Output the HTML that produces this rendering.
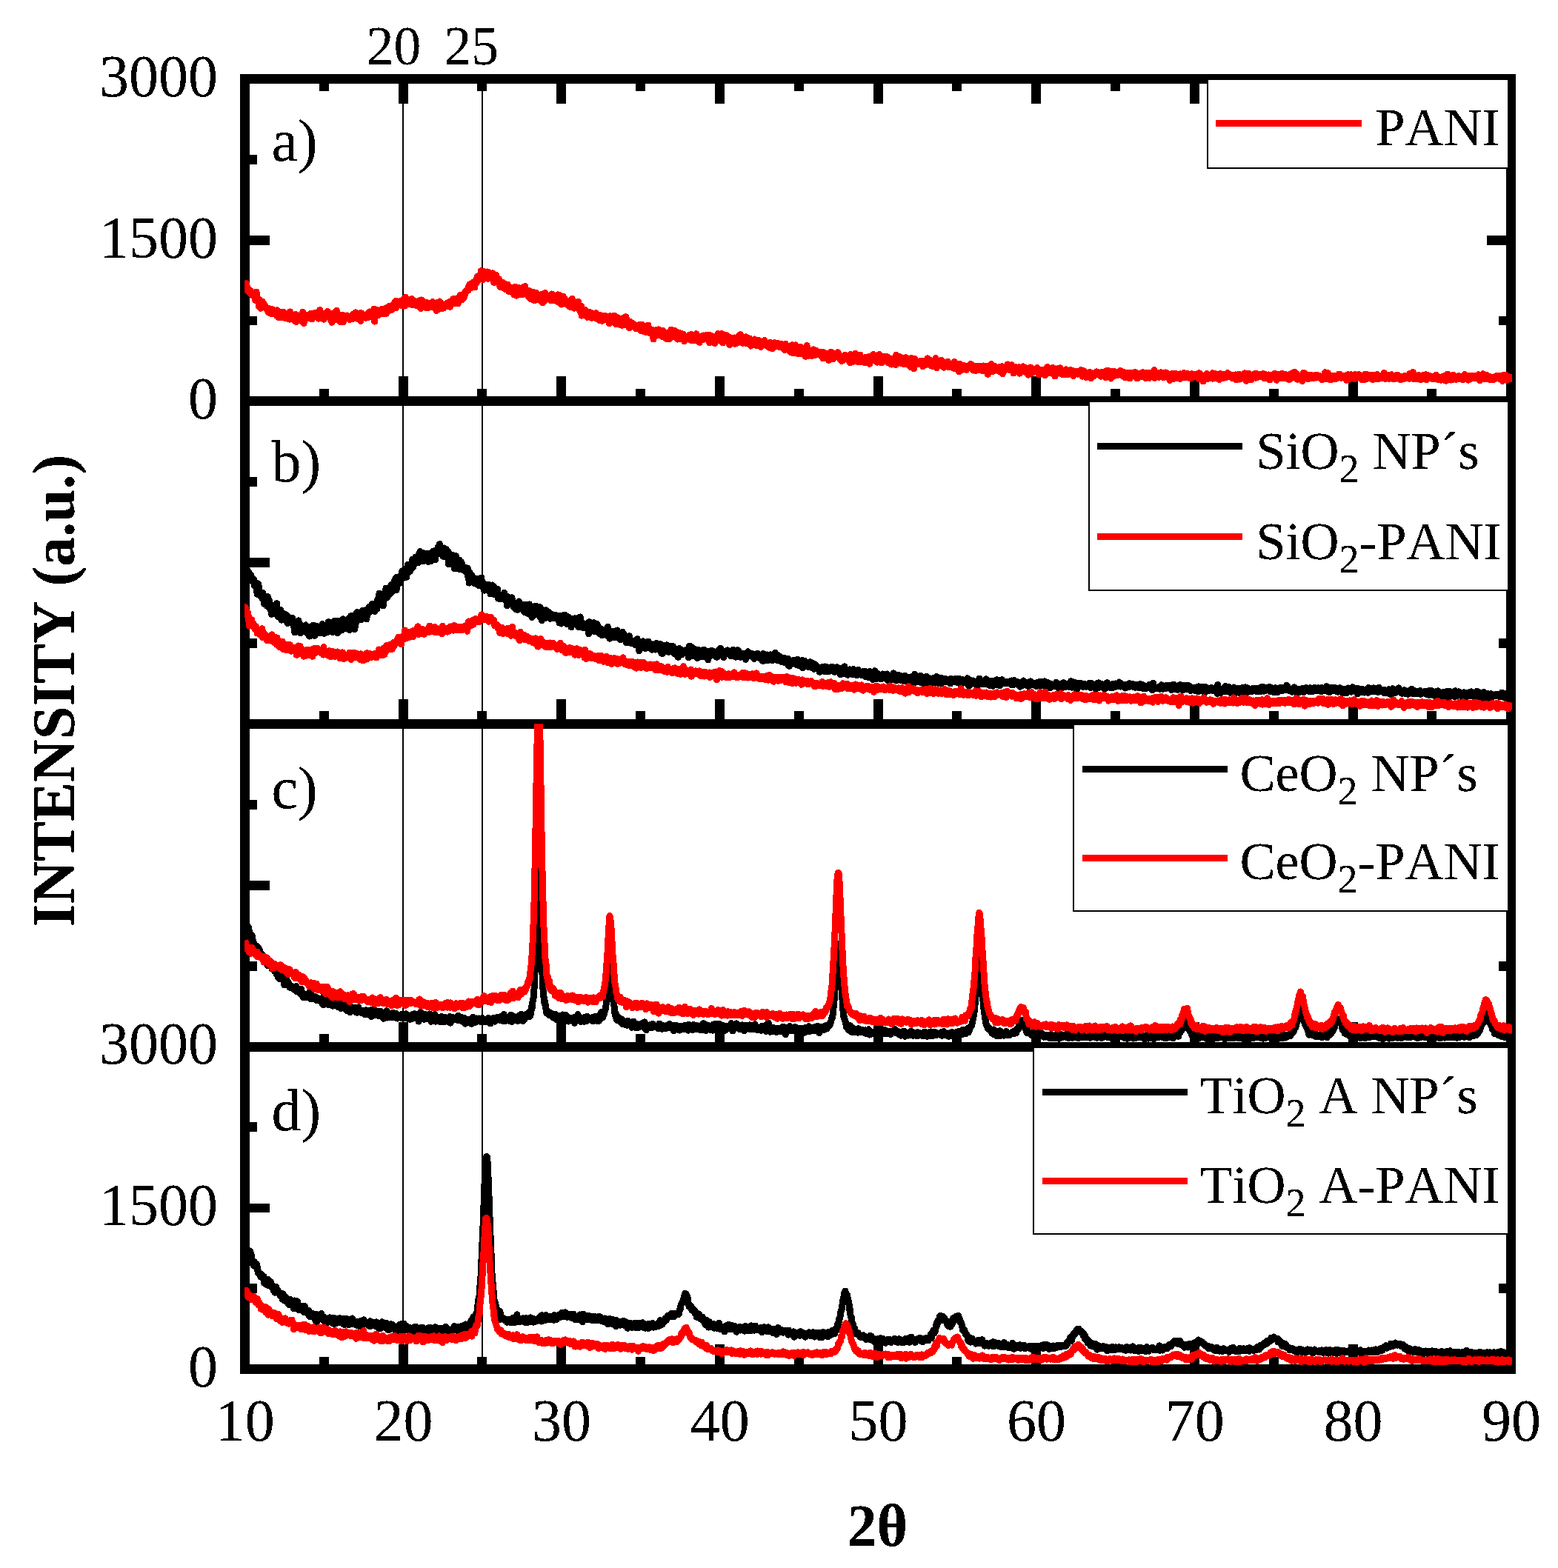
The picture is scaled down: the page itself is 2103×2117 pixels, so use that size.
<!DOCTYPE html>
<html lang="en"><head><meta charset="utf-8"><title>XRD patterns</title>
<style>
html,body{margin:0;padding:0;background:#fff}
body{width:2103px;height:2117px;overflow:hidden}
svg{display:block}
text{filter:url(#bi);font-kerning:none;font-family:"Liberation Serif","DejaVu Serif",serif;fill:#000}
.tk{font-size:80px}
.lg{font-size:72px}
.tp{font-size:73.5px}
.sb{font-size:54px}
.ti{font-size:80px;font-weight:bold}
</style></head><body>
<svg width="2103" height="2117" viewBox="0 0 2103 2117" shape-rendering="crispEdges">
<rect width="2103" height="2117" fill="#fff"/>
<defs><filter id="bi" x="-5%" y="-5%" width="110%" height="110%" color-interpolation-filters="sRGB"><feComponentTransfer><feFuncA type="discrete" tableValues="0 0 1 1 1"/></feComponentTransfer></filter></defs>
<g id="axes" fill="#000">
<rect x="324" y="508" width="13" height="34"/>
<rect x="324" y="107" width="13" height="33"/>
<rect x="431" y="525" width="13" height="17"/>
<rect x="431" y="107" width="13" height="16"/>
<rect x="538" y="508" width="13" height="34"/>
<rect x="538" y="107" width="13" height="33"/>
<rect x="644" y="525" width="13" height="17"/>
<rect x="644" y="107" width="13" height="16"/>
<rect x="751" y="508" width="13" height="34"/>
<rect x="751" y="107" width="13" height="33"/>
<rect x="858" y="525" width="13" height="17"/>
<rect x="858" y="107" width="13" height="16"/>
<rect x="965" y="508" width="13" height="34"/>
<rect x="965" y="107" width="13" height="33"/>
<rect x="1072" y="525" width="13" height="17"/>
<rect x="1072" y="107" width="13" height="16"/>
<rect x="1179" y="508" width="13" height="34"/>
<rect x="1179" y="107" width="13" height="33"/>
<rect x="1285" y="525" width="13" height="17"/>
<rect x="1285" y="107" width="13" height="16"/>
<rect x="1392" y="508" width="13" height="34"/>
<rect x="1392" y="107" width="13" height="33"/>
<rect x="1499" y="525" width="13" height="17"/>
<rect x="1499" y="107" width="13" height="16"/>
<rect x="1606" y="508" width="13" height="34"/>
<rect x="1606" y="107" width="13" height="33"/>
<rect x="1713" y="525" width="13" height="17"/>
<rect x="1713" y="107" width="13" height="16"/>
<rect x="1820" y="508" width="13" height="34"/>
<rect x="1820" y="107" width="13" height="33"/>
<rect x="1926" y="525" width="13" height="17"/>
<rect x="1926" y="107" width="13" height="16"/>
<rect x="2033" y="508" width="13" height="34"/>
<rect x="2033" y="107" width="13" height="33"/>
<rect x="331" y="100" width="33" height="13"/>
<rect x="2007" y="100" width="33" height="13"/>
<rect x="331" y="209" width="16" height="13"/>
<rect x="2023" y="209" width="17" height="13"/>
<rect x="331" y="318" width="33" height="13"/>
<rect x="2007" y="318" width="33" height="13"/>
<rect x="331" y="427" width="16" height="12"/>
<rect x="2023" y="427" width="17" height="12"/>
<rect x="331" y="535" width="33" height="13"/>
<rect x="2007" y="535" width="33" height="13"/>
<rect x="324" y="944" width="13" height="34"/>
<rect x="431" y="960" width="13" height="18"/>
<rect x="538" y="944" width="13" height="34"/>
<rect x="644" y="960" width="13" height="18"/>
<rect x="751" y="944" width="13" height="34"/>
<rect x="858" y="960" width="13" height="18"/>
<rect x="965" y="944" width="13" height="34"/>
<rect x="1072" y="960" width="13" height="18"/>
<rect x="1179" y="944" width="13" height="34"/>
<rect x="1285" y="960" width="13" height="18"/>
<rect x="1392" y="944" width="13" height="34"/>
<rect x="1499" y="960" width="13" height="18"/>
<rect x="1606" y="944" width="13" height="34"/>
<rect x="1713" y="960" width="13" height="18"/>
<rect x="1820" y="944" width="13" height="34"/>
<rect x="1926" y="960" width="13" height="18"/>
<rect x="2033" y="944" width="13" height="34"/>
<rect x="331" y="535" width="33" height="13"/>
<rect x="2007" y="535" width="33" height="13"/>
<rect x="331" y="644" width="16" height="13"/>
<rect x="2023" y="644" width="17" height="13"/>
<rect x="331" y="753" width="33" height="13"/>
<rect x="2007" y="753" width="33" height="13"/>
<rect x="331" y="862" width="16" height="13"/>
<rect x="2023" y="862" width="17" height="13"/>
<rect x="331" y="971" width="33" height="13"/>
<rect x="2007" y="971" width="33" height="13"/>
<rect x="324" y="1380" width="13" height="34"/>
<rect x="431" y="1396" width="13" height="18"/>
<rect x="538" y="1380" width="13" height="34"/>
<rect x="644" y="1396" width="13" height="18"/>
<rect x="751" y="1380" width="13" height="34"/>
<rect x="858" y="1396" width="13" height="18"/>
<rect x="965" y="1380" width="13" height="34"/>
<rect x="1072" y="1396" width="13" height="18"/>
<rect x="1179" y="1380" width="13" height="34"/>
<rect x="1285" y="1396" width="13" height="18"/>
<rect x="1392" y="1380" width="13" height="34"/>
<rect x="1499" y="1396" width="13" height="18"/>
<rect x="1606" y="1380" width="13" height="34"/>
<rect x="1713" y="1396" width="13" height="18"/>
<rect x="1820" y="1380" width="13" height="34"/>
<rect x="1926" y="1396" width="13" height="18"/>
<rect x="2033" y="1380" width="13" height="34"/>
<rect x="331" y="971" width="33" height="13"/>
<rect x="2007" y="971" width="33" height="13"/>
<rect x="331" y="1080" width="16" height="13"/>
<rect x="2023" y="1080" width="17" height="13"/>
<rect x="331" y="1189" width="33" height="13"/>
<rect x="2007" y="1189" width="33" height="13"/>
<rect x="331" y="1298" width="16" height="13"/>
<rect x="2023" y="1298" width="17" height="13"/>
<rect x="331" y="1407" width="33" height="13"/>
<rect x="2007" y="1407" width="33" height="13"/>
<rect x="324" y="1815" width="13" height="34"/>
<rect x="431" y="1832" width="13" height="17"/>
<rect x="538" y="1815" width="13" height="34"/>
<rect x="644" y="1832" width="13" height="17"/>
<rect x="751" y="1815" width="13" height="34"/>
<rect x="858" y="1832" width="13" height="17"/>
<rect x="965" y="1815" width="13" height="34"/>
<rect x="1072" y="1832" width="13" height="17"/>
<rect x="1179" y="1815" width="13" height="34"/>
<rect x="1285" y="1832" width="13" height="17"/>
<rect x="1392" y="1815" width="13" height="34"/>
<rect x="1499" y="1832" width="13" height="17"/>
<rect x="1606" y="1815" width="13" height="34"/>
<rect x="1713" y="1832" width="13" height="17"/>
<rect x="1820" y="1815" width="13" height="34"/>
<rect x="1926" y="1832" width="13" height="17"/>
<rect x="2033" y="1815" width="13" height="34"/>
<rect x="331" y="1407" width="33" height="13"/>
<rect x="2007" y="1407" width="33" height="13"/>
<rect x="331" y="1515" width="16" height="13"/>
<rect x="2023" y="1515" width="17" height="13"/>
<rect x="331" y="1625" width="33" height="12"/>
<rect x="2007" y="1625" width="33" height="12"/>
<rect x="331" y="1733" width="16" height="13"/>
<rect x="2023" y="1733" width="17" height="13"/>
<rect x="331" y="1842" width="33" height="13"/>
<rect x="2007" y="1842" width="33" height="13"/>
<rect x="324" y="100" width="13" height="1755"/>
<rect x="2033" y="100" width="13" height="1755"/>
<rect x="324" y="100" width="1722" height="13"/>
<rect x="324" y="535" width="1722" height="13"/>
<rect x="324" y="971" width="1722" height="13"/>
<rect x="324" y="1407" width="1722" height="13"/>
<rect x="324" y="1842" width="1722" height="13"/>
</g>
<g id="vlines" fill="#000"><rect x="543" y="107" width="2" height="1742"/><rect x="650" y="107" width="2" height="1742"/></g>
<defs>
<clipPath id="cp0"><rect x="330" y="106.20" width="1711" height="435.60"/></clipPath>
<clipPath id="cp1"><rect x="330" y="541.20" width="1711" height="436.60"/></clipPath>
<clipPath id="cp2"><rect x="330" y="977.20" width="1711" height="436.60"/></clipPath>
<clipPath id="cp3"><rect x="330" y="1413.20" width="1711" height="435.60"/></clipPath>
</defs>
<path clip-path="url(#cp0)" d="M330.5 381.9l.6 3.7l.7 .4l.6 -3.4l.7 8.5l.6 -.3l.6 -2.2l.7 4.5l.6 .1l.7 .5l.6 -.1l.7 2.3l.6 -3.5l.6 2.5l.7 -.5l.6 4l.7 -1.1l.6 -.5l.6 -.9l.7 2.3l.6 1.6l.7 -.1l.6 5.7l.6 -.1l.7 -11.1l.6 3.4l.7 6.3l.6 0l.7 2.8l.6 .8l.6 6.8l.7 -9.5l.6 3.1l.7 8.4l.6 -3.7l.6 .7l.7 -3.1l.6 -3l.7 6.3l.6 .4l.6 -3.7l.7 2.2l.6 2.5l.7 -2.2l.6 3.1l.7 1.1l.6 .3l.6 -1.2l.7 3.9l.6 1.4l.7 -1.4l.6 -3.2l.6 5.3l.7 -3.6l.6 4.7l.7 -5.8l.6 6.6l.7 -2.7l.6 -3.5l.6 3.2l.7 1.4l.6 1l.7 -3.7l.6 -.2l.6 4.4l.7 -1.9l.6 2.5l.7 1.8l.6 -7.3l.6 6.2l.7 3.2l.6 -4.6l.7 -1.4l.6 5.1l.7 -1.4l.6 2.2l.6 -3.8l.7 -3.4l.6 4.5l.7 -.9l.6 3.9l.6 -1.7l.7 -5.5l.6 1.5l.7 6.6l.6 -.5l.6 -4l.7 2.1l.6 1.5l.7 .2l.6 1.4l.7 -1.8l.6 -1l.6 -.4l.7 4.2l.6 -10.2l.7 6.8l.6 .6l.6 -4.4l.7 5.6l.6 -2.9l.7 4.8l.6 -3l.6 2.6l.7 1.8l.6 -2.5l.7 -3.9l.6 -1.9l.7 10.2l.6 -5.8l.6 -1.8l.7 2.6l.6 -1.1l.7 3.2l.6 -2.5l.6 -.1l.7 -2.3l.6 3.7l.7 -4.7l.6 5.2l.6 2.6l.7 -9.5l.6 -2.9l.7 9.5l.6 5.9l.7 -11l.6 -.9l.6 5.7l.7 -4.5l.6 .9l.7 .4l.6 2.6l.6 -3.1l.7 2l.6 -1.6l.7 -2.3l.6 1.5l.7 -2.2l.6 2.8l.6 -3.7l.7 0l.6 7.7l.7 -4.8l.6 -.2l.6 1.7l.7 -3l.6 .5l.7 1.9l.6 -.5l.6 -4.5l.7 6l.6 -4.4l.7 -1.6l.6 .4l.7 1.5l.6 6.2l.6 -8.7l.7 4.1l.6 -7.2l.7 6.6l.6 2.7l.6 -3.5l.7 -1.2l.6 2.7l.7 1.4l.6 -.1l.6 4.1l.7 -5.4l.6 -2.4l.7 1.5l.6 .2l.7 .6l.6 -.3l.6 .7l.7 -5.6l.6 7.8l.7 -4.2l.6 -1.8l.6 5.7l.7 2.2l.6 -2.5l.7 -.9l.6 -3.3l.6 11.9l.7 -6.1l.6 -6.1l.7 1.3l.6 2.8l.7 -4.9l.6 5.5l.6 -1.8l.7 5.3l.6 -.6l.7 -11.2l.6 8.6l.6 -5l.7 8.5l.6 -2.8l.7 1.3l.6 -4.9l.6 9l.7 .7l.6 -9.4l.7 4.5l.6 -3.1l.7 2.1l.6 -3.8l.6 9.8l.7 -8.7l.6 2.1l.7 2.6l.6 -3.5l.6 1.3l.7 -1l.6 1.4l.7 -3.2l.6 2.3l.7 .7l.6 -.4l.6 1.1l.7 -1.1l.6 3.1l.7 -3.4l.6 .5l.6 -1.8l.7 .3l.6 -2.4l.7 5.4l.6 -5.2l.6 1.1l.7 3.3l.6 0l.7 -2.5l.6 -5.1l.7 7.4l.6 -.5l.6 -5.2l.7 6.7l.6 -4.6l.7 -1.3l.6 3.7l.6 -.9l.7 1.2l.6 -5.6l.7 10.5l.6 -7.5l.6 -2.9l.7 6.6l.6 -3l.7 2l.6 -2.1l.7 .9l.6 .8l.6 -3.1l.7 4.3l.6 -3.6l.7 -1.3l.6 2.8l.6 1l.7 -2.2l.6 -2.1l.7 4.4l.6 -7.4l.6 2.1l.7 3.1l.6 -4.4l.7 4.1l.6 -.4l.7 2.8l.6 -5.8l.6 .8l.7 2.8l.6 -8.8l.7 16.9l.6 -11.8l.6 -.2l.7 4.7l.6 -3l.7 -5.5l.6 7.2l.6 .5l.7 -4.2l.6 .3l.7 2.2l.6 -4.5l.7 3.9l.6 -1l.6 -2.9l.7 -2.4l.6 3.2l.7 -2.3l.6 5.4l.6 -3l.7 1.6l.6 -2.4l.7 0l.6 -3.7l.7 4.1l.6 2.9l.6 -6.8l.7 -1.3l.6 .9l.7 -1.4l.6 -1l.6 2.2l.7 -1.7l.6 5l.7 -4.7l.6 .7l.6 1.6l.7 -4.1l.6 5l.7 -6.6l.6 -.8l.7 1.1l.6 .5l.6 -4.2l.7 3.9l.6 -5.2l.7 9.1l.6 -4.7l.6 -1.9l.7 -1l.6 1.4l.7 .3l.6 -2.6l.6 .2l.7 2l.6 -1.2l.7 4.3l.6 .5l.7 -3.6l.6 1.2l.6 -5.7l.7 5.9l.6 -2.1l.7 1.4l.6 3.3l.6 -11.9l.7 7.7l.6 -4.2l.7 5.2l.6 -5.8l.6 2.5l.7 2.2l.6 1.3l.7 -1.6l.6 -2.6l.7 .8l.6 4.4l.6 -2.6l.7 -5l.6 7.8l.7 -1.3l.6 1.5l.6 -3.6l.7 3.7l.6 -5.7l.7 5l.6 -3.1l.6 3.6l.7 1.1l.6 -5.3l.7 2.2l.6 .3l.7 3.6l.6 -1.5l.6 -5.8l.7 5.2l.6 .9l.7 4.3l.6 -11.5l.6 3.5l.7 5.8l.6 -8.1l.7 .5l.6 5.3l.7 1.6l.6 -5l.6 3.8l.7 -1.2l.6 4.4l.7 -4.5l.6 3.2l.6 -5.6l.7 2.3l.6 .4l.7 3.9l.6 -1.5l.6 -3.9l.7 4.5l.6 .4l.7 -2.6l.6 -.3l.7 .3l.6 -4.5l.6 5.8l.7 .3l.6 -3.3l.7 5l.6 -6.3l.6 2.5l.7 .4l.6 7.5l.7 -10.8l.6 6.7l.6 1.2l.7 -1.7l.6 2.5l.7 -6.6l.6 -3.8l.7 9.3l.6 -6l.6 2.7l.7 -2.7l.6 6.7l.7 -.7l.6 -5l.6 4.8l.7 -2.7l.6 -1l.7 .3l.6 -1.1l.6 2.2l.7 -1.3l.6 -2.3l.7 3.7l.6 -5.2l.7 2.4l.6 .1l.6 2.9l.7 -6.4l.6 6.6l.7 -5.1l.6 -1.4l.6 -1.8l.7 3.5l.6 -1.9l.7 -3.8l.6 -.4l.6 1.4l.7 -.7l.6 5l.7 .5l.6 -1.9l.7 -2l.6 -2.7l.6 1l.7 2.1l.6 3.4l.7 -4.2l.6 -4l.6 .4l.7 -2l.6 -1.5l.7 1.3l.6 .6l.7 4.4l.6 -5.9l.6 3.3l.7 .7l.6 -5.7l.7 4l.6 -3.3l.6 -4.1l.7 1.5l.6 -1.4l.7 -1.4l.6 -.6l.6 .3l.7 .2l.6 -4.8l.7 1.9l.6 -5.3l.7 4.6l.6 .3l.6 -2.2l.7 -.5l.6 .2l.7 -4.6l.6 .6l.6 1.5l.7 .8l.6 -2.5l.7 5.9l.6 -8.6l.6 2.7l.7 .1l.6 -4.8l.7 -2.8l.6 -1.7l.7 3.4l.6 2.2l.6 -3.2l.7 -.9l.6 -2.2l.7 2.3l.6 -8.7l.6 6.7l.7 -1l.6 -4.6l.7 10.5l.6 -11l.6 .8l.7 -.4l.6 7l.7 -6l.6 4.8l.7 -.2l.6 -.8l.6 -4.6l.7 2.3l.6 7l.7 -8.7l.6 1.6l.6 2.2l.7 3.2l.6 -1.5l.7 1.8l.6 -5.2l.6 6.3l.7 -.9l.6 -6.2l.7 9.9l.6 2.7l.7 -8.8l.6 3l.6 4.6l.7 -8.1l.6 -.9l.7 2.6l.6 2.8l.6 .6l.7 4.2l.6 -.5l.7 -4l.6 6l.7 4.4l.6 -1.5l.6 -.2l.7 -2.5l.6 3.4l.7 -5.4l.6 5.6l.6 -2.1l.7 4.1l.6 -1.6l.7 -4.3l.6 4.1l.6 3.7l.7 -6.7l.6 2.1l.7 -.2l.6 -1.9l.7 7.8l.6 1.4l.6 -1.3l.7 -1.3l.6 -.6l.7 1.2l.6 -2.7l.6 5.2l.7 .7l.6 0l.7 -4.1l.6 2l.6 -.4l.7 6.1l.6 -4.6l.7 -6l.6 7.1l.7 4.6l.6 -3.4l.6 .8l.7 -2.4l.6 -5.8l.7 .6l.6 1.8l.6 3.5l.7 1.4l.6 1.3l.7 -3l.6 4l.6 -3.7l.7 -1.1l.6 4.7l.7 -5.2l.6 -5.3l.7 5.1l.6 3.6l.6 -9.4l.7 8.3l.6 .2l.7 -3.1l.6 0l.6 3.2l.7 0l.6 5.6l.7 -2.5l.6 -5.6l.6 2.4l.7 4.8l.6 3.8l.7 -4.3l.6 0l.7 4.8l.6 -5.5l.6 -.7l.7 -3.2l.6 2.9l.7 8.1l.6 -10.6l.6 4.3l.7 -4.1l.6 4.7l.7 2.3l.6 -3.3l.7 3l.6 0l.6 -.7l.7 3.8l.6 -2.7l.7 -3.2l.6 -1l.6 -.5l.7 4.1l.6 -2.3l.7 9.2l.6 -2.6l.6 -6.1l.7 -.2l.6 6.1l.7 -10.6l.6 4.3l.7 4.3l.6 -5.5l.6 1.4l.7 .5l.6 3.1l.7 -1.5l.6 .9l.6 .7l.7 -1.6l.6 3.3l.7 -5.4l.6 -2l.6 -.9l.7 .6l.6 3.3l.7 4.9l.6 -2.4l.7 -2.2l.6 -1.2l.6 1.8l.7 .5l.6 -.3l.7 -2.4l.6 3l.6 4.6l.7 -9.3l.6 5.9l.7 -5.4l.6 7.1l.6 -2.6l.7 -3.8l.6 6.7l.7 5.3l.6 -4.8l.7 3.3l.6 -3.5l.6 -6l.7 8.1l.6 -2.5l.7 -2.9l.6 7l.6 -1.3l.7 -2.2l.6 4.4l.7 -4.9l.6 4.7l.6 -4.4l.7 4.6l.6 -4.6l.7 8l.6 -3.4l.7 3.8l.6 -6.4l.6 1.3l.7 4.3l.6 -10.3l.7 5.4l.6 6.6l.6 -1.2l.7 2l.6 -3.3l.7 3.1l.6 -3.4l.7 -1.4l.6 -.4l.6 3.9l.7 .5l.6 .2l.7 -8.2l.6 5l.6 4.8l.7 2.8l.6 -2.3l.7 -.5l.6 -4l.6 13.2l.7 -9.1l.6 8.6l.7 -.1l.6 -3.6l.7 -2.3l.6 2.4l.6 -3.6l.7 4.4l.6 -.5l.7 1.8l.6 1.5l.6 2.5l.7 -6l.6 4.5l.7 -5.2l.6 -.1l.6 1.1l.7 -.8l.6 6.1l.7 .2l.6 1.3l.7 -3.6l.6 1.2l.6 -2.3l.7 -1.4l.6 5l.7 -.3l.6 -3.8l.6 5.3l.7 -6.7l.6 4.8l.7 -1.1l.6 .4l.6 -1.5l.7 6.2l.6 -1l.7 2l.6 -3l.7 -4.1l.6 2.8l.6 -2.2l.7 4.9l.6 2.4l.7 -2.5l.6 -2.7l.6 .8l.7 1.8l.6 -4.7l.7 4.8l.6 .3l.6 -2.1l.7 .5l.6 1.9l.7 -2.8l.6 .1l.7 4.9l.6 -1.5l.6 4.5l.7 -7.8l.6 -2.2l.7 8.2l.6 .2l.6 -4.9l.7 -2.1l.6 4.3l.7 -4.9l.6 4.3l.7 -5.4l.6 5.8l.6 -5.5l.7 5.7l.6 5.2l.7 -5.2l.6 3.1l.6 -4.1l.7 -.7l.6 -1.7l.7 7.5l.6 -3.2l.6 5l.7 -8.2l.6 2.9l.7 1l.6 4l.7 1.3l.6 -7.2l.6 -1.3l.7 -1.7l.6 9.3l.7 -4l.6 -1.4l.6 2l.7 -7.1l.6 2.7l.7 8.2l.6 -1.3l.6 -.4l.7 -3.1l.6 5l.7 3.8l.6 -8.6l.7 3.9l.6 -1l.6 2.5l.7 -.8l.6 -.2l.7 -2l.6 2.8l.6 -1.6l.7 1.6l.6 .4l.7 2.3l.6 -3.5l.6 1l.7 4.3l.6 -3.6l.7 0l.6 3.5l.7 -1.5l.6 -.4l.6 .6l.7 -4.1l.6 5.2l.7 2.7l.6 -2l.6 -6l.7 5.6l.6 -3.3l.7 2.2l.6 1.3l.6 -3.7l.7 7.6l.6 -3.9l.7 2.7l.6 -.3l.7 2.3l.6 -.3l.6 -7.6l.7 4.6l.6 -6.3l.7 5.2l.6 3.5l.6 .7l.7 1.3l.6 -4.8l.7 2.2l.6 -.6l.7 3.6l.6 1l.6 -5.6l.7 12.3l.6 -11l.7 -.9l.6 2.9l.6 .6l.7 -.4l.6 -3.4l.7 6.4l.6 -4l.6 4.6l.7 -.2l.6 -7.6l.7 1.1l.6 .1l.7 4l.6 -.4l.6 .9l.7 -2.9l.6 3.8l.7 3.1l.6 -7.9l.6 3.5l.7 1.5l.6 -1l.7 -.1l.6 5.8l.6 -1.4l.7 -1.3l.6 -4.6l.7 8.8l.6 -5.5l.7 -2.7l.6 .7l.6 -.4l.7 7.6l.6 -5.6l.7 -.4l.6 -6.5l.6 8.5l.7 -5.2l.6 -.2l.7 5.2l.6 -4.3l.6 5l.7 .9l.6 -8.4l.7 5l.6 -4.1l.7 4.6l.6 3l.6 -6.4l.7 9.4l.6 -5.9l.7 -2.4l.6 3.3l.6 2.9l.7 -6.2l.6 4.3l.7 -3.9l.6 7.8l.6 -3l.7 -1.5l.6 4.4l.7 -6.6l.6 2.8l.7 6.7l.6 -5.6l.6 4.5l.7 -3.2l.6 -2.5l.7 1.5l.6 1.1l.6 -1.3l.7 -1.1l.6 .2l.7 -2l.6 4.7l.7 .9l.6 1.1l.6 -7.5l.7 7.6l.6 -2.4l.7 -4.1l.6 4.5l.6 2.1l.7 -.9l.6 .6l.7 .6l.6 -.1l.6 -2.7l.7 -6l.6 3.9l.7 3.2l.6 -2.4l.7 3.4l.6 .3l.6 -2.2l.7 5.3l.6 -8.3l.7 5.5l.6 -4.2l.6 -.9l.7 3.9l.6 -3.6l.7 4.2l.6 -6l.6 3.4l.7 -2.7l.6 1.7l.7 -.5l.6 -2.2l.7 5.1l.6 -5.6l.6 .8l.7 5.4l.6 .3l.7 -.9l.6 -.9l.6 5.8l.7 -10.1l.6 1.5l.7 -.7l.6 5.7l.6 -1.7l.7 2.5l.6 -.3l.7 -3.3l.6 -1.6l.7 -.4l.6 9.4l.6 -3.5l.7 -1.1l.6 -2.6l.7 .4l.6 -.3l.6 .1l.7 -6l.6 6.9l.7 -.9l.6 2l.6 -.2l.7 1.9l.6 -2.5l.7 2.4l.6 -9.7l.7 4.3l.6 8.2l.6 -8.5l.7 2.7l.6 2.9l.7 -4.6l.6 4.6l.6 -6.2l.7 -1.4l.6 1.7l.7 -1l.6 4.8l.7 -.9l.6 1.9l.6 -4l.7 10.4l.6 -7.6l.7 .1l.6 1.5l.6 -2.1l.7 -1.1l.6 2.1l.7 2.4l.6 -.7l.6 .8l.7 -4.3l.6 -.5l.7 8.2l.6 -6.4l.7 2.2l.6 .9l.6 2.2l.7 -7.9l.6 2.7l.7 .3l.6 .6l.6 -6l.7 6.9l.6 -8l.7 9.4l.6 .8l.6 .2l.7 -5.1l.6 6.3l.7 -5.2l.6 -.9l.7 .7l.6 .5l.6 3l.7 1.9l.6 -8.4l.7 4.6l.6 4.2l.6 -1.9l.7 .9l.6 -5.7l.7 7.1l.6 -7.2l.6 5.2l.7 3.4l.6 1.6l.7 -3.9l.6 1.1l.7 -4.2l.6 .4l.6 4.8l.7 -3.3l.6 -.3l.7 -3.7l.6 4.6l.6 1.5l.7 -4.1l.6 .9l.7 6.1l.6 -4l.6 -1.2l.7 -2.4l.6 1.6l.7 1.2l.6 4.8l.7 -5.6l.6 7.1l.6 -7.7l.7 1.8l.6 3.7l.7 -3l.6 -1.5l.6 2.2l.7 1.8l.6 -6.1l.7 4.3l.6 .5l.7 -.8l.6 3.4l.6 -3.8l.7 .6l.6 1.2l.7 2l.6 -2.8l.6 5l.7 -6.9l.6 6.2l.7 -6.1l.6 2l.6 1.5l.7 4.8l.6 -3.3l.7 -3.7l.6 4.9l.7 -4.4l.6 -1.6l.6 3.5l.7 -1l.6 2.5l.7 -4.2l.6 2.8l.6 .8l.7 -.8l.6 -.7l.7 -1.7l.6 4.8l.6 -1.9l.7 1.3l.6 -2.2l.7 1.3l.6 -2.7l.7 3.4l.6 2.2l.6 -1.7l.7 2.3l.6 -1.3l.7 3.1l.6 -4.3l.6 -4l.7 6.1l.6 -1.6l.7 -2.2l.6 4.8l.6 -1l.7 .6l.6 -2.1l.7 1.7l.6 .2l.7 4.5l.6 -6.9l.6 2.1l.7 1.1l.6 -5.8l.7 .5l.6 10.8l.6 -11l.7 6.8l.6 -3.9l.7 .3l.6 -3.3l.6 3.2l.7 4.9l.6 -6l.7 5.7l.6 -.6l.7 4.9l.6 -6.9l.6 5l.7 -.9l.6 -3.2l.7 -3.8l.6 9.1l.6 -8l.7 2.7l.6 3.9l.7 .8l.6 -5.4l.7 2.4l.6 -.5l.6 4.2l.7 3.9l.6 -12.1l.7 7.9l.6 -10.6l.6 8.3l.7 -3.1l.6 8.9l.7 -5l.6 -2.4l.6 .8l.7 -.1l.6 2.3l.7 -.9l.6 2.4l.7 2.7l.6 -2.3l.6 -5.2l.7 -1l.6 2.5l.7 5.3l.6 -3.8l.6 -.8l.7 2.4l.6 -4.3l.7 .9l.6 4.8l.6 -2.2l.7 -.3l.6 2.3l.7 -2.4l.6 -.2l.7 .7l.6 3.1l.6 -1.4l.7 -3.4l.6 2.6l.7 2.8l.6 3.5l.6 -8.3l.7 4.2l.6 -1.5l.7 3.1l.6 -1l.6 3l.7 -2.6l.6 -3l.7 .1l.6 2.7l.7 0l.6 5.7l.6 -2l.7 -7.9l.6 4.3l.7 -4.6l.6 -.9l.6 6.7l.7 -.5l.6 -4.4l.7 7.6l.6 -7.3l.6 -.5l.7 5.2l.6 -1.2l.7 -.9l.6 .3l.7 .9l.6 -.9l.6 0l.7 -4.7l.6 1.7l.7 5.5l.6 -3.5l.6 3.6l.7 2l.6 -4.3l.7 1.9l.6 5.1l.7 -3.8l.6 3.3l.6 -.7l.7 -2.1l.6 -2.4l.7 -1.9l.6 -.7l.6 4.5l.7 0l.6 -1.7l.7 2.9l.6 -4l.6 4.9l.7 -2.9l.6 -.2l.7 .2l.6 -.3l.7 7.3l.6 -11.3l.6 5l.7 3l.6 -1.4l.7 -2.7l.6 5.7l.6 -7.7l.7 -.6l.6 5.2l.7 -5.5l.6 -2.5l.6 9.1l.7 -.3l.6 0l.7 -3.3l.6 1.9l.7 -3.1l.6 7.5l.6 -2.5l.7 -.1l.6 -7.4l.7 7.7l.6 2l.6 -.7l.7 -1.1l.6 -2.1l.7 -.9l.6 2.7l.6 -.5l.7 -.3l.6 -1.4l.7 5.5l.6 -7.8l.7 3.3l.6 -1.5l.6 4.5l.7 1.1l.6 -.5l.7 -1.3l.6 -6l.6 9.6l.7 -4.3l.6 -1.7l.7 .3l.6 -1l.6 2l.7 -.3l.6 -1.9l.7 -6.1l.6 6.9l.7 1.4l.6 .1l.6 -1.9l.7 1.6l.6 1.6l.7 -4.1l.6 5.3l.6 -9.4l.7 1.9l.6 1l.7 -4.2l.6 3.9l.7 6.2l.6 0l.6 -3.1l.7 4.4l.6 -4l.7 -2l.6 2l.6 -1l.7 2.4l.6 -6.1l.7 6.9l.6 -4l.6 3.6l.7 -6.5l.6 3.1l.7 1.4l.6 2.3l.7 -5.8l.6 7.9l.6 -3.2l.7 -2.7l.6 4.8l.7 -3l.6 2.9l.6 3.2l.7 -4.2l.6 -3.4l.7 .3l.6 2.8l.6 -.8l.7 -2.9l.6 .5l.7 3.7l.6 4.6l.7 -13.5l.6 9.2l.6 -2.5l.7 2.8l.6 .3l.7 -2.1l.6 -2.8l.6 -1l.7 -1.2l.6 8.5l.7 -3.8l.6 -.9l.6 .8l.7 -2.8l.6 4.5l.7 2.9l.6 -.5l.7 -7.2l.6 8l.6 -5.7l.7 -3l.6 1.9l.7 .8l.6 2.6l.6 -2.7l.7 -1.2l.6 3.4l.7 6l.6 -7l.6 3.2l.7 -1l.6 7.1l.7 -12.3l.6 8.2l.7 -6.3l.6 1.9l.6 1.4l.7 8.9l.6 -10.6l.7 -2.9l.6 8.6l.6 -5.7l.7 1.7l.6 .7l.7 .4l.6 -.7l.7 1.2l.6 .4l.6 1.3l.7 -3.3l.6 -.8l.7 -.8l.6 4.5l.6 -1.7l.7 1.7l.6 0l.7 3.1l.6 -3.9l.6 1.5l.7 -5.2l.6 .3l.7 2.1l.6 -2.4l.7 5.2l.6 -5.4l.6 3.8l.7 -6.8l.6 3.7l.7 2.1l.6 .2l.6 -4.1l.7 5.1l.6 2.4l.7 -.9l.6 -3.4l.6 .2l.7 -1.6l.6 4.9l.7 2.2l.6 -5.2l.7 -3.1l.6 5.1l.6 1.3l.7 -9.1l.6 7.7l.7 5.4l.6 -3.5l.6 -.7l.7 -.4l.6 1.8l.7 -5.3l.6 .3l.6 3.4l.7 -2.9l.6 2.6l.7 -5.7l.6 7.1l.7 .3l.6 -2l.6 .4l.7 3.9l.6 -7.1l.7 .5l.6 -.4l.6 1.9l.7 -1.5l.6 2.9l.7 -1.8l.6 -2l.6 -.2l.7 7.4l.6 -3.3l.7 -.3l.6 .8l.7 -.2l.6 2.3l.6 -.5l.7 -2.9l.6 -.6l.7 -.6l.6 -.3l.6 7.1l.7 -6.1l.6 -2.8l.7 3.2l.6 .2l.7 3l.6 -3.1l.6 3.8l.7 -.3l.6 2.3l.7 2.5l.6 1.8l.6 -3.9l.7 -6.5l.6 2l.7 1.8l.6 4.8l.6 -3.6l.7 1.5l.6 -3.6l.7 2l.6 .4l.7 -3l.6 3.3l.6 .8l.7 -3.2l.6 3.1l.7 1.8l.6 -4.2l.6 -.1l.7 -.8l.6 -.7l.7 2.1l.6 -1.5l.6 .3l.7 -1.1l.6 -2l.7 1.6l.6 3.4l.7 -3.9l.6 1.5l.6 6l.7 -1.3l.6 -4.7l.7 3.5l.6 -3.2l.6 6l.7 -5.7l.6 1.8l.7 3.5l.6 -5.7l.6 5.6l.7 -5.5l.6 2.9l.7 -1.3l.6 .6l.7 .7l.6 -.5l.6 -2.4l.7 5l.6 -.3l.7 1.6l.6 .3l.6 -7l.7 6.9l.6 .1l.7 -4.7l.6 4.2l.6 1.2l.7 -5.2l.6 -2.1l.7 2.7l.6 8.2l.7 -6.6l.6 -3.7l.6 2.5l.7 -1.9l.6 1.6l.7 1.3l.6 -7l.6 7.6l.7 2.8l.6 -4.2l.7 -.5l.6 3.8l.7 -6.1l.6 .1l.6 -.4l.7 3.2l.6 1.4l.7 -1.2l.6 1.6l.6 .8l.7 -.9l.6 -3.4l.7 1.4l.6 3.9l.6 -5.9l.7 2.1l.6 -.5l.7 .6l.6 -2.3l.7 -.7l.6 10.1l.6 -4.1l.7 -4.3l.6 1.7l.7 1.9l.6 -2.7l.6 2.5l.7 -3.2l.6 .7l.7 .7l.6 -1l.6 -5.1l.7 6.4l.6 .6l.7 .5l.6 -3.7l.7 3.4l.6 -.3l.6 -5.1l.7 -1.1l.6 6.9l.7 -3.6l.6 5l.6 3l.7 -7l.6 -.2l.7 1.7l.6 1.8l.6 -4.6l.7 6.2l.6 -.6l.7 -.8l.6 -3.1l.7 3.8l.6 -.1l.6 -5.3l.7 8.5l.6 -6.1l.7 1.8l.6 -2.2l.6 2.3l.7 2.1l.6 -5l.7 -2.2l.6 3.2l.6 -2.2l.7 1.5l.6 1.6l.7 .2l.6 3.6l.7 -5.9l.6 3.6l.6 -2.2l.7 4.9l.6 3l.7 -5.6l.6 3.6l.6 -5.5l.7 -2.7l.6 .9l.7 -.7l.6 1.7l.7 1.9l.6 3.7l.6 -1.1l.7 -.5l.6 -2.2l.7 -.7l.6 2l.6 .4l.7 .4l.6 .3l.7 -1.2l.6 -4.5l.6 2.1l.7 .8l.6 6.5l.7 -5.4l.6 2.9l.7 2l.6 -2.8l.6 -1.9l.7 .3l.6 -1.8l.7 3.3l.6 2.1l.6 -1.4l.7 .5l.6 -.1l.7 3.2l.6 -6.7l.6 2l.7 1.4l.6 1.4l.7 -9.3l.6 4.8l.7 .8l.6 -2.1l.6 4.8l.7 -1.6l.6 -1.6l.7 -3.1l.6 .8l.6 .9l.7 3.6l.6 -4.2l.7 -2.2l.6 1.6l.6 2.2l.7 5.7l.6 2.1l.7 -7.6l.6 3.6l.7 1.2l.6 -.3l.6 -3.5l.7 -3l.6 2l.7 -3.4l.6 5.2l.6 1.4l.7 -6.7l.6 4.6l.7 .9l.6 2.5l.6 .3l.7 -1.4l.6 -3.7l.7 .8l.6 4l.7 -4.5l.6 1.5l.6 4l.7 -3.5l.6 -3.7l.7 2.7l.6 2.4l.6 -2l.7 3.5l.6 .3l.7 -4.8l.6 .5l.7 1l.6 -2.7l.6 4.1l.7 -1.4l.6 2.5l.7 -3.4l.6 -.7l.6 6.9l.7 -6.7l.6 .7l.7 -.3l.6 1.1l.6 -1.4l.7 2.2l.6 -1.6l.7 .7l.6 2l.7 .9l.6 -.5l.6 -3l.7 2.9l.6 -1.2l.7 .1l.6 -4l.6 6l.7 -2l.6 4.7l.7 -2.6l.6 -4.4l.6 -.5l.7 6.3l.6 -5l.7 3.9l.6 -2.4l.7 6l.6 -5l.6 3.6l.7 -.4l.6 -4.4l.7 .4l.6 4.5l.6 -3.6l.7 -2.2l.6 5.2l.7 3.4l.6 -6.4l.6 3.5l.7 -3.8l.6 3.7l.7 -3.9l.6 3.9l.7 -1.9l.6 -1.8l.6 1l.7 -1.9l.6 -1.5l.7 .2l.6 2.5l.6 -2.5l.7 3.7l.6 .3l.7 -.2l.6 -2.4l.6 1.4l.7 -.2l.6 3.4l.7 -5.3l.6 1l.7 .4l.6 .2l.6 -1.5l.7 .3l.6 4.1l.7 -4.1l.6 3.9l.6 2.7l.7 -1.9l.6 -7.5l.7 6.3l.6 -.7l.7 .1l.6 -5.3l.6 5.9l.7 -4.6l.6 5.9l.7 -.6l.6 3.7l.6 -7.2l.7 -2.8l.6 6.3l.7 -.4l.6 -3.1l.6 4.3l.7 -1.6l.6 -4.8l.7 2.3l.6 -.2l.7 .8l.6 .8l.6 -2.1l.7 1.2l.6 2l.7 -1.6l.6 -.5l.6 0l.7 .5l.6 -4.4l.7 5.1l.6 -2.9l.6 2.8l.7 -3.8l.6 5.9l.7 -1.6l.6 -3.9l.7 3.9l.6 -2.4l.6 6.3l.7 -3.2l.6 -3.1l.7 2.5l.6 -.6l.6 3l.7 -2l.6 .4l.7 -3.9l.6 4.7l.6 3.2l.7 -3.6l.6 -1.6l.7 .5l.6 -2.7l.7 2.8l.6 -3.1l.6 2.9l.7 -1.1l.6 -1l.7 3.4l.6 -5l.6 3.6l.7 -3.1l.6 7.7l.7 .3l.6 -2.7l.6 2.6l.7 -3.2l.6 -.1l.7 -2.3l.6 -1.1l.7 2.5l.6 -1.6l.6 .2l.7 2.8l.6 -2l.7 -3.5l.6 3.3l.6 -1.4l.7 1.2l.6 -2l.7 5.6l.6 1.7l.7 -7.3l.6 4.3l.6 -.2l.7 -4l.6 2.8l.7 3.2l.6 -1.4l.6 1.9l.7 -6.7l.6 1l.7 2.5l.6 .1l.6 -.8l.7 -1l.6 0l.7 -.5l.6 2.5l.7 -7.7l.6 10.5l.6 -5.1l.7 -2.2l.6 4.8l.7 -4.7l.6 4.3l.6 -1.9l.7 2.4l.6 .4l.7 1.2l.6 -4.2l.6 .4l.7 .7l.6 -3.4l.7 4.9l.6 -1.2l.7 -3.5l.6 6.1l.6 .4l.7 -6.4l.6 4.5l.7 1.6l.6 -.9l.6 -4.4l.7 -1l.6 3.1l.7 -.9l.6 1.2l.6 -.2l.7 1.5l.6 -2.6l.7 1l.6 7.5l.7 -7.4l.6 2.1l.6 -1.1l.7 -.1l.6 -2.7l.7 3.4l.6 -1.3l.6 2.1l.7 2.9l.6 -4.4l.7 1.4l.6 -4.3l.6 2.8l.7 3.4l.6 -3.8l.7 -1.4l.6 2l.7 -.9l.6 -.1l.6 -.3l.7 5.6l.6 -6.7l.7 1.1l.6 -.4l.6 4.3l.7 -3.6l.6 3.8l.7 -2.7l.6 -.4l.7 -3.4l.6 6.4l.6 -1.6l.7 -.3l.6 -1.2l.7 -.7l.6 -2l.6 5.3l.7 -1.6l.6 -1.5l.7 -.6l.6 1.8l.6 -.5l.7 4.1l.6 -2l.7 -3.2l.6 -1.2l.7 2.1l.6 -1.6l.6 2.3l.7 .8l.6 .6l.7 -.5l.6 -1.4l.6 1.9l.7 -3.5l.6 1.9l.7 2.1l.6 -1.2l.6 -3.6l.7 .3l.6 -1.1l.7 8.1l.6 -7.9l.7 3.3l.6 4.7l.6 -1.8l.7 .6l.6 -4.2l.7 2.9l.6 5.4l.6 -7.2l.7 1.1l.6 -1.7l.7 .7l.6 1l.6 2.4l.7 -5.4l.6 -1.2l.7 3.4l.6 .5l.7 2.8l.6 -1.6l.6 -3.1l.7 2.8l.6 1.3l.7 -2l.6 -1.4l.6 2.4l.7 -2.4l.6 -3.5l.7 7.4l.6 -6.1l.6 2.3l.7 0l.6 0l.7 .1l.6 -2.7l.7 4.6l.6 -1.2l.6 .1l.7 2.4l.6 0l.7 .6l.6 1.2l.6 -3.3l.7 -4.6l.6 4.1l.7 -.5l.6 .2l.7 -1.6l.6 -.6l.6 3.9l.7 .4l.6 -4.9l.7 3.9l.6 -1.6l.6 -.6l.7 2.5l.6 -1.7l.7 -1.1l.6 1.4l.6 -4.8l.7 3.3l.6 .4l.7 -2.3l.6 3.7l.7 .2l.6 -2l.6 1l.7 1.9l.6 .9l.7 -4.2l.6 2.6l.6 1.6l.7 -2.5l.6 -1.7l.7 0l.6 1l.6 -1.6l.7 7l.6 -5.9l.7 2.2l.6 -.5l.7 1.1l.6 -2.4l.6 -2.1l.7 6.8l.6 -4l.7 .5l.6 .2l.6 2.4l.7 -1.1l.6 .9l.7 -.8l.6 -1.5l.6 .2l.7 -2.3l.6 -2.7l.7 3.9l.6 -1.9l.7 8.4l.6 -2.4l.6 -.9l.7 -3.9l.6 6l.7 -8.7l.6 1.2l.6 1l.7 -.4l.6 2.5l.7 .1l.6 3.9l.6 -2.1l.7 .6l.6 -1.9l.7 -1.3l.6 -1.2l.7 -1.9l.6 1.5l.6 1.1l.7 2.6l.6 -5.6l.7 .8l.6 3.6l.6 -2.9l.7 3.2l.6 -1.7l.7 -.8l.6 -1.3l.7 2.8l.6 -1.5l.6 .3l.7 0l.6 1.8l.7 0l.6 -4.3l.6 3.6l.7 1.2l.6 1.5l.7 -.6l.6 -1.3l.6 -3.1l.7 .9l.6 3.8l.7 -3.7l.6 4l.7 .5l.6 -5.3l.6 3.4l.7 -1.2l.6 4.8l.7 -2.6l.6 -3.1l.6 2.1l.7 -3l.6 1.7l.7 .8l.6 -.1l.6 .4l.7 -2.8l.6 -2.1l.7 3.4l.6 -1.2l.7 .4l.6 6.4l.6 -2.2l.7 -3l.6 -2.8l.7 .3l.6 3.7l.6 1.6l.7 -3l.6 .9l.7 .3l.6 1.8l.6 -6.6l.7 4.6l.6 .5l.7 1.3l.6 -1.3l.7 -3.3l.6 1.1l.6 -2.1l.7 3.9l.6 0l.7 .7l.6 -3.3l.6 -.4l.7 6l.6 -3l.7 3.5l.6 -2.9l.6 -4.3l.7 5.1l.6 .9l.7 -3.7l.6 -3.3l.7 5.8l.6 -1.8l.6 .9l.7 -6.6l.6 7l.7 -7.1l.6 4.2l.6 3.9l.7 -6.1l.6 0l.7 3.1l.6 4.7l.7 -.1l.6 -4.9l.6 3.6l.7 -1l.6 -.7l.7 .2l.6 -2.4l.6 3.4l.7 .6l.6 3.7l.7 -4l.6 -7.5l.6 2.8l.7 3.4l.6 -.6l.7 -4.3l.6 3.9l.7 -.5l.6 .7l.6 -.2l.7 2.3l.6 1.2l.7 -1.7l.6 -4l.6 .6l.7 .4l.6 1.4l.7 -.8l.6 .1l.6 -1.2l.7 4.1l.6 -.2l.7 .3l.6 -2.3l.7 1.2l.6 -3.1l.6 -.2l.7 1.1l.6 2.5l.7 -1.7l.6 -2.2l.6 2.8l.7 .7l.6 -.6l.7 -1.8l.6 1.6l.6 -1l.7 .2l.6 .5l.7 1.9l.6 2.3l.7 -.6l.6 -2l.6 -2.3l.7 .2l.6 .1l.7 3.2l.6 -8.6l.6 6.6l.7 -4.9l.6 4.3l.7 3l.6 -5l.6 -3l.7 7.9l.6 .5l.7 -2.2l.6 1.6l.7 -4.5l.6 4.3l.6 1.2l.7 -2.3l.6 -.8l.7 2.2l.6 -.3l.6 -4.1l.7 4.6l.6 -1.4l.7 -1.3l.6 2.6l.7 -.9l.6 -.4l.6 -2.7l.7 2.9l.6 -4.2l.7 2.1l.6 -3.4l.6 0l.7 4.7l.6 -1.1l.7 .3l.6 1.1l.6 -.5l.7 -2.7l.6 2.1l.7 -.3l.6 -1l.7 .9l.6 -.5l.6 -.7l.7 .7l.6 1.3l.7 3.9l.6 -6.2l.6 2.9l.7 -4.3l.6 6.6l.7 -4.1l.6 1l.6 2.5l.7 -.7l.6 -5.4l.7 4.5l.6 -1.7l.7 1.8l.6 -1l.6 1.3l.7 -1l.6 -.9l.7 2.8l.6 -5.8l.6 2.4l.7 -1.2l.6 1.8l.7 -.6l.6 .6l.6 -.7l.7 0l.6 -2.5l.7 3.4l.6 .8l.7 -2l.6 -.1l.6 0l.7 5l.6 -3.2l.7 .5l.6 -1.5l.6 -.4l.7 -.9l.6 5.3l.7 -7l.6 4.3l.6 -.7l.7 -.5l.6 -2.8l.7 .7l.6 4.8l.7 -3.6l.6 3.3l.6 -.4l.7 -.2l.6 .4l.7 -4.2l.6 1.5l.6 2.5l.7 -4.1l.6 6.2l.7 -4.7l.6 1l.7 -2l.6 3l.6 -2.4l.7 1.1l.6 -2l.7 5l.6 -6l.6 4.4l.7 -.4l.6 .4l.7 -3.1l.6 4.4l.6 -.2l.7 -1.7l.6 .4l.7 -1l.6 1.7l.7 -3.2l.6 3l.6 -.3l.7 -3.9l.6 -2.6l.7 5.3l.6 0l.6 2.9l.7 -2.5l.6 -1.2l.7 -1.8l.6 2.7l.6 -1l.7 -1.1l.6 2.1l.7 2.5l.6 -2.1l.7 -2.4l.6 2.9l.6 -3l.7 -1l.6 4.4l.7 -2.2l.6 3.5l.6 -1.7l.7 -2.4l.6 2.2l.7 2.3l.6 -3.2l.6 -1.8l.7 .8l.6 -.3l.7 -.8l.6 -.2l.7 3.6l.6 1.5l.6 -3.1l.7 2.4l.6 .3l.7 1.6l.6 -3.9l.6 -.4l.7 1.6l.6 -.6l.7 .4l.6 2.1l.6 -3.6l.7 1.3l.6 -2.5l.7 1.7l.6 -1.1l.7 -.1l.6 1.1l.6 -.5l.7 1.7l.6 1l.7 -4.9l.6 5.3l.6 -6.8l.7 5.2l.6 1l.7 -2.9l.6 .9l.7 -1.2l.6 3.6l.6 -8.6l.7 4.7l.6 -2.1l.7 4.5l.6 2.3l.6 -.2l.7 -1.1l.6 -.9l.7 -2.1l.6 4.2l.6 -1.3l.7 -3.1l.6 -.9l.7 1.4l.6 3.6l.7 .3l.6 .8l.6 -5l.7 .9l.6 3.6l.7 -2.4l.6 1.1l.6 -4.3l.7 2l.6 .7l.7 -.7l.6 -.1l.6 -2.6l.7 6.8l.6 -3l.7 -3.4l.6 5.3l.7 -2.1l.6 1.4l.6 -1.9l.7 -1.2l.6 0l.7 2.3l.6 .9l.6 -.6l.7 .3l.6 1.2l.7 -1.9l.6 1.5l.6 .2l.7 -1.7l.6 -.7l.7 -.8l.6 -1.5l.7 -.8l.6 6l.6 -2.8l.7 -1.1l.6 4.5l.7 -1.3l.6 -1.9l.6 2l.7 -2.5l.6 1.2l.7 3l.6 -1.6l.6 -2.7l.7 2l.6 1l.7 -2.7l.6 -.6l.7 4.7l.6 -4.4l.6 -2.1l.7 3l.6 4.4l.7 -3.4l.6 .7l.6 -6.4l.7 3.3l.6 3.7l.7 -3.3l.6 3.5l.7 -1.7l.6 -.2l.6 2.7l.7 -4.5l.6 .1l.7 1.2l.6 .2l.6 -3.9l.7 6l.6 -2.1l.7 -.8l.6 1.7l.6 -2.1l.7 3.3l.6 -2.4l.7 1.4l.6 -3.3l.7 1.2l.6 1.4l.6 -2.7l.7 .6l.6 1.2l.7 2.4l.6 -.7l.6 .3l.7 -1.3l.6 1.3l.7 1.3l.6 -2.8l.6 .5l.7 .3l.6 -5.3l.7 3.9l.6 1.1l.7 .7l.6 -2.2l.6 2.6l.7 -3.3l.6 1l.7 3.8l.6 -6.2l.6 2.6l.7 -.2l.6 .2l.7 -.9l.6 2.4l.6 -3.5l.7 -.5l.6 3.6l.7 -3.4l.6 3.2l.7 -.7l.6 -1.5l.6 .7l.7 .5l.6 1.2l.7 -2.2l.6 .8l.6 -2.5l.7 2.4l.6 -3.4l.7 3.8l.6 -.8l.6 5.2l.7 -1.7l.6 -2.9l.7 2.3l.6 -1.4l.7 -2.9l.6 -2.6l.6 7.2l.7 -1.5l.6 -4.7l.7 5.2l.6 .6l.6 -3.2l.7 2.9l.6 -5l.7 3l.6 .5l.7 1.5l.6 -.7l.6 -.4l.7 .7l.6 -2.4l.7 4.3l.6 -3.7l.6 2.3l.7 -1.6l.6 -.5l.7 1.7l.6 -.3l.6 1.8l.7 -.5l.6 -3.3l.7 2.1l.6 -.7l.7 -1.9l.6 -.6l.6 2.8l.7 -1.6l.6 -1.7l.7 2.6l.6 .6l.6 -.2l.7 -2.6l.6 1.3l.7 3.9l.6 -4.3l.6 .9l.7 5.3l.6 -3.9l.7 -1.7l.6 -2.9l.7 4.5l.6 -3.4l.6 2.7l.7 -1.6l.6 -1.6l.7 6.6l.6 -3.5l.6 2.1l.7 -.4l.6 -2.9l.7 1.6l.6 -.9l.6 2.7l.7 -1.1l.6 -1.5l.7 4" fill="none" stroke="#f00" stroke-width="9" stroke-linejoin="round" stroke-linecap="butt"/>
<path clip-path="url(#cp1)" d="M330.5 764.8l.6 -1.6l.7 1.8l.6 -7.2l.7 19.2l.6 -1.5l.6 -4.9l.7 5.9l.6 -.9l.7 -2.3l.6 7.6l.7 -4.3l.6 1.1l.6 -.9l.7 6.2l.6 -1.3l.7 3.7l.6 -3.9l.6 4.1l.7 -3.3l.6 8.4l.7 -1.7l.6 1.6l.6 1.4l.7 -4.9l.6 8.6l.7 6.5l.6 -14.5l.7 .6l.6 2.1l.6 10.9l.7 -2l.6 5.1l.7 -.5l.6 -1.2l.6 1.3l.7 -1l.6 5.3l.7 -7.6l.6 3.9l.6 3.6l.7 7.5l.6 -10l.7 -.5l.6 3l.7 7.3l.6 -4.3l.6 7.3l.7 -12.8l.6 13.5l.7 .3l.6 -9.7l.6 7.4l.7 5.2l.6 -4.1l.7 4.5l.6 6.4l.7 -8.3l.6 -1.8l.6 -1.5l.7 6.5l.6 -3l.7 .6l.6 .8l.6 3.7l.7 -6.8l.6 -1.5l.7 -3.3l.6 15.9l.6 -4.3l.7 6.6l.6 -6l.7 -2.7l.6 5.7l.7 -1.9l.6 -4.5l.6 2l.7 11.7l.6 -5.5l.7 .7l.6 -2.6l.6 -1.3l.7 7.2l.6 -3.8l.7 -2.4l.6 3.1l.6 -2.8l.7 5.1l.6 4.5l.7 -8l.6 10.2l.7 -8.5l.6 4l.6 -3.7l.7 3.1l.6 1.7l.7 -1.5l.6 -.5l.6 .6l.7 0l.6 -2.6l.7 6.1l.6 3.4l.6 2.7l.7 -.6l.6 8.2l.7 -8.7l.6 -2.9l.7 10.4l.6 -12.2l.6 9l.7 -7.9l.6 6l.7 -9.7l.6 12.7l.6 -4.3l.7 -3.2l.6 11.7l.7 -3.6l.6 -2.9l.6 -3.1l.7 3.2l.6 -.3l.7 4l.6 .5l.7 -6.1l.6 .6l.6 .2l.7 -3.4l.6 3.3l.7 2.2l.6 3.5l.6 2.8l.7 -9.1l.6 5.9l.7 -4.2l.6 10.8l.7 -9l.6 2.4l.6 -6.1l.7 .6l.6 4.4l.7 -2.5l.6 3.2l.6 -8.1l.7 9.6l.6 -6.7l.7 11.4l.6 -8.6l.6 6l.7 -10.6l.6 7.9l.7 -5.5l.6 1.8l.7 2.3l.6 -1.4l.6 2.5l.7 2.2l.6 -.4l.7 -3.1l.6 -5.4l.6 2.4l.7 2.6l.6 -8.3l.7 12.3l.6 -4.4l.6 -.3l.7 4.9l.6 -1.4l.7 -2.3l.6 -5.5l.7 5.2l.6 -.2l.6 -5.6l.7 7.9l.6 -2.6l.7 -11l.6 8.7l.6 -6.2l.7 10.1l.6 -1.6l.7 -8.2l.6 .8l.6 4.2l.7 -1.6l.6 7.5l.7 -3.4l.6 -4.4l.7 3.6l.6 -11.2l.6 10l.7 2.3l.6 -4.5l.7 -2.3l.6 5.4l.6 5.8l.7 -7.5l.6 -5.8l.7 10.9l.6 -14.3l.6 10l.7 -4.8l.6 6.3l.7 -7.9l.6 9.1l.7 -4.7l.6 -8.9l.6 -1.3l.7 6.7l.6 6.6l.7 -5.3l.6 -.5l.6 -1.6l.7 3.8l.6 -1.8l.7 -.7l.6 -5.7l.7 9l.6 .5l.6 -11.6l.7 15.2l.6 -7l.7 -5.4l.6 -6.3l.6 10.7l.7 -.7l.6 -5.1l.7 -5.4l.6 12.2l.6 -7.6l.7 .3l.6 13.8l.7 -3.3l.6 -5.3l.7 -6.3l.6 4.4l.6 -12.9l.7 9.9l.6 -4l.7 -2.6l.6 -1.7l.6 8.6l.7 -2.2l.6 -.1l.7 2.5l.6 -7.6l.6 -2l.7 -2.7l.6 5.7l.7 4.2l.6 -4.3l.7 2.9l.6 -8.2l.6 2.6l.7 -1.7l.6 -2.5l.7 12.7l.6 -4.7l.6 -7.4l.7 -.5l.6 2.5l.7 -6.4l.6 7.5l.6 -7.9l.7 3.4l.6 -3.4l.7 1.8l.6 -4.2l.7 -1.6l.6 2.1l.6 .6l.7 1.1l.6 .9l.7 5.6l.6 -3.6l.6 -5.2l.7 3.6l.6 -6.7l.7 8.5l.6 -4.5l.6 -8.7l.7 8.3l.6 -.4l.7 -15.6l.6 7.6l.7 .5l.6 -6.9l.6 3l.7 -.2l.6 5.4l.7 -1.6l.6 9.1l.6 -13.6l.7 5.8l.6 -5.3l.7 0l.6 -6.9l.7 -4l.6 4.1l.6 5.7l.7 2.7l.6 -5l.7 -1.2l.6 -6.4l.6 9.3l.7 -1.5l.6 -8.7l.7 1.4l.6 -4.7l.6 9.8l.7 -5.1l.6 -2.8l.7 1.5l.6 -.5l.7 -4.2l.6 -4.1l.6 -.8l.7 -2.5l.6 8.6l.7 6.9l.6 -17.3l.6 7.2l.7 .4l.6 -6.6l.7 4.4l.6 -6.2l.6 8.9l.7 -8.3l.6 2.2l.7 1.7l.6 -5.5l.7 -6.5l.6 4.5l.6 4.7l.7 -4.4l.6 .6l.7 -6.4l.6 4.4l.6 1.7l.7 -3.7l.6 7.1l.7 -9.7l.6 -4.3l.6 -3.3l.7 10.9l.6 -6l.7 3.6l.6 -3.2l.7 4l.6 -2.4l.6 -7.8l.7 1.9l.6 2.6l.7 -10.6l.6 10.6l.6 -1.7l.7 -1.6l.6 -5.6l.7 1.6l.6 -6.4l.6 4.6l.7 -3.1l.6 2.5l.7 -2.8l.6 3l.7 3.5l.6 -10.8l.6 9.2l.7 -12.6l.6 -.9l.7 8.3l.6 .4l.6 1.6l.7 -9l.6 6.5l.7 .6l.6 4.6l.7 -5.9l.6 2.5l.6 -6.5l.7 3.1l.6 -1.2l.7 4.7l.6 -7.2l.6 .5l.7 5.9l.6 5l.7 -6.1l.6 -.4l.6 -2.8l.7 5.9l.6 -2.5l.7 4.9l.6 -6l.7 -5.5l.6 1.4l.6 -2l.7 -1.3l.6 10.3l.7 -2.3l.6 -8.9l.6 12.4l.7 -6.8l.6 -5.4l.7 5.3l.6 -2.3l.6 -3.2l.7 -5.3l.6 8.1l.7 .9l.6 -12.3l.7 13l.6 .2l.6 -4.6l.7 2.5l.6 -1.5l.7 -2.3l.6 2.2l.6 7.4l.7 -11.6l.6 7.3l.7 .1l.6 -3.5l.6 1.5l.7 -3.7l.6 2.6l.7 4l.6 1.7l.7 -4.8l.6 16.9l.6 -14.8l.7 3.3l.6 -1.1l.7 -.2l.6 7.6l.6 -6.8l.7 8.2l.6 -.1l.7 -8.4l.6 9.3l.6 -6.3l.7 14.8l.6 -12.2l.7 -1.6l.6 -3.2l.7 3.2l.6 3.6l.6 -1l.7 -.4l.6 2.8l.7 2.6l.6 7.3l.6 -12.5l.7 5.3l.6 -1.2l.7 -1.8l.6 1.5l.7 2l.6 7.1l.6 -3.3l.7 -.9l.6 5.2l.7 -.8l.6 -1.6l.6 3.1l.7 -4.4l.6 6.5l.7 0l.6 -2.9l.6 -2.6l.7 12l.6 -5l.7 12.8l.6 -14.2l.7 7l.6 -4.3l.6 3.6l.7 3.2l.6 -5.8l.7 3.7l.6 1.8l.6 .6l.7 2.6l.6 2.4l.7 -.2l.6 -1.8l.6 -2l.7 -2.7l.6 2l.7 1.3l.6 5.3l.7 -3.8l.6 -3.1l.6 7.9l.7 -5.4l.6 .5l.7 2.5l.6 3.1l.6 -11.2l.7 5.5l.6 5.5l.7 -1.8l.6 -1.7l.6 1.6l.7 8l.6 -7.1l.7 4.9l.6 .5l.7 -4.7l.6 3.8l.6 -3.3l.7 -.4l.6 -1.9l.7 8.2l.6 -4.8l.6 -.4l.7 -2l.6 11.9l.7 -3.9l.6 -3.2l.6 -1.9l.7 -2.9l.6 7.6l.7 .4l.6 -6.2l.7 10.6l.6 -.9l.6 -6.3l.7 2.1l.6 1.1l.7 2.9l.6 -.6l.6 -5.3l.7 12.7l.6 -3.9l.7 4.2l.6 .5l.7 -5.3l.6 2.6l.6 2l.7 .6l.6 -3.3l.7 -1.3l.6 2.9l.6 -2.8l.7 1.3l.6 -5.3l.7 8.6l.6 -3.9l.6 2.2l.7 2.3l.6 1.7l.7 6.5l.6 -6.2l.7 -5.8l.6 6.3l.6 -2.5l.7 4.2l.6 -3.8l.7 .2l.6 1.1l.6 -.1l.7 -4.2l.6 4.7l.7 2.9l.6 4.9l.6 -5.4l.7 0l.6 4l.7 .1l.6 4.4l.7 -3.6l.6 -2l.6 5.5l.7 1l.6 -7.4l.7 2.7l.6 -6.7l.6 5.3l.7 -1.6l.6 2.8l.7 -.8l.6 1.5l.6 .5l.7 2.5l.6 -.7l.7 -2.7l.6 -2.5l.7 9.7l.6 .9l.6 -6.8l.7 4l.6 -7.7l.7 0l.6 5l.6 6.7l.7 -9.3l.6 .9l.7 9.3l.6 -13l.6 9.6l.7 -.5l.6 -2.5l.7 1.6l.6 9.2l.7 -13.9l.6 3.2l.6 .4l.7 -1.5l.6 -2.3l.7 11l.6 -4.9l.6 -7.2l.7 4.1l.6 4.3l.7 .2l.6 -6.6l.7 5.2l.6 1.5l.6 .7l.7 .2l.6 -8l.7 13.7l.6 -5.8l.6 6.1l.7 4l.6 -10.9l.7 -3.7l.6 7.9l.6 -3.7l.7 -.8l.6 -1.9l.7 10.1l.6 -7.5l.7 -3.4l.6 3.7l.6 -2.4l.7 5l.6 -1.9l.7 -2.1l.6 6.2l.6 -4.3l.7 5.1l.6 2.2l.7 -5.7l.6 -.9l.6 3.3l.7 2.7l.6 -3l.7 .7l.6 -.4l.7 1.4l.6 1.4l.6 -4.6l.7 1l.6 2.1l.7 -2.3l.6 3.1l.6 1.7l.7 -1.8l.6 -1.9l.7 -.4l.6 9.2l.6 -2.9l.7 -6.9l.6 1.1l.7 9.9l.6 -1.1l.7 -4.8l.6 3.9l.6 -9.3l.7 5.5l.6 2.7l.7 -9.1l.6 4l.6 5.7l.7 1.3l.6 -6l.7 3.3l.6 4.7l.6 -6.9l.7 -3.2l.6 4.6l.7 -1.1l.6 6.1l.7 -3.9l.6 -3.2l.6 11.4l.7 -10l.6 3.5l.7 .9l.6 .6l.6 -2l.7 1.6l.6 -2.1l.7 -4.5l.6 4.4l.7 .2l.6 .3l.6 1.3l.7 -2.5l.6 7l.7 1.1l.6 -12.9l.6 7.9l.7 -2.3l.6 -6.3l.7 10.7l.6 -3.4l.6 1.1l.7 -.7l.6 6.3l.7 .8l.6 -3.1l.7 1.8l.6 -2.5l.6 1.1l.7 -2.8l.6 3l.7 -2.3l.6 4l.6 1.8l.7 -1.6l.6 3.3l.7 5.3l.6 -16.2l.6 7.5l.7 -1.8l.6 .6l.7 -2.9l.6 5l.7 -.9l.6 -1l.6 1.4l.7 -.9l.6 -5.8l.7 11.8l.6 -4.5l.6 -2l.7 4.4l.6 -3.1l.7 -4.9l.6 10.6l.6 -8.5l.7 5.1l.6 1.3l.7 4.4l.6 -.4l.7 -3.2l.6 -3l.6 1.4l.7 5.3l.6 2.5l.7 -4l.6 -3.8l.6 5.8l.7 -4.5l.6 .1l.7 .6l.6 3.1l.6 -.9l.7 2.6l.6 1.2l.7 -2.4l.6 -9.3l.7 2.3l.6 6.4l.6 -.5l.7 7.5l.6 -7l.7 -.3l.6 3.9l.6 .6l.7 -4.1l.6 2.5l.7 -5.1l.6 .8l.7 7.4l.6 -8.5l.6 7.8l.7 -.6l.6 .5l.7 .6l.6 -1l.6 -8.7l.7 3.9l.6 1.6l.7 5.1l.6 -6.5l.6 1.6l.7 1.3l.6 5.7l.7 -8.8l.6 .5l.7 6.7l.6 -8.8l.6 8.3l.7 -2.3l.6 -3.3l.7 4.1l.6 -1.6l.6 4.1l.7 1l.6 4l.7 -4.5l.6 .7l.6 -1.8l.7 2.2l.6 3.8l.7 -9.3l.6 8.6l.7 -3.5l.6 2.2l.6 1.1l.7 1.9l.6 -1.7l.7 -1.8l.6 2.4l.6 -.7l.7 -.5l.6 1.5l.7 2.3l.6 -2.1l.6 .2l.7 -4.4l.6 3.9l.7 -5.4l.6 8.4l.7 -5.1l.6 7.3l.6 5.5l.7 -10.6l.6 5.6l.7 -2.8l.6 -2.9l.6 -.7l.7 4.5l.6 2.8l.7 -3.2l.6 -5.7l.6 1.6l.7 2.7l.6 5.1l.7 -3.3l.6 .3l.7 2.9l.6 -4.3l.6 .4l.7 -.1l.6 -4.9l.7 7.2l.6 -.1l.6 1.9l.7 -6.6l.6 1.3l.7 5.6l.6 -1.7l.7 3.4l.6 -6.9l.6 3.5l.7 -2.6l.6 3.2l.7 -2.4l.6 3.3l.6 1.8l.7 -1.1l.6 -7.6l.7 8.6l.6 -1.5l.6 -4.5l.7 .5l.6 2.9l.7 1.8l.6 -3.2l.7 -3.5l.6 5.9l.6 -.3l.7 7l.6 -11.4l.7 11.8l.6 -2.3l.6 -4.4l.7 4.2l.6 -4.7l.7 2.8l.6 -5.1l.6 2.6l.7 -3.2l.6 -1.5l.7 4.2l.6 -1l.7 4l.6 2.3l.6 -4.1l.7 .9l.6 .7l.7 -5.5l.6 6.2l.6 -.6l.7 0l.6 -3l.7 -2.5l.6 5.3l.6 1.8l.7 3.2l.6 -.6l.7 1.1l.6 -3.2l.7 2.4l.6 -4l.6 2.6l.7 .9l.6 5.3l.7 -7.2l.6 -4.5l.6 8l.7 -6.5l.6 2.3l.7 -.7l.6 -1.7l.6 6.7l.7 -2.1l.6 -3.6l.7 2.1l.6 -1.4l.7 3.2l.6 -2.9l.6 -1.1l.7 .4l.6 .7l.7 2.2l.6 -3.5l.6 2.5l.7 1.7l.6 5.6l.7 -4.3l.6 -11.2l.7 7.3l.6 .4l.6 2.2l.7 3.7l.6 -2.3l.7 -8.9l.6 7.8l.6 -.5l.7 1l.6 2.8l.7 -7.1l.6 6.5l.6 -8l.7 5.1l.6 1l.7 5.6l.6 -8.7l.7 -2.8l.6 6.9l.6 -3.9l.7 6.5l.6 -6.6l.7 -.5l.6 6.1l.6 -3.3l.7 2.6l.6 -7l.7 8.9l.6 -6.5l.6 4.1l.7 -5.3l.6 -1.5l.7 3.7l.6 1.2l.7 4l.6 -3.5l.6 1.1l.7 -.2l.6 7l.7 -11.2l.6 5.9l.6 -4l.7 1.2l.6 -2.3l.7 4.8l.6 -6.8l.6 -.2l.7 3.1l.6 -2.6l.7 5.2l.6 .6l.7 -4.7l.6 4.3l.6 -4l.7 1.7l.6 .2l.7 5.2l.6 -5.3l.6 -2.5l.7 0l.6 5.9l.7 -8l.6 3.3l.6 .3l.7 -5.8l.6 5.5l.7 4.1l.6 -2.1l.7 -3.2l.6 4.5l.6 -.5l.7 4.2l.6 -7.7l.7 1l.6 1.2l.6 -.5l.7 .7l.6 -.5l.7 -1.5l.6 -2.5l.7 3l.6 -2.2l.6 1.1l.7 1.4l.6 3l.7 1.1l.6 -5.2l.6 3.8l.7 1.4l.6 -2.3l.7 -4.4l.6 -1.4l.6 8.1l.7 .3l.6 -1.7l.7 -3.7l.6 6.9l.7 -.7l.6 -3.4l.6 -.5l.7 -4.7l.6 7.4l.7 -6.5l.6 6.3l.6 .1l.7 -1.7l.6 4l.7 -5.2l.6 2.5l.6 .6l.7 -1.5l.6 -1.7l.7 4.5l.6 -2l.7 -1.6l.6 .3l.6 .9l.7 6l.6 -5.7l.7 -.8l.6 -2l.6 -.2l.7 -1.7l.6 5.9l.7 -.4l.6 -2.8l.6 -1.1l.7 3.2l.6 -.5l.7 -2.1l.6 4.5l.7 -.4l.6 -.4l.6 2.3l.7 -3.8l.6 5.4l.7 -6.2l.6 4.1l.6 .4l.7 -2.4l.6 1.7l.7 -4.3l.6 -.5l.6 3.5l.7 -1.3l.6 3.6l.7 -1.5l.6 1.7l.7 -.8l.6 -.2l.6 -.2l.7 -1.2l.6 -.2l.7 6.7l.6 -10l.6 4.2l.7 3.3l.6 -1.5l.7 2.7l.6 -2.3l.7 -4.7l.6 2.5l.6 -2.7l.7 6.4l.6 1.2l.7 -4.9l.6 2.6l.6 -2.4l.7 -2.7l.6 2.7l.7 -3l.6 2.8l.6 2.1l.7 1.4l.6 1.6l.7 -4.3l.6 1.6l.7 .6l.6 .4l.6 -8.9l.7 5.6l.6 4.2l.7 -4.9l.6 3.8l.6 1.7l.7 -7l.6 4.7l.7 1.3l.6 -.4l.6 -3.8l.7 5.2l.6 -2.2l.7 3.9l.6 -.8l.7 -2.4l.6 2.1l.6 -2.1l.7 .2l.6 -2.2l.7 3.7l.6 2.8l.6 -1.6l.7 -.3l.6 -1.4l.7 .4l.6 3.4l.6 -5.7l.7 9.4l.6 -5.5l.7 6l.6 -2.5l.7 -4l.6 3.1l.6 -1.2l.7 .7l.6 1l.7 -3.4l.6 0l.6 .6l.7 -2.3l.6 3l.7 1.4l.6 .1l.6 0l.7 -1.4l.6 3.2l.7 -7.2l.6 4.4l.7 .3l.6 3.3l.6 -.5l.7 .5l.6 -1.9l.7 2.5l.6 -4.9l.6 2.9l.7 -5.5l.6 9.9l.7 -.1l.6 -5.6l.7 -.5l.6 -3.1l.6 1.6l.7 4.4l.6 -.6l.7 -3.2l.6 2.6l.6 -.3l.7 3l.6 .8l.7 -2.3l.6 1l.6 -.2l.7 -5.2l.6 6l.7 -.5l.6 2.2l.7 -6.5l.6 6.8l.6 -3.5l.7 2.5l.6 2.5l.7 -6.7l.6 .5l.6 6l.7 -5.3l.6 .6l.7 4.1l.6 -1.9l.6 2.7l.7 -1.1l.6 -.7l.7 2.7l.6 3.2l.7 -5.7l.6 4.2l.6 -.7l.7 -2.5l.6 1l.7 -3.4l.6 1l.6 2.4l.7 -.7l.6 3.6l.7 -6.5l.6 2.7l.6 -.8l.7 1.3l.6 3.4l.7 -5.9l.6 5.3l.7 -3.6l.6 .8l.6 3.4l.7 -3.2l.6 2.5l.7 -1.3l.6 -.7l.6 -.4l.7 -3.4l.6 2.6l.7 2.3l.6 .2l.6 -4.2l.7 6.3l.6 -1l.7 -4.6l.6 .7l.7 4l.6 -5.7l.6 2.7l.7 1.8l.6 -.1l.7 .2l.6 1.2l.6 -2.9l.7 .8l.6 6.5l.7 -8.6l.6 2.4l.7 1.5l.6 -1.8l.6 4.7l.7 -2.8l.6 1.8l.7 -8.3l.6 9.5l.6 0l.7 -4.7l.6 5.2l.7 -2.5l.6 1.7l.6 2.3l.7 -4.2l.6 -2.7l.7 2.6l.6 -3.1l.7 1.3l.6 .1l.6 .2l.7 4.8l.6 -.8l.7 -4.2l.6 5.1l.6 -6.9l.7 2.6l.6 1.3l.7 3.4l.6 -1.1l.6 -.6l.7 2.2l.6 -1.4l.7 1.7l.6 -5.3l.7 -2.1l.6 3.2l.6 3.1l.7 -1.3l.6 1.7l.7 -.4l.6 -.4l.6 .9l.7 -3.6l.6 4.5l.7 -5l.6 2.4l.6 -3.1l.7 4.9l.6 -4.9l.7 7.4l.6 -6.6l.7 4.1l.6 -.8l.6 -1.7l.7 5.3l.6 -4l.7 4.8l.6 -6l.6 .6l.7 -2.8l.6 6.3l.7 .9l.6 -1.6l.6 -.8l.7 -1.8l.6 8l.7 -3.8l.6 -6.3l.7 3.8l.6 -5.5l.6 10.2l.7 1.1l.6 -1.2l.7 -3.6l.6 -1.3l.6 -1.9l.7 4.8l.6 -3.1l.7 1l.6 -.6l.7 .8l.6 3l.6 2l.7 -3.7l.6 -.3l.7 -2.7l.6 -.2l.6 .5l.7 4.7l.6 -1.5l.7 1.8l.6 -1.2l.6 -2l.7 -2l.6 2.2l.7 -2.5l.6 8.3l.7 -4.1l.6 -1.5l.6 5.8l.7 -5.7l.6 2.3l.7 -1.6l.6 1.3l.6 -1.7l.7 2.1l.6 2.4l.7 -6.4l.6 -2.3l.6 8.7l.7 -2.8l.6 1.8l.7 -2.8l.6 4.5l.7 .8l.6 -7.1l.6 4.5l.7 -3.1l.6 -2.3l.7 3.2l.6 2.2l.6 -4.6l.7 .3l.6 6.1l.7 -2.8l.6 .9l.6 -3.6l.7 1.2l.6 1.9l.7 .3l.6 -.1l.7 3.5l.6 -3.3l.6 -4l.7 1.6l.6 2l.7 3.3l.6 -4.7l.6 .8l.7 .9l.6 -1.5l.7 -.3l.6 1.5l.6 3l.7 -1.2l.6 -1.8l.7 1.7l.6 -3.9l.7 5.5l.6 -.6l.6 -1l.7 -4.5l.6 8.8l.7 -11.7l.6 4.6l.6 .2l.7 3.9l.6 -5.1l.7 4.1l.6 -.8l.7 -.3l.6 2.8l.6 1.4l.7 -2.4l.6 -1.6l.7 -4.6l.6 8.9l.6 -4.2l.7 -3.6l.6 4.8l.7 3.1l.6 -3.7l.6 -2.4l.7 8.1l.6 -3.8l.7 -.6l.6 1.6l.7 -7.4l.6 4.9l.6 -.2l.7 5.8l.6 -6.6l.7 0l.6 -1.9l.6 1.3l.7 1.5l.6 1.1l.7 -1l.6 5.2l.6 -3.5l.7 .3l.6 1.8l.7 -1.7l.6 -2.7l.7 -2.4l.6 4.5l.6 -2.8l.7 5.1l.6 -4.9l.7 -3.4l.6 5.4l.6 2.4l.7 -3l.6 1l.7 -.1l.6 3.7l.6 -3.3l.7 -.8l.6 -1.3l.7 -2.4l.6 7.2l.7 -.6l.6 -4.9l.6 3.7l.7 -.7l.6 -1.6l.7 .2l.6 2.5l.6 -4.6l.7 1.6l.6 1.1l.7 .2l.6 -.5l.6 1l.7 .8l.6 -3.3l.7 2.3l.6 -1.4l.7 4.7l.6 -6.7l.6 2.7l.7 2.2l.6 -2.3l.7 -.1l.6 -.4l.6 2l.7 -3.4l.6 2.5l.7 0l.6 -3.1l.7 4l.6 -1.7l.6 1.8l.7 1.3l.6 -1.1l.7 -3.5l.6 3.5l.6 -4.4l.7 2l.6 5.6l.7 -3.8l.6 3.6l.6 -4l.7 .5l.6 -2.5l.7 4.7l.6 -2.5l.7 1.9l.6 -.4l.6 .3l.7 -.5l.6 -.8l.7 .2l.6 -1.6l.6 -3.2l.7 6l.6 3.7l.7 -2.3l.6 2.9l.6 -4.1l.7 -3.3l.6 0l.7 4l.6 -.9l.7 -1.1l.6 2l.6 -3.6l.7 3.2l.6 -1.8l.7 1l.6 2.4l.6 -3l.7 3.4l.6 -.1l.7 -4.6l.6 6.9l.6 -8l.7 2.6l.6 1.9l.7 -6.8l.6 7.5l.7 .2l.6 -2.8l.6 .9l.7 -.1l.6 -.9l.7 2.8l.6 -3.2l.6 .8l.7 .9l.6 1.1l.7 .6l.6 -5.8l.6 -1.2l.7 4.2l.6 .2l.7 -2.3l.6 3.1l.7 .8l.6 -.6l.6 2.9l.7 -6l.6 2.4l.7 4.2l.6 -2.7l.6 -4l.7 2.9l.6 2.2l.7 2l.6 -3.1l.7 1.1l.6 -5l.6 1.9l.7 3.2l.6 -4.7l.7 2l.6 -4l.6 7.4l.7 -3.5l.6 1.5l.7 -4.5l.6 .4l.6 6.9l.7 -4.7l.6 -.4l.7 2.3l.6 .1l.7 -5.5l.6 2.2l.6 2.3l.7 -.1l.6 .8l.7 -1.7l.6 .4l.6 1.1l.7 -2l.6 -.3l.7 .7l.6 1.2l.6 -.3l.7 -.7l.6 .5l.7 .5l.6 .8l.7 .1l.6 -3.6l.6 5l.7 -5.6l.6 4.7l.7 -2.7l.6 2.9l.6 1l.7 -6.3l.6 5.4l.7 -.7l.6 -1.6l.6 1.9l.7 -1.9l.6 1.4l.7 -2.5l.6 4l.7 -.4l.6 .4l.6 -3l.7 5.4l.6 .3l.7 -4.4l.6 -.6l.6 0l.7 2.4l.6 .8l.7 -3.8l.6 -2.7l.6 5.3l.7 -1l.6 .5l.7 .8l.6 -3.5l.7 2.6l.6 -.8l.6 1.5l.7 1.8l.6 -2.6l.7 -1.8l.6 4.6l.6 -1.1l.7 -2l.6 -3.3l.7 2l.6 2.2l.7 .9l.6 -2.3l.6 2.1l.7 -2.3l.6 .5l.7 2.1l.6 -1.7l.6 .9l.7 1.6l.6 .6l.7 -3.6l.6 .7l.6 -2.2l.7 0l.6 3.5l.7 -1.8l.6 -2.7l.7 5l.6 -2.8l.6 1.1l.7 1.6l.6 -.1l.7 -.9l.6 -4.1l.6 5.5l.7 -2.5l.6 -1.7l.7 -1.6l.6 7.5l.6 -2.5l.7 0l.6 1l.7 -1.4l.6 -2.9l.7 4.6l.6 .7l.6 -1l.7 2.1l.6 .8l.7 -5.6l.6 .7l.6 2.9l.7 -1.5l.6 .1l.7 1.5l.6 -.4l.6 -2.4l.7 1.2l.6 -1.8l.7 1.1l.6 -1.9l.7 -1.7l.6 3l.6 -.2l.7 3.2l.6 1.4l.7 -3.2l.6 .9l.6 -2.3l.7 -.6l.6 1.3l.7 0l.6 1.2l.6 -.3l.7 3.2l.6 -3.9l.7 -3l.6 3.7l.7 -1.7l.6 1.9l.6 1.9l.7 -3.7l.6 1.2l.7 1.2l.6 -3l.6 2.4l.7 .7l.6 .5l.7 .6l.6 -1.1l.7 -.3l.6 -3.8l.6 -2.6l.7 3.5l.6 5l.7 -2.7l.6 -4.9l.6 3.8l.7 1.6l.6 -4.6l.7 5l.6 -3.5l.6 4.5l.7 -2.1l.6 6.4l.7 -9.2l.6 3.4l.7 -3.7l.6 5.5l.6 -2.1l.7 1.6l.6 -1.6l.7 -2.7l.6 1.1l.6 -1.2l.7 .4l.6 2.5l.7 2l.6 -.5l.6 -.6l.7 -2.3l.6 2.3l.7 -2.8l.6 2.2l.7 1.3l.6 -2.1l.6 -.6l.7 .1l.6 2.2l.7 -1.9l.6 -2.3l.6 2.1l.7 -1.3l.6 5.3l.7 -3.1l.6 -3l.6 3.6l.7 .9l.6 -.7l.7 -1.5l.6 1l.7 .3l.6 1.5l.6 -1.3l.7 3.9l.6 -5.1l.7 3.6l.6 -3.1l.6 -3.6l.7 1.1l.6 -1.3l.7 .2l.6 6l.6 -3.8l.7 2.6l.6 -3.1l.7 1.8l.6 -2.1l.7 3.9l.6 -2.3l.6 -.4l.7 .6l.6 4.8l.7 -3.5l.6 .8l.6 -4.3l.7 1.2l.6 1.9l.7 -4.4l.6 6.6l.7 -2.2l.6 -.6l.6 -.4l.7 0l.6 -.6l.7 3.9l.6 -1.4l.6 1.1l.7 -3.2l.6 -1.2l.7 4.6l.6 -5.3l.6 1.3l.7 2.7l.6 .8l.7 -5l.6 2.2l.7 .6l.6 -.3l.6 -1.5l.7 3.1l.6 -2.4l.7 .5l.6 -4.1l.6 4.4l.7 -3.7l.6 5.4l.7 -.5l.6 -2l.6 1.4l.7 -.1l.6 -.6l.7 1.1l.6 -1l.7 -.7l.6 -.7l.6 5.1l.7 -3.1l.6 -.4l.7 1.5l.6 -2.3l.6 .1l.7 2.1l.6 .8l.7 -.8l.6 -4.3l.6 3.1l.7 -.1l.6 1l.7 -2.7l.6 -.3l.7 1.9l.6 -1.6l.6 -.3l.7 2.1l.6 2l.7 -1.5l.6 2l.6 -4.3l.7 3.5l.6 -1.4l.7 -1.7l.6 1l.6 -.9l.7 1.4l.6 -1.1l.7 4.1l.6 -3.2l.7 -2.1l.6 2.5l.6 1.2l.7 -1.3l.6 2.4l.7 -3.6l.6 .2l.6 5l.7 -3.2l.6 1.1l.7 0l.6 .2l.7 -1l.6 -.5l.6 2.6l.7 -3.1l.6 1.3l.7 1.2l.6 -2.1l.6 -2.3l.7 4.1l.6 1.3l.7 -1.6l.6 -3.8l.6 4.7l.7 2.7l.6 -7l.7 -2.3l.6 5l.7 .7l.6 1.4l.6 .2l.7 -1.4l.6 .9l.7 -.4l.6 -.3l.6 -.4l.7 -.1l.6 1.7l.7 -.5l.6 -1.6l.6 3l.7 -3.6l.6 1l.7 .8l.6 -4l.7 3l.6 2.5l.6 0l.7 -4l.6 .7l.7 -.4l.6 1.7l.6 .3l.7 -3l.6 3.9l.7 -.5l.6 -.3l.6 -1.1l.7 1l.6 -3.2l.7 4l.6 0l.7 -.6l.6 -2.1l.6 4.9l.7 -.3l.6 -5.9l.7 4.5l.6 -.5l.6 -5.3l.7 6.1l.6 .2l.7 .2l.6 -1.1l.6 -1.6l.7 .3l.6 2l.7 1.3l.6 -3.3l.7 .4l.6 2l.6 -5.6l.7 5.1l.6 -1.4l.7 -3.8l.6 5.8l.6 -3.3l.7 3.4l.6 1.1l.7 -5.2l.6 .1l.7 2.4l.6 -3.4l.6 4.8l.7 -1l.6 1.5l.7 -5.5l.6 4l.6 .5l.7 -4.5l.6 5.3l.7 -4.5l.6 3.1l.6 -2.9l.7 4.1l.6 1.8l.7 -3.3l.6 0l.7 2.5l.6 -3.5l.6 1l.7 1.5l.6 -.8l.7 2.3l.6 -.7l.6 1.4l.7 -3.8l.6 2.3l.7 -3.8l.6 3.4l.6 1.7l.7 1.2l.6 -7l.7 2.1l.6 1.8l.7 -3.1l.6 2.9l.6 0l.7 -1.9l.6 -.1l.7 -.7l.6 2.5l.6 2l.7 -1.9l.6 5l.7 -8.3l.6 1.8l.6 2.5l.7 -3.5l.6 3l.7 1l.6 -1.2l.7 -.7l.6 2.4l.6 -1l.7 .7l.6 -.3l.7 -2.4l.6 -.8l.6 1.5l.7 1.1l.6 -.6l.7 2.2l.6 -1.3l.6 1.4l.7 -1.6l.6 -1.6l.7 3.1l.6 -.7l.7 -2.6l.6 .8l.6 6.3l.7 -12.1l.6 8.9l.7 -2.1l.6 -.2l.6 -.5l.7 -.4l.6 5.7l.7 -5.5l.6 .3l.7 2.2l.6 -.9l.6 -1l.7 -.2l.6 -2.1l.7 4.8l.6 -4.2l.6 -2.7l.7 6.8l.6 -.5l.7 -.8l.6 -1.7l.6 3.4l.7 -4.5l.6 -2.2l.7 4.7l.6 1.2l.7 -.3l.6 2.9l.6 -2.5l.7 -2.1l.6 .1l.7 2.2l.6 -1.9l.6 -.2l.7 -3.2l.6 2.9l.7 -1.9l.6 3l.6 -.2l.7 1.2l.6 2.1l.7 -3.9l.6 3.2l.7 -5.1l.6 2.6l.6 1.6l.7 2l.6 -6.1l.7 1.7l.6 .8l.6 -.5l.7 -1.7l.6 -1.3l.7 .8l.6 2.2l.6 -2.5l.7 6.2l.6 -1.1l.7 -6.2l.6 2.8l.7 3.6l.6 .2l.6 -.6l.7 -5.1l.6 2.1l.7 3.3l.6 -2.4l.6 -1.1l.7 1.9l.6 1l.7 -1.7l.6 .2l.6 1.6l.7 -3.3l.6 -.7l.7 3.4l.6 -3.9l.7 3.3l.6 -2.4l.6 3l.7 -4l.6 4.6l.7 -1.7l.6 -1.2l.6 -1.1l.7 1.4l.6 -1.6l.7 -.5l.6 4.5l.7 -1l.6 1.3l.6 -5.2l.7 -1.1l.6 .7l.7 4.4l.6 .3l.6 -5.3l.7 5.7l.6 -2.9l.7 -1.5l.6 2.2l.6 1.2l.7 -1.5l.6 0l.7 -1.3l.6 -1.1l.7 2l.6 -2.5l.6 4.4l.7 -2.9l.6 4.3l.7 -5.7l.6 5.9l.6 -4.6l.7 0l.6 2.4l.7 1.1l.6 -1.8l.6 -.7l.7 4.7l.6 -3l.7 -3.3l.6 1.8l.7 3.9l.6 -2.7l.6 .9l.7 2.4l.6 -5.2l.7 1.9l.6 -2l.6 1.3l.7 1l.6 -3.7l.7 3l.6 -.1l.6 1.8l.7 -3.2l.6 -1.3l.7 3.2l.6 -3l.7 2.6l.6 .8l.6 -2.9l.7 1.5l.6 -1.8l.7 -3.5l.6 2.7l.6 -1.2l.7 4.1l.6 -2.1l.7 1.8l.6 .2l.6 2.2l.7 -2.8l.6 -.1l.7 1.8l.6 2.2l.7 -3.3l.6 .8l.6 -1l.7 -1l.6 -1.7l.7 2.9l.6 -.3l.6 0l.7 4.4l.6 -4.6l.7 1.4l.6 -1.4l.7 3.1l.6 -2.9l.6 4.2l.7 -4.1l.6 2l.7 .5l.6 -2.5l.6 2.2l.7 -1.6l.6 -1.6l.7 .2l.6 2l.6 2.9l.7 -4.5l.6 2l.7 -2.6l.6 2.1l.7 -3.1l.6 1.1l.6 1.5l.7 -1.4l.6 .9l.7 2.5l.6 -2.2l.6 -1.1l.7 -1.1l.6 1.4l.7 3.3l.6 -2.4l.6 -.1l.7 1.7l.6 .2l.7 .4l.6 -2.7l.7 -1.1l.6 -1.4l.6 1.9l.7 .6l.6 2.1l.7 -.8l.6 -1.7l.6 2.8l.7 -4.1l.6 .4l.7 -.3l.6 .2l.6 1.6l.7 -1.1l.6 .1l.7 4.1l.6 -5.4l.7 .8l.6 1.5l.6 1.4l.7 .1l.6 -1.5l.7 -.2l.6 .2l.6 2l.7 -3.3l.6 -2.8l.7 5l.6 -2.7l.6 2.2l.7 2.8l.6 -2.5l.7 3.4l.6 -6.7l.7 3.6l.6 .3l.6 .8l.7 -3l.6 1.7l.7 -.1l.6 0l.6 -2.9l.7 -.6l.6 4.4l.7 -.4l.6 -.6l.7 1.2l.6 .8l.6 -4.3l.7 3.7l.6 1.4l.7 -.9l.6 -.8l.6 .2l.7 -4.1l.6 1.8l.7 2.9l.6 .9l.6 -1.9l.7 -1.8l.6 .6l.7 1.9l.6 2.3l.7 -2.4l.6 -2.5l.6 2.2l.7 -.4l.6 3.8l.7 -3.4l.6 -1.1l.6 -.2l.7 -2.3l.6 .4l.7 1.1l.6 -.7l.6 2l.7 -.2l.6 1.6l.7 1.1l.6 -2.6l.7 -.7l.6 -3.2l.6 4.4l.7 .5l.6 -2.7l.7 .7l.6 -.6l.6 3.4l.7 -.8l.6 1.2l.7 -4.7l.6 7.5l.6 -6.8l.7 -.3l.6 2.4l.7 -1.5l.6 4.6l.7 -4.2l.6 -.5l.6 3.2l.7 .5l.6 -4l.7 .8l.6 .2l.6 .4l.7 3.6l.6 -.8l.7 -.3l.6 .4l.6 -2.4l.7 1.7l.6 -1.8l.7 -1.3l.6 4.7l.7 -6.6l.6 3.4l.6 -1l.7 -2.1l.6 2.5l.7 .9l.6 .8l.6 -2.5l.7 3.1l.6 -.8l.7 1l.6 -5.2l.7 2.8l.6 -.3l.6 2.4l.7 -2.5l.6 .4l.7 -1.1l.6 -.1l.6 .5l.7 3.7l.6 -3.9l.7 -2.6l.6 5.3l.6 -1.4l.7 1.9l.6 0l.7 -1.6l.6 -.1l.7 -.3l.6 1.1l.6 -1.4l.7 1.8l.6 2.3l.7 -3.9l.6 .1l.6 0l.7 2.5l.6 .1l.7 1.5l.6 -1.4l.6 -1.1l.7 .7l.6 -3.4l.7 3.6l.6 -.7l.7 3.7l.6 -1.3l.6 -4.2l.7 .5l.6 2.8l.7 -5.6l.6 2.2l.6 2.5l.7 .5l.6 -.8l.7 1.9l.6 -2.8l.6 .8l.7 -.6l.6 -1.7l.7 2.2l.6 -1.1l.7 1.2l.6 -5.1l.6 5.2l.7 -1.2l.6 -.1l.7 1.3l.6 -1l.6 2.7l.7 .6l.6 -.6l.7 .1l.6 -1.1l.6 -.6l.7 -2.5l.6 1.8l.7 3l.6 -.8l.7 -2.4l.6 1.2l.6 1.8l.7 -2.3l.6 3.4l.7 -4.5l.6 3l.6 -.2l.7 -.9l.6 .2l.7 .5l.6 -5.3l.7 5.2l.6 1.3l.6 -1.4l.7 1.5l.6 -4.4l.7 2.1l.6 .8l.6 -1.1l.7 2.8l.6 -1.3l.7 -1.9l.6 2.5l.6 .1l.7 -2.4l.6 2.1l.7 -.5l.6 0l.7 -3l.6 4.8l.6 -1.2l.7 -1.2l.6 .7l.7 0l.6 -1.2l.6 -.5l.7 1.4l.6 -1.3l.7 .2l.6 -1.2l.6 1.7l.7 2.4l.6 -1.4l.7 -.3l.6 -.7l.7 -.1l.6 -2l.6 6l.7 -4.5l.6 -1.4l.7 3.6l.6 -.2l.6 -1.5l.7 -1.8l.6 .3l.7 5.6l.6 -3.2l.6 -1l.7 4.8l.6 -4.5l.7 -.7l.6 2.8l.7 -.3l.6 2.4l.6 -5.9l.7 3.5l.6 -3.7l.7 4.1l.6 -2.1l.6 .4l.7 -.5l.6 3.1l.7 1.5l.6 -3.2l.6 -.3l.7 -.5l.6 2l.7 -2.9l.6 8.7l.7 -7.1l.6 3.7l.6 -2.9l.7 -2.9l.6 -.3l.7 2.2l.6 -.5l.6 .9l.7 -1.7l.6 6.7l.7 -.4l.6 -7.5l.7 4.4l.6 1.4l.6 -2.9l.7 .2l.6 2.6l.7 -1.1l.6 -3.3l.6 4.7l.7 -3.2l.6 4.5l.7 -5.4l.6 -2.5l.6 4.6l.7 2.1l.6 -1.3l.7 -.6l.6 -2.1l.7 3.6l.6 -5.3l.6 5.1l.7 -3.8l.6 1.1l.7 -1.3l.6 .8l.6 4.6l.7 -5.1l.6 2.7l.7 -1.9l.6 3.5l.6 -4.6l.7 2.7l.6 1.7l.7 2.6l.6 -6.5l.7 .6l.6 1.6l.6 2.9l.7 -4.7l.6 3.5l.7 -2.7l.6 -.8l.6 -1.1l.7 3.4l.6 1.6l.7 -2l.6 -3.9l.6 3l.7 3l.6 -.2l.7 -1.1l.6 2.3l.7 -5.2l.6 0l.6 7l.7 -3.2l.6 -1.7l.7 -.5l.6 -4l.6 6.6l.7 -5.6l.6 .2l.7 3.7l.6 3l.6 -3.6l.7 1.5l.6 -1.6l.7 1.7l.6 -4l.7 7.3l.6 -5.9l.6 3l.7 -5.1l.6 7.5l.7 -2.6l.6 3l.6 -5.1l.7 3.3l.6 -2.3l.7 .3l.6 2.6l.7 -4.3l.6 3.2l.6 2.4l.7 -.4l.6 -1.3l.7 -1.4l.6 -2.5l.6 4.7l.7 -4.1l.6 3.7l.7 -2.9l.6 .6l.6 0l.7 1.2l.6 -2l.7 1.2l.6 -1.3l.7 2.1l.6 -.5l.6 .3l.7 -2.5l.6 2.3l.7 -.5l.6 1.1l.6 -1.1l.7 -1.9l.6 3.3l.7 -2.7l.6 1.9l.6 -4.6l.7 5l.6 .3l.7 -3l.6 2.9l.7 -1.8l.6 3.4l.6 -1.4l.7 -3.7l.6 2.1l.7 -3l.6 2.8l.6 1.7l.7 .5l.6 -1.8l.7 -.2l.6 .8l.6 -1.5l.7 1.8l.6 1.6l.7 -1.8" fill="none" stroke="#000" stroke-width="9" stroke-linejoin="round" stroke-linecap="butt"/>
<path clip-path="url(#cp1)" d="M330.5 831.8l.6 -12l.7 9.9l.6 -1.6l.7 1.4l.6 1.7l.6 -4.3l.7 6.2l.6 -1l.7 13l.6 -8.1l.7 -.8l.6 1l.6 -.3l.7 -.4l.6 2.7l.7 3.3l.6 -1.3l.6 4.3l.7 -2.6l.6 1.5l.7 5.2l.6 -2l.6 -2.2l.7 1.8l.6 3l.7 4.9l.6 -5.5l.7 .9l.6 4.4l.6 -4.6l.7 2.5l.6 4.1l.7 -.1l.6 -.8l.6 2.3l.7 -9.5l.6 11.6l.7 -5.3l.6 -1.6l.6 6l.7 1.6l.6 -2.9l.7 -1.5l.6 3.5l.7 0l.6 4.5l.6 -1.6l.7 -1.3l.6 2.9l.7 -3.5l.6 -1.8l.6 4.6l.7 .3l.6 -2l.7 -1.3l.6 3.2l.7 -7.4l.6 9.4l.6 -.3l.7 -5.7l.6 5.2l.7 -2.6l.6 5.2l.6 -7.6l.7 3.5l.6 4.9l.7 1.6l.6 -9.1l.6 5l.7 2.7l.6 -2.3l.7 6.5l.6 -7.6l.7 4.8l.6 -3.7l.6 7.3l.7 -3.7l.6 -.6l.7 -3.4l.6 10l.6 -2.3l.7 .4l.6 1.4l.7 -1.9l.6 -2.5l.6 -.1l.7 .3l.6 6.4l.7 -7.8l.6 2.7l.7 1l.6 1.7l.6 1.1l.7 -5l.6 -1.2l.7 5l.6 3.6l.6 -1.2l.7 -1.4l.6 -1.4l.7 1.8l.6 -1.4l.6 3.1l.7 -4.4l.6 2.7l.7 -.5l.6 1.9l.7 -.7l.6 6.7l.6 -2.8l.7 .2l.6 -9.7l.7 5l.6 -.5l.6 3.4l.7 -7.6l.6 9.9l.7 0l.6 -6.4l.6 1.1l.7 .7l.6 2.6l.7 1.8l.6 4.1l.7 -6.2l.6 2.7l.6 -1.7l.7 4.5l.6 -2.9l.7 1.7l.6 -6.9l.6 2.4l.7 -1.8l.6 6.4l.7 -2.5l.6 -2.8l.7 -.5l.6 2.6l.6 -3.4l.7 -.8l.6 3.9l.7 5.5l.6 -7.6l.6 -.9l.7 -1.7l.6 -.5l.7 5.2l.6 .9l.6 -2.3l.7 .9l.6 -.6l.7 0l.6 -4.6l.7 3l.6 1.6l.6 -2.5l.7 .8l.6 -.9l.7 1.3l.6 3.3l.6 -3.5l.7 .7l.6 2.7l.7 -.4l.6 2.9l.6 -10.5l.7 8.2l.6 -3.6l.7 1.7l.6 2l.7 .8l.6 -.1l.6 -2.3l.7 4.1l.6 -5.2l.7 .5l.6 2.7l.6 -3.6l.7 7.5l.6 -3l.7 3.3l.6 -6l.6 -.8l.7 1.7l.6 1.7l.7 -3.5l.6 2.9l.7 -.9l.6 4.7l.6 -6l.7 4.9l.6 -4.4l.7 -.7l.6 .9l.6 -1.1l.7 3.9l.6 2.6l.7 -2.1l.6 1.4l.6 3l.7 -3.5l.6 0l.7 -1l.6 -3.4l.7 6.7l.6 -6.6l.6 6.9l.7 -1.6l.6 3.3l.7 -3.1l.6 -1.8l.6 3.3l.7 -2.3l.6 1.1l.7 .7l.6 -.5l.7 -.1l.6 -1.8l.6 1.7l.7 -5.4l.6 5.4l.7 -2.9l.6 6.3l.6 .3l.7 -8.9l.6 5.7l.7 -.9l.6 -2.6l.6 4.3l.7 -2.8l.6 -3.7l.7 4l.6 .3l.7 .6l.6 -3.7l.6 5l.7 .2l.6 -5.1l.7 1.2l.6 1.5l.6 -1.4l.7 6.2l.6 -4.2l.7 -3.4l.6 .6l.6 1.9l.7 6.3l.6 -6.8l.7 .8l.6 1l.7 -1.6l.6 6.2l.6 -7.6l.7 3.4l.6 -1.7l.7 1.2l.6 -4.9l.6 7.9l.7 -5.1l.6 .3l.7 -2.7l.6 .5l.6 3.5l.7 1l.6 -.7l.7 1.2l.6 -1.4l.7 -1.9l.6 2.1l.6 -.8l.7 -2l.6 2.1l.7 1.4l.6 -3l.6 -1.7l.7 2.7l.6 3l.7 -5.9l.6 .1l.6 -.3l.7 3.4l.6 -8.4l.7 5.7l.6 1.9l.7 -5.6l.6 6l.6 -2.8l.7 -3.2l.6 1.8l.7 -4.9l.6 2.3l.6 6.1l.7 -7.5l.6 7l.7 -5.4l.6 2.5l.7 -2.8l.6 -6.5l.6 4.2l.7 1.6l.6 -3.9l.7 -.9l.6 4.2l.6 -3.1l.7 -3.2l.6 2.3l.7 3.7l.6 -4.1l.6 3.2l.7 1l.6 -4.6l.7 -3.7l.6 -1.1l.7 2.8l.6 1.8l.6 -2.3l.7 .1l.6 -3.3l.7 1.4l.6 -2.7l.6 -.1l.7 -3.1l.6 -1.3l.7 2.5l.6 -2.2l.6 0l.7 3.9l.6 -2.5l.7 7.6l.6 -5.7l.7 -4.5l.6 3.3l.6 -1.5l.7 -3.1l.6 4.4l.7 -5.4l.6 -6.3l.6 9.8l.7 -4.1l.6 5.3l.7 -6l.6 -1.7l.6 6.9l.7 -7.2l.6 3l.7 3l.6 -3.9l.7 -.8l.6 .2l.6 1.7l.7 -4.6l.6 3.4l.7 -.3l.6 4.4l.6 -7.3l.7 -1.7l.6 4.2l.7 -3.1l.6 1.7l.6 -.6l.7 2.7l.6 -4.9l.7 1.4l.6 -6.5l.7 4.3l.6 6.3l.6 -5.9l.7 -.1l.6 -1.4l.7 4.7l.6 -1.1l.6 -3.6l.7 4.8l.6 -1.2l.7 1.3l.6 -3.8l.7 6.2l.6 -3.6l.6 -1.5l.7 -1.2l.6 .6l.7 2.7l.6 -3.1l.6 3.3l.7 -1.4l.6 1.8l.7 -1.6l.6 -2.4l.6 -5l.7 5.7l.6 1.1l.7 -1.7l.6 .9l.7 -2.7l.6 .3l.6 -1.5l.7 6l.6 -3l.7 -1.7l.6 -2.1l.6 3.2l.7 4.2l.6 -2.5l.7 -2.9l.6 5.6l.6 .1l.7 -1l.6 -.5l.7 1.1l.6 -1.6l.7 .7l.6 -4l.6 5.9l.7 -3.3l.6 4.6l.7 -10.5l.6 7l.6 .6l.7 -3.4l.6 2l.7 .6l.6 -.5l.6 -2.9l.7 .9l.6 2.9l.7 .6l.6 -3.1l.7 -.2l.6 .3l.6 2l.7 -5.4l.6 -.8l.7 3.7l.6 -3.2l.6 1.3l.7 1.6l.6 1l.7 -4l.6 4.7l.6 -6.6l.7 5.8l.6 -5.5l.7 .7l.6 4.9l.7 -2.8l.6 -1l.6 .8l.7 2.2l.6 -1.4l.7 0l.6 2.7l.6 -4.6l.7 .5l.6 -.3l.7 4.2l.6 -.5l.7 .6l.6 -3.5l.6 -.4l.7 2.4l.6 -3.3l.7 3l.6 -.5l.6 -3.7l.7 1.3l.6 -.2l.7 4.5l.6 1.9l.6 -7.1l.7 0l.6 -6.2l.7 6l.6 -1l.7 -3.1l.6 4.3l.6 -6.4l.7 3l.6 .4l.7 -3.9l.6 4.9l.6 0l.7 -6.6l.6 -.4l.7 4.6l.6 -2l.6 -3.4l.7 1.9l.6 0l.7 -.6l.6 1.9l.7 -1.6l.6 3l.6 -1.5l.7 -2.3l.6 .6l.7 .2l.6 -1.9l.6 -5.2l.7 5l.6 -2.2l.7 3.8l.6 -3.9l.6 1.1l.7 -.4l.6 3.4l.7 -3.6l.6 -1l.7 1.7l.6 -1.7l.6 1.8l.7 -.1l.6 1l.7 4.4l.6 -5.5l.6 1.5l.7 -.3l.6 2.6l.7 -4.3l.6 1.6l.6 2l.7 2l.6 -.9l.7 -.4l.6 -.2l.7 4.3l.6 3.3l.6 -1.8l.7 .6l.6 1.7l.7 -2.5l.6 2.6l.6 1l.7 2.2l.6 0l.7 -2.3l.6 6.4l.7 1.9l.6 -4.6l.6 1.8l.7 -.1l.6 1.4l.7 -5.5l.6 7.9l.6 -5.1l.7 4.4l.6 -2.8l.7 -1.1l.6 .7l.6 2.7l.7 -4.3l.6 1.3l.7 -.1l.6 -3l.7 7.6l.6 -1.6l.6 -1.3l.7 3.1l.6 -5l.7 2.4l.6 4.7l.6 -1.6l.7 -7.7l.6 -2.4l.7 5.9l.6 5.5l.6 -3.5l.7 .9l.6 2.3l.7 -3.4l.6 3l.7 1.7l.6 -.6l.6 .1l.7 -2.2l.6 2.9l.7 -2.1l.6 4.5l.6 3.3l.7 -8l.6 -3.3l.7 4.5l.6 2.1l.6 1.8l.7 .3l.6 -4.4l.7 .2l.6 5.2l.7 -5.6l.6 5.6l.6 -3.1l.7 2.7l.6 .1l.7 .4l.6 .3l.6 -4.2l.7 3.4l.6 -.4l.7 1l.6 2.5l.6 -3.4l.7 -.8l.6 .3l.7 1.3l.6 2.8l.7 -3.5l.6 5l.6 -1.8l.7 -1.1l.6 -2.4l.7 4l.6 1.3l.6 -5.7l.7 7.4l.6 1.3l.7 -3l.6 .6l.7 4.9l.6 -2.7l.6 -5l.7 2.4l.6 -.2l.7 .2l.6 -5.2l.6 7.7l.7 -3.2l.6 2.1l.7 -.5l.6 2.6l.6 -2.7l.7 -1.1l.6 3.4l.7 2.2l.6 -4l.7 4.2l.6 -2.6l.6 -1.7l.7 5l.6 -5.5l.7 4.5l.6 -3.5l.6 2.4l.7 -3.9l.6 1.1l.7 4.7l.6 -2l.6 -.3l.7 -1l.6 2.2l.7 -4.3l.6 .8l.7 2.4l.6 -1.6l.6 .5l.7 1.6l.6 -.1l.7 -.1l.6 4.6l.6 -1.5l.7 .6l.6 -2.9l.7 -1l.6 -2.2l.6 2.8l.7 -4.1l.6 3.8l.7 3.3l.6 2.2l.7 -1.5l.6 -4.2l.6 3.4l.7 -2.9l.6 4.1l.7 -2l.6 2.5l.6 4.3l.7 -3.6l.6 3.6l.7 -4.8l.6 -.9l.6 4.2l.7 1.2l.6 -5.1l.7 1.8l.6 -3.3l.7 3.2l.6 2.8l.6 -2.1l.7 -.9l.6 -1.8l.7 4.5l.6 1.2l.6 -.3l.7 -.6l.6 -3.4l.7 7.3l.6 -4.1l.7 0l.6 2.3l.6 -6.7l.7 5.1l.6 .1l.7 1.3l.6 2.5l.6 -1.8l.7 -5.3l.6 3.7l.7 1.5l.6 .1l.6 -3.2l.7 -.7l.6 5.4l.7 -.3l.6 -.6l.7 -3.8l.6 8.4l.6 -10.8l.7 6.2l.6 5.9l.7 -5.1l.6 1.1l.6 -3.1l.7 6.1l.6 -6l.7 3.8l.6 -.2l.6 -2.6l.7 4.7l.6 -5.3l.7 1.9l.6 1.6l.7 -.8l.6 2.2l.6 1.2l.7 -2.7l.6 -.5l.7 .2l.6 .5l.6 2.8l.7 -2.2l.6 1.6l.7 -1.1l.6 -1.6l.6 4.1l.7 -4.3l.6 2.6l.7 3.5l.6 -5.8l.7 2.5l.6 -3.4l.6 2.6l.7 -2.2l.6 2.8l.7 -.3l.6 1.7l.6 3.5l.7 -2.9l.6 1l.7 -1.5l.6 -.3l.6 -1.3l.7 -2.1l.6 4.5l.7 3.7l.6 -2.5l.7 -2.2l.6 5.1l.6 -4.6l.7 -.3l.6 -1.3l.7 .7l.6 1.8l.6 5.3l.7 -4.9l.6 -1.8l.7 1.1l.6 1l.7 -3.3l.6 4.4l.6 1.4l.7 -.7l.6 .8l.7 -4.2l.6 -.8l.6 7l.7 -.3l.6 -5.9l.7 4.1l.6 -.3l.6 1.3l.7 -.6l.6 -1.5l.7 1.7l.6 0l.7 -.4l.6 -4l.6 -2.5l.7 5.1l.6 -1.9l.7 4.4l.6 1.1l.6 -.9l.7 -1.4l.6 1l.7 2.6l.6 -4.3l.6 3.8l.7 -.4l.6 -1l.7 2.8l.6 -4.9l.7 3.9l.6 -4.2l.6 .5l.7 -.6l.6 3.5l.7 -3l.6 2.4l.6 -2.6l.7 5.2l.6 1.8l.7 -3.5l.6 3.4l.6 -2.3l.7 3.8l.6 -4.6l.7 -3.6l.6 7.1l.7 -3.6l.6 -1.9l.6 .9l.7 -2.1l.6 3.4l.7 -2l.6 5.9l.6 -1.8l.7 -5.2l.6 .4l.7 2.2l.6 -3l.6 4.1l.7 .2l.6 -1.6l.7 .6l.6 2.4l.7 2.2l.6 .2l.6 -3.2l.7 1.9l.6 -3.5l.7 2.7l.6 -3l.6 3.9l.7 -4.3l.6 .7l.7 2.3l.6 1.4l.7 -4.3l.6 2.1l.6 1.7l.7 .3l.6 -2.2l.7 2.2l.6 -.6l.6 3.8l.7 -1.7l.6 -4.1l.7 -1.8l.6 5.2l.6 2.6l.7 -2.1l.6 1.7l.7 -2.9l.6 -1.8l.7 4.8l.6 -1.3l.6 1.5l.7 -4.5l.6 3.6l.7 -1.6l.6 3.3l.6 -3l.7 0l.6 .2l.7 4.2l.6 -2.7l.6 -1.6l.7 -.5l.6 0l.7 5.6l.6 -7.2l.7 2.2l.6 3.4l.6 1.2l.7 -2.8l.6 2.1l.7 0l.6 .5l.6 -2l.7 3.6l.6 -3.1l.7 3l.6 -5.7l.6 4.5l.7 -4.7l.6 -.5l.7 4.5l.6 -2.9l.7 2.9l.6 -3.3l.6 6l.7 -3.5l.6 -2.4l.7 2.9l.6 1.6l.6 -3.5l.7 2.9l.6 3.4l.7 -2.5l.6 -1.9l.6 -1.1l.7 2.5l.6 -4.5l.7 -3.3l.6 5.3l.7 -.8l.6 6.2l.6 -3.4l.7 -2.4l.6 -.3l.7 3.7l.6 -2.9l.6 .6l.7 1.2l.6 .4l.7 .1l.6 .1l.7 2.7l.6 .9l.6 -7.2l.7 9.3l.6 -5.3l.7 2.5l.6 -4.3l.6 2.4l.7 -.2l.6 -.1l.7 1.6l.6 -.4l.6 -3.5l.7 2l.6 1.9l.7 0l.6 -2.1l.7 .1l.6 .4l.6 -2l.7 -.4l.6 6.3l.7 -4.2l.6 1.1l.6 -1.7l.7 4.4l.6 1.1l.7 -4.2l.6 1.6l.6 -2.6l.7 5.5l.6 -1.8l.7 -3.7l.6 4.5l.7 -1.8l.6 .2l.6 -.1l.7 -2.1l.6 .3l.7 2.6l.6 -1.3l.6 -1.9l.7 6.5l.6 -4.7l.7 -.6l.6 -.2l.6 3.1l.7 .7l.6 -1.5l.7 1.4l.6 -4.9l.7 2.5l.6 -.2l.6 1.1l.7 1.1l.6 -5.3l.7 11l.6 -8.4l.6 2.6l.7 1.1l.6 .1l.7 -1.3l.6 -6.7l.6 3.9l.7 4l.6 -3.6l.7 -.2l.6 -2.8l.7 7.7l.6 -1.5l.6 -3l.7 1.7l.6 .1l.7 -2.1l.6 1.8l.6 1.2l.7 .6l.6 1.6l.7 -2.6l.6 -1l.7 1.9l.6 -2.1l.6 -1.3l.7 5.1l.6 -3.2l.7 1.1l.6 1.2l.6 -3.7l.7 3.7l.6 -.4l.7 -1.1l.6 1l.6 -2.4l.7 -3.1l.6 4l.7 -1.4l.6 3.7l.7 -1.3l.6 -1.7l.6 1.1l.7 2.7l.6 -.5l.7 -1.7l.6 .1l.6 -1.5l.7 .3l.6 1.4l.7 -1.5l.6 .9l.6 -3l.7 -1.1l.6 -.1l.7 2.7l.6 3.7l.7 -.2l.6 -4.6l.6 -1.1l.7 5l.6 -.7l.7 -3.8l.6 5.2l.6 -1.8l.7 2.4l.6 -2l.7 1.2l.6 -1.1l.6 -2.6l.7 1.5l.6 -.9l.7 3.2l.6 -3.7l.7 -1.1l.6 4.7l.6 1l.7 .7l.6 -.6l.7 -5.4l.6 1.7l.6 .4l.7 1.2l.6 -4.4l.7 4.6l.6 .6l.6 -2.5l.7 2.3l.6 2.4l.7 -2.3l.6 2.2l.7 0l.6 -1.2l.6 0l.7 -1.5l.6 3.5l.7 -3.5l.6 -.4l.6 3.1l.7 -2.9l.6 2.5l.7 1.4l.6 -2l.7 .2l.6 1.8l.6 -.3l.7 -4.7l.6 .5l.7 5.6l.6 -1.9l.6 -5.1l.7 1.6l.6 2.9l.7 -2l.6 3.1l.6 -.8l.7 1l.6 -3.4l.7 3.8l.6 2.8l.7 -5.7l.6 4.5l.6 -.6l.7 -.7l.6 -1.4l.7 -2.2l.6 .7l.6 3.4l.7 .5l.6 .6l.7 -.5l.6 0l.6 -2.7l.7 -1.6l.6 3l.7 .7l.6 -.8l.7 -3.3l.6 2.2l.6 -2l.7 3.5l.6 -2.4l.7 1.9l.6 1l.6 -.3l.7 2.7l.6 -5.1l.7 -2.2l.6 6.6l.6 1l.7 .1l.6 -2.3l.7 .6l.6 -.8l.7 -2.9l.6 1.6l.6 2.3l.7 -2.2l.6 5.2l.7 -7.1l.6 2.4l.6 3.2l.7 -3.5l.6 -1l.7 -.4l.6 1.4l.6 4.7l.7 -2.3l.6 .3l.7 -2.1l.6 2.9l.7 -1.4l.6 -2.1l.6 1l.7 1.5l.6 2l.7 -2.4l.6 1.2l.6 3.3l.7 -5.8l.6 -.7l.7 4.7l.6 -1l.7 -1l.6 .9l.6 -1l.7 1.9l.6 -1.7l.7 2.5l.6 -3.9l.6 .9l.7 2l.6 -1.1l.7 2.6l.6 -1.5l.6 -.9l.7 1.6l.6 -1.4l.7 -2.1l.6 .9l.7 .8l.6 .8l.6 1.2l.7 1.7l.6 -.7l.7 2.6l.6 -.9l.6 -3l.7 3.9l.6 -1l.7 -3.3l.6 1.7l.6 1.6l.7 -1.6l.6 1.6l.7 -1.2l.6 .7l.7 -2l.6 1.5l.6 -1.5l.7 2.2l.6 -4.8l.7 4.2l.6 2l.6 -1.3l.7 -1.2l.6 1.2l.7 -2.8l.6 .1l.6 1l.7 .5l.6 2.4l.7 -3.8l.6 4l.7 -5.2l.6 1.6l.6 1.7l.7 2.5l.6 -3.6l.7 -3.1l.6 5.4l.6 -.9l.7 -2.1l.6 .1l.7 .8l.6 1.7l.6 1.2l.7 -4.3l.6 7.8l.7 -4.7l.6 -.6l.7 2.2l.6 -1.1l.6 4.7l.7 -2.5l.6 -3l.7 .1l.6 -.2l.6 .4l.7 2.2l.6 -2.7l.7 4.7l.6 -3.4l.7 -.1l.6 2.3l.6 -6l.7 2.2l.6 3.2l.7 -1.2l.6 0l.6 .9l.7 -2l.6 .9l.7 -2.5l.6 -1l.6 6.5l.7 -4.5l.6 .5l.7 4.3l.6 -.7l.7 -3.2l.6 0l.6 1l.7 -1.8l.6 3.1l.7 -.8l.6 0l.6 1.3l.7 0l.6 2.3l.7 -.6l.6 -6.6l.6 5.4l.7 -4.1l.6 -.6l.7 4.5l.6 -2.9l.7 .8l.6 2.9l.6 -3.5l.7 -.4l.6 2.5l.7 1.9l.6 -1.4l.6 -4.2l.7 1.9l.6 1l.7 4.3l.6 -2l.6 -.1l.7 .8l.6 -3.1l.7 1.7l.6 0l.7 -2.9l.6 2l.6 1.2l.7 -3.3l.6 3.9l.7 -.1l.6 .6l.6 -3.7l.7 1.8l.6 2.8l.7 -1.3l.6 -3.2l.6 2.1l.7 2.4l.6 -3l.7 1l.6 4.5l.7 -5.3l.6 -.2l.6 -1.8l.7 .8l.6 4.4l.7 -3.3l.6 -2.1l.6 .5l.7 2l.6 1.6l.7 -3.1l.6 3l.7 -2.4l.6 1.8l.6 .4l.7 .2l.6 -2.1l.7 .6l.6 1.4l.6 -3.6l.7 3.1l.6 .7l.7 1.1l.6 -2.1l.6 -.3l.7 .7l.6 -1.7l.7 1.1l.6 1.3l.7 -.2l.6 -2.7l.6 1.5l.7 -3.6l.6 6l.7 -2.7l.6 1.6l.6 -2.7l.7 2.1l.6 1.1l.7 1.1l.6 -4.7l.6 4.5l.7 -2l.6 -1.2l.7 2.6l.6 -1.6l.7 0l.6 -.8l.6 1.9l.7 -.3l.6 -.4l.7 -1.6l.6 1l.6 1.8l.7 1.9l.6 -2.7l.7 3l.6 -2.9l.6 -2.1l.7 3.5l.6 -3.2l.7 2.8l.6 1.4l.7 -2.8l.6 .5l.6 5.2l.7 -4.5l.6 .1l.7 1.1l.6 -1.7l.6 .1l.7 1l.6 -5.6l.7 7.7l.6 -4.9l.6 0l.7 3.3l.6 -1l.7 -2.5l.6 3l.7 -2.6l.6 .9l.6 -1.6l.7 1.5l.6 2.5l.7 -.5l.6 .4l.6 1.3l.7 -1.9l.6 -1.1l.7 .8l.6 3.9l.7 -3.2l.6 .7l.6 -.8l.7 .7l.6 .4l.7 -.8l.6 -.3l.6 -1.2l.7 -.1l.6 2.6l.7 .7l.6 .4l.6 -1.7l.7 -1.8l.6 3l.7 0l.6 -4.2l.7 4.7l.6 -.5l.6 2.2l.7 -5.5l.6 -.3l.7 4.2l.6 -5.2l.6 2.2l.7 -.7l.6 .1l.7 -1.7l.6 3.4l.6 2.4l.7 -1l.6 0l.7 -1.6l.6 3.7l.7 -1.9l.6 1.1l.6 -5.2l.7 3.8l.6 -2.9l.7 3l.6 -.3l.6 -2.6l.7 2.6l.6 2l.7 -1.3l.6 .2l.6 -2.9l.7 .4l.6 -.8l.7 2.5l.6 2.1l.7 -1.5l.6 -.8l.6 -2.2l.7 3.1l.6 -1.3l.7 -3.3l.6 .3l.6 2.8l.7 -1.1l.6 5.1l.7 -3.2l.6 -2.1l.6 1.1l.7 4.2l.6 -5.1l.7 3.5l.6 -.7l.7 2.1l.6 -1.8l.6 -1.9l.7 1.9l.6 -.9l.7 1.8l.6 -2l.6 4.1l.7 -4.2l.6 1.1l.7 -2.1l.6 1.6l.7 -.2l.6 .3l.6 1.5l.7 -2.9l.6 -.5l.7 3.9l.6 -2.8l.6 -.7l.7 3.6l.6 -.7l.7 -6.8l.6 4.6l.6 2.3l.7 .2l.6 -2.7l.7 4.2l.6 -4.7l.7 1.2l.6 .7l.6 -.2l.7 1.6l.6 .5l.7 -2.1l.6 2.9l.6 -4.1l.7 1l.6 3.8l.7 -3.1l.6 1.9l.6 -2.9l.7 .3l.6 .4l.7 .6l.6 -1l.7 .8l.6 1.3l.6 1.1l.7 -2.1l.6 1.1l.7 .5l.6 -3.9l.6 -.9l.7 6.4l.6 -.6l.7 -2.4l.6 .6l.6 -2.5l.7 -.8l.6 3.4l.7 -3.5l.6 4.8l.7 -3.1l.6 2l.6 3.4l.7 -.1l.6 -4.2l.7 2.7l.6 -4.1l.6 1l.7 1.9l.6 2.1l.7 -3.8l.6 2.2l.6 -.8l.7 -2.6l.6 2.2l.7 3.3l.6 -3.1l.7 1.2l.6 .7l.6 -3l.7 3.9l.6 .5l.7 .3l.6 -.6l.6 -3.5l.7 -.2l.6 -.4l.7 -.2l.6 .2l.7 3.6l.6 .9l.6 -4.1l.7 2.9l.6 -4.1l.7 1.8l.6 -1.3l.6 -1.2l.7 3.3l.6 .1l.7 -1l.6 -.2l.6 -.9l.7 1.7l.6 -.9l.7 1.6l.6 -2.8l.7 2.8l.6 .6l.6 1.5l.7 -.4l.6 -1.7l.7 -1.7l.6 -2.3l.6 3.6l.7 2.9l.6 .5l.7 -8.3l.6 3.5l.6 .8l.7 -1.3l.6 2.4l.7 -.3l.6 -1l.7 .9l.6 -3l.6 1.2l.7 .2l.6 3.5l.7 -4.9l.6 2.8l.6 2l.7 -1.7l.6 1.8l.7 -2.9l.6 2.2l.6 .9l.7 2.7l.6 -3l.7 1.4l.6 -2.7l.7 .1l.6 3l.6 -2l.7 1.7l.6 -1.4l.7 2.8l.6 .6l.6 -6.3l.7 5.3l.6 -2.8l.7 .1l.6 -1.1l.6 1.6l.7 -3.6l.6 .8l.7 -.1l.6 2.1l.7 1.3l.6 -.3l.6 -.8l.7 -1.8l.6 -2.3l.7 4.3l.6 -.5l.6 .4l.7 2.1l.6 -3.2l.7 0l.6 -4.1l.7 5.6l.6 -1.1l.6 -1.4l.7 2.2l.6 -2.8l.7 1l.6 5l.6 -2.4l.7 .3l.6 -.3l.7 -.2l.6 -.9l.6 4.2l.7 -4.7l.6 1.6l.7 -1.8l.6 -.3l.7 -4.1l.6 1.1l.6 6.8l.7 -.1l.6 -3.8l.7 .9l.6 1.2l.6 -3.1l.7 5.5l.6 -5.5l.7 .6l.6 -4l.6 8.5l.7 -2.8l.6 3.1l.7 -5.2l.6 2.7l.7 -.5l.6 .3l.6 3.7l.7 .4l.6 -1.7l.7 -3.4l.6 2.6l.6 .9l.7 -1.5l.6 0l.7 -.1l.6 -2.7l.6 2.3l.7 2.7l.6 -5.1l.7 2.2l.6 1.5l.7 -4.3l.6 2.4l.6 -3l.7 2.2l.6 -1.6l.7 1.1l.6 .8l.6 .4l.7 .2l.6 -4.3l.7 7.8l.6 -3.6l.6 -1.6l.7 .9l.6 1.8l.7 -2.5l.6 1.1l.7 0l.6 1.9l.6 -2.5l.7 2.4l.6 -.2l.7 -1l.6 2.8l.6 -2.4l.7 -2.3l.6 2.9l.7 -.4l.6 -.3l.7 .6l.6 4.1l.6 -4.1l.7 .4l.6 -1.3l.7 3l.6 -2.6l.6 -1.5l.7 -.8l.6 3.4l.7 .5l.6 -4.6l.6 1.7l.7 2.7l.6 .8l.7 -4.6l.6 1.8l.7 2.5l.6 -2.7l.6 .2l.7 -.2l.6 -1.4l.7 2.6l.6 .5l.6 -3.3l.7 3l.6 2l.7 -1.8l.6 1.5l.6 -2.9l.7 3.7l.6 -4.1l.7 5.2l.6 -4.5l.7 -.5l.6 -.4l.6 1l.7 -.1l.6 -.4l.7 .7l.6 2l.6 .4l.7 -2.3l.6 3l.7 -4.3l.6 0l.6 -.2l.7 3.4l.6 -4.2l.7 .3l.6 5.3l.7 .8l.6 -.7l.6 -5.5l.7 3l.6 1.6l.7 -1.4l.6 -3.3l.6 2.5l.7 -2.6l.6 .9l.7 6.6l.6 -2.9l.6 -4.1l.7 -.1l.6 3.9l.7 -2.1l.6 2.3l.7 -2.3l.6 .9l.6 .8l.7 -2.4l.6 -1.7l.7 1.4l.6 1l.6 1l.7 .3l.6 0l.7 1.1l.6 -2.7l.7 4.4l.6 1.2l.6 -3.1l.7 -.3l.6 2l.7 -1.1l.6 -.9l.6 -.7l.7 -1.1l.6 -.8l.7 3.6l.6 1l.6 -4.3l.7 1.9l.6 .6l.7 -1.3l.6 -.6l.7 .7l.6 -3l.6 3.7l.7 -.5l.6 4.7l.7 -2.3l.6 -2.4l.6 .6l.7 3.4l.6 -.2l.7 -2.8l.6 -.6l.6 -2.5l.7 2.2l.6 .3l.7 -1.1l.6 4.8l.7 -6.9l.6 3.3l.6 1.1l.7 .1l.6 2.4l.7 -5.9l.6 1.2l.6 1.7l.7 .1l.6 -1l.7 -.7l.6 3.6l.6 -4.1l.7 .9l.6 3.9l.7 .6l.6 -1.6l.7 -3.3l.6 .1l.6 -.1l.7 -.4l.6 1.4l.7 3.3l.6 -2l.6 -1.8l.7 0l.6 -.8l.7 4.7l.6 -6.2l.6 4.4l.7 -3.2l.6 .7l.7 -.7l.6 4.7l.7 -2l.6 5.5l.6 -7.3l.7 0l.6 3.2l.7 0l.6 -1.6l.6 -3.3l.7 6.7l.6 -1.7l.7 -.3l.6 -1.9l.7 2.4l.6 -2.3l.6 1.2l.7 -.4l.6 2.8l.7 -3.3l.6 .2l.6 2.8l.7 -1.6l.6 -.5l.7 -.4l.6 2.3l.6 -3l.7 2.1l.6 3l.7 -3.1l.6 -2.2l.7 -.8l.6 2.6l.6 -2.6l.7 -.7l.6 1.6l.7 -.6l.6 3.8l.6 -4.5l.7 5.8l.6 -4.4l.7 1.7l.6 1l.6 -.8l.7 1l.6 -3.3l.7 -2.4l.6 3.9l.7 -2.8l.6 2.1l.6 3l.7 -2.2l.6 -.7l.7 -1.1l.6 1.7l.6 .2l.7 -2.7l.6 3.6l.7 -2.6l.6 2.5l.6 -1.3l.7 2.8l.6 -.3l.7 -1.6l.6 -.2l.7 1.1l.6 1.8l.6 -.6l.7 -1.7l.6 .3l.7 2.4l.6 -6.1l.6 4.2l.7 -2.7l.6 4.3l.7 -3.5l.6 .7l.6 -1.8l.7 2.1l.6 1.5l.7 1.7l.6 -5.6l.7 1.6l.6 8.3l.6 -5.6l.7 -1.8l.6 1l.7 -6l.6 8.1l.6 -2.7l.7 -3l.6 4.9l.7 -3.4l.6 -.7l.7 2.9l.6 -.2l.6 -1.6l.7 .7l.6 -2.4l.7 -.1l.6 4.4l.6 .8l.7 -1.6l.6 -.1l.7 -1.5l.6 .5l.6 -1.5l.7 5.2l.6 -4.5l.7 1.9l.6 -.7l.7 -2.7l.6 6.4l.6 -4.4l.7 -.7l.6 1.6l.7 -1.9l.6 1.8l.6 -1.9l.7 3l.6 -1l.7 -2.7l.6 4.6l.6 -1.6l.7 -2.4l.6 2.8l.7 .1l.6 2.7l.7 -5.1l.6 3.3l.6 -1.8l.7 1.4l.6 -1.7l.7 .4l.6 1.1l.6 -3.2l.7 -1.7l.6 4l.7 -.8l.6 1l.6 1.1l.7 -1.6l.6 2.7l.7 -2.4l.6 .4l.7 1.3l.6 -.4l.6 -1.3l.7 .5l.6 -1.7l.7 .3l.6 1.4l.6 1.3l.7 -2.3l.6 2.4l.7 2.1l.6 .4l.6 -4l.7 2l.6 -.8l.7 .3l.6 .1l.7 -.6l.6 .6l.6 -1.2l.7 -.8l.6 1l.7 .5l.6 1.4l.6 -1.6l.7 .7l.6 1.3l.7 -4.5l.6 1.3l.7 1.5l.6 -.9l.6 -2l.7 3.8l.6 -2l.7 -1.7l.6 5.4l.6 -5.9l.7 2.4l.6 -1.3l.7 1.5l.6 .9l.6 -2.6l.7 1.3l.6 0l.7 -1.6l.6 4.1l.7 -1.9l.6 -.9l.6 -.7l.7 .7l.6 .9l.7 -1.2l.6 3.3l.6 -7.2l.7 .8l.6 3.6l.7 -3l.6 3.3l.6 -1.1l.7 2.4l.6 -.3l.7 1.7l.6 -.8l.7 .7l.6 -1.4l.6 1l.7 -1l.6 -2.1l.7 -1.2l.6 .1l.6 3.2l.7 -5.4l.6 4.8l.7 -1.7l.6 2.8l.6 -1l.7 -1.8l.6 1.5l.7 -4.3l.6 4.8l.7 .3l.6 -4.3l.6 5.1l.7 -1.8l.6 .5l.7 -3l.6 3.8l.6 0l.7 -1.1l.6 -1.8l.7 3.3l.6 .9l.6 -1.6l.7 1.2l.6 -3l.7 1.4l.6 .4l.7 -.4l.6 5l.6 -4.5l.7 -1.8l.6 2.6l.7 -3.5l.6 2.7l.6 .8l.7 -2.4l.6 .3l.7 -1.1l.6 2l.7 -1.5l.6 4.5l.6 -2l.7 -1.6l.6 -2.2l.7 6.4l.6 -1.3l.6 -1.6l.7 -.5l.6 0l.7 -1.2l.6 4.4l.6 -3.1l.7 -3.1l.6 1.5l.7 -3.6l.6 6.1l.7 .2l.6 1.9l.6 .6l.7 -5.4l.6 2.3l.7 1l.6 -.3l.6 -2.5l.7 2.5l.6 -.6l.7 1.6l.6 -2.5l.6 -.4l.7 -.5l.6 .2l.7 -.7l.6 .8l.7 1.6l.6 -.1l.6 1.6l.7 -.4l.6 -.9l.7 -3.3l.6 3.2l.6 1.1l.7 -4.6l.6 .3l.7 .3l.6 -.1l.6 1.4l.7 -1.2l.6 2.4l.7 -3l.6 2.1l.7 -.7l.6 -.9l.6 3.7l.7 -1.9l.6 1l.7 -1.6l.6 1.9l.6 -.2l.7 -1.4l.6 -3l.7 4.8l.6 -.2l.6 -1l.7 .1l.6 -.2l.7 .1l.6 -2.2l.7 1.8l.6 .7l.6 -1.7l.7 -.7l.6 5.2l.7 -2.3l.6 -1.7l.6 -.3l.7 -4l.6 2.2l.7 2.2l.6 2.9l.7 -6.2l.6 2.5l.6 4.8l.7 -2.3l.6 -.4l.7 1.4l.6 -2.4l.6 -.1l.7 1.6l.6 .3l.7 -3.6l.6 4.8l.6 -6l.7 1.9l.6 7l.7 -6.7l.6 2.2l.7 -3.1l.6 1.3l.6 -.7l.7 .6l.6 1.9l.7 2l.6 -1.6l.6 1.3l.7 -3.8l.6 3.6l.7 -1.7l.6 1.5l.6 -3.3l.7 .4l.6 2.9l.7 -1.4l.6 -.9l.7 -1.5l.6 1.1l.6 1.1l.7 .4l.6 -2.3l.7 .3l.6 1.5l.6 -2.9l.7 3.8l.6 -1.8l.7 -.2l.6 -4.2l.6 1.5l.7 1l.6 .9l.7 -1l.6 2.7l.7 -.4l.6 -.7l.6 -3.3l.7 6.3l.6 -3l.7 1.6l.6 -2.3l.6 1.2l.7 1.3l.6 -.8l.7 1.3l.6 -2.1l.6 4l.7 -7.1l.6 2.5l.7 2.8l.6 -2.2l.7 -.4l.6 -2.4l.6 5.5l.7 -5.7l.6 4.5l.7 -.6l.6 1.3l.6 1.1l.7 -4l.6 -.2l.7 1l.6 -2.6l.7 4.7l.6 -2.2l.6 1l.7 -2.3l.6 2.1l.7 -1.2l.6 1l.6 -1.8l.7 3.9l.6 -3.1l.7 -3.4l.6 5.9l.6 -1.8l.7 -1l.6 6.2l.7 -4.6l.6 -2.4l.7 1.4l.6 1.8l.6 -1.1l.7 2.7l.6 -.3l.7 -3.4l.6 1.6l.6 1.1l.7 -1.9l.6 -.1l.7 2.5l.6 -.8l.6 -3.3l.7 1.5l.6 .3l.7 .5l.6 -1l.7 3.7l.6 -4.2l.6 -.2l.7 2.4l.6 -4.5l.7 2.3l.6 3l.6 -3.5l.7 .9l.6 3.5l.7 -1.1l.6 -.7l.6 .3l.7 -1.6l.6 1.8l.7 -.9l.6 4.9l.7 -3.5l.6 -1.6l.6 .5l.7 .2l.6 -2.6l.7 1.1l.6 4.3l.6 -5.3l.7 1.5l.6 2.9l.7 .9l.6 -4.6l.6 4.6l.7 -3.3l.6 3.6l.7 -2l.6 -1.4l.7 1.8l.6 -.3l.6 -2.4l.7 5.3l.6 -4.5l.7 2.8l.6 -3l.6 -2.4l.7 1.3l.6 1.9l.7 1.4l.6 2l.7 -3.1l.6 -.6l.6 -1.7l.7 2.1l.6 .7l.7 -4.6l.6 6.4l.6 -.2l.7 2l.6 -5.7l.7 1.7l.6 0l.6 -2.4l.7 .8l.6 -.2l.7 2.8l.6 -.2l.7 1.7l.6 -3.2l.6 -1.8l.7 3.4l.6 -.1l.7 .5l.6 1.1l.6 -3.3l.7 2.5l.6 -3.2l.7 2.1l.6 1l.6 -1.5l.7 .6l.6 -2.9l.7 1.4l.6 1.5l.7 -2.5l.6 .7l.6 6l.7 -4l.6 -1.9l.7 -.4l.6 4.4l.6 -7.6l.7 4.5l.6 1.7l.7 -2.2l.6 2l.6 -2.8l.7 1.9l.6 .1l.7 -.1l.6 .3l.7 -.2l.6 2l.6 -2.5l.7 -.6l.6 .6l.7 0l.6 -2.2l.6 -.7l.7 1l.6 3l.7 -1.7l.6 .5l.6 5.9l.7 -3.1l.6 -2.4l.7 -.8l.6 3.7l.7 -3.9l.6 3.6l.6 -1.1l.7 1.4l.6 -3.7l.7 2.9l.6 -4.9l.6 3l.7 2.3l.6 -.7l.7 -4.6l.6 4.6l.7 -.4l.6 -.9l.6 -1.2l.7 .8l.6 -.5l.7 2.8l.6 -.9l.6 1.1l.7 -.7l.6 -3.5l.7 2.6l.6 3.6l.6 -5.9l.7 2.6l.6 -1.9l.7 -.2l.6 2l.7 1.3l.6 -.3l.6 -.5l.7 .8l.6 -4.6l.7 4.4l.6 -.7l.6 -1.1l.7 .4l.6 -1.5l.7 3.6l.6 -3.4l.6 -1.3l.7 2.6l.6 -1l.7 .9l.6 2.9l.7 -3l.6 .5l.6 3.9l.7 -6.6l.6 3.2l.7 1.4l.6 .7l.6 1.3l.7 -5.2l.6 2.3l.7 -1.3l.6 -.6l.6 -.5l.7 -1.3l.6 3.2l.7 .8l.6 -3.3l.7 3.3l.6 -2.3l.6 -.9l.7 -2.9l.6 6.8l.7 -.7l.6 -1.9l.6 -.1l.7 -1.6l.6 3.3l.7 -1.1l.6 1.1l.6 -.6l.7 -2.9l.6 -.2l.7 3.6l.6 -3.9l.7 3.6l.6 1.2l.6 -4l.7 3.6l.6 -1.1l.7 .9l.6 -2.1l.6 1.1l.7 .8l.6 2.6l.7 -2l.6 -.4l.7 -3.2l.6 2.9l.6 -1.8l.7 1.1l.6 .7l.7 1.2l.6 -.6l.6 -.7l.7 -.5l.6 2.6l.7 -4l.6 1.6l.6 2.5l.7 -2.8l.6 1.8l.7 .1l.6 2l.7 -1.5l.6 -5l.6 3l.7 .5l.6 1l.7 -.8l.6 2.7l.6 -1.4l.7 -4.1l.6 1l.7 -2.6l.6 6.9l.6 -3.4l.7 0l.6 -2.6l.7 2l.6 1.6l.7 -1.5l.6 0l.6 -.4l.7 4.7l.6 -4.6l.7 -1.6l.6 1.7l.6 .3l.7 .5l.6 -.3l.7 -1.6l.6 1.7l.6 1.1l.7 -3.3l.6 6.2l.7 -.5l.6 -6.4l.7 2.6l.6 2.6l.6 .6l.7 .8l.6 -6.6l.7 1.3l.6 1.1l.6 2l.7 -3l.6 2.8l.7 .1l.6 .5l.6 -3.7l.7 2.8l.6 -.2l.7 -.9l.6 3.2l.7 -2.9l.6 3.2l.6 -3.7l.7 4.2l.6 -.1l.7 -4.5l.6 2.1l.6 0l.7 -2.3l.6 3.2l.7 -.3l.6 -2.6l.7 1.7l.6 1.5l.6 -1.9l.7 -1l.6 4.4l.7 -4.8l.6 2.4l.6 1.5l.7 -.6l.6 -4.8l.7 2.8l.6 .4l.6 -.1l.7 1.5l.6 -.1l.7 -.7l.6 .2l.7 1.4l.6 .5l.6 -5.7l.7 7.5l.6 -5l.7 2.4l.6 -4.3l.6 2l.7 -1.3l.6 4.3l.7 -.4l.6 -1.5l.6 -.3l.7 1l.6 -2.4l.7 .6l.6 -.2l.7 2.9l.6 -1.4l.6 -2.4l.7 3l.6 .3l.7 1.6l.6 -3.5l.6 1.8l.7 3.1l.6 -4.4l.7 -.1l.6 1.7l.6 -1.9l.7 1l.6 -.9l.7 -.5" fill="none" stroke="#f00" stroke-width="9" stroke-linejoin="round" stroke-linecap="butt"/>
<path clip-path="url(#cp2)" d="M330.5 1246.6l.6 2l.7 5.6l.6 -1.7l.7 -5l.6 5.4l.6 -.5l.7 3.2l.6 -3.4l.7 6.1l.6 1.3l.7 4.9l.6 -1.6l.6 2.3l.7 -3.2l.6 11.7l.7 -8.7l.6 9.7l.6 -1.9l.7 .1l.6 1.8l.7 1.1l.6 3.9l.6 -.2l.7 5.1l.6 -7.5l.7 5.6l.6 -1.4l.7 5.2l.6 -6.6l.6 5.4l.7 2.2l.6 -3.6l.7 7.1l.6 -1.3l.6 2.9l.7 .6l.6 -4.2l.7 1.2l.6 2.2l.6 3.2l.7 .9l.6 -3.4l.7 .9l.6 .2l.7 1.1l.6 1.5l.6 .9l.7 6.2l.6 -6l.7 1.2l.6 2.5l.6 -3l.7 2.2l.6 1.6l.7 2.6l.6 -4.6l.7 7.6l.6 -3.6l.6 2l.7 2.5l.6 .4l.7 1.8l.6 -1.5l.6 .3l.7 1.7l.6 -2.5l.7 6.4l.6 -4.3l.6 -.4l.7 9.1l.6 -4.8l.7 -1.9l.6 8.4l.7 -4.8l.6 4.2l.6 -4.1l.7 2.2l.6 -2.9l.7 .1l.6 3l.6 3l.7 2.9l.6 4.7l.7 -8l.6 5.7l.6 -3.4l.7 1.7l.6 -2.8l.7 .6l.6 2.3l.7 -.6l.6 3.5l.6 -1.3l.7 5.3l.6 -2.3l.7 .4l.6 2.8l.6 -1.1l.7 -1.1l.6 .3l.7 .2l.6 3.4l.6 -.4l.7 -.7l.6 1.5l.7 -3l.6 3l.7 -4.5l.6 7.3l.6 -2.7l.7 .6l.6 1.4l.7 -1.1l.6 -.2l.6 4l.7 -2.2l.6 -2.2l.7 3.8l.6 -4.9l.6 8.7l.7 -4.2l.6 1l.7 5.8l.6 .1l.7 -4.7l.6 1.6l.6 1.4l.7 1.8l.6 -4.2l.7 .9l.6 3l.6 -2.1l.7 1.5l.6 -.1l.7 -4.1l.6 .9l.7 -4.1l.6 6.1l.6 4.2l.7 -5.8l.6 6l.7 -.4l.6 -2.3l.6 .4l.7 .4l.6 -2l.7 1.7l.6 .8l.6 1.9l.7 .8l.6 -3.5l.7 4.1l.6 -3.6l.7 1.7l.6 1.6l.6 -.7l.7 0l.6 1.2l.7 -1.7l.6 -.1l.6 1.3l.7 3.1l.6 -2.4l.7 5l.6 -4l.6 -7.6l.7 6.3l.6 5.3l.7 -4l.6 -.9l.7 -1l.6 5.5l.6 -.7l.7 -.7l.6 -.5l.7 2.6l.6 -1.4l.6 -4.8l.7 5l.6 -1.3l.7 -.6l.6 2.3l.6 -1.6l.7 -7l.6 11.1l.7 -1.1l.6 -2.6l.7 -.4l.6 1.6l.6 -3.4l.7 4l.6 -1.1l.7 -.1l.6 -1.1l.6 .8l.7 4.5l.6 .7l.7 -1.8l.6 -1.1l.6 -1.8l.7 4l.6 2.3l.7 -7.5l.6 6.9l.7 -7.9l.6 4.6l.6 1.9l.7 -4l.6 -.1l.7 4.2l.6 1.9l.6 -3.1l.7 4.6l.6 -4.9l.7 6.3l.6 -3.8l.7 .5l.6 1.1l.6 -.5l.7 3.9l.6 1.1l.7 -3.8l.6 -1.4l.6 -2.2l.7 1.2l.6 2l.7 0l.6 .3l.6 .3l.7 1.4l.6 -4.3l.7 .9l.6 5.3l.7 -.6l.6 -3.2l.6 4.5l.7 -4.6l.6 1l.7 -3.6l.6 6.4l.6 -2l.7 2.6l.6 -.8l.7 -1.4l.6 .3l.6 2.5l.7 -3.2l.6 .1l.7 .6l.6 1.8l.7 .3l.6 2.5l.6 -4.7l.7 3.2l.6 -4.4l.7 3l.6 -1.1l.6 3.9l.7 -2.6l.6 -2.4l.7 2.5l.6 -.5l.6 -1.5l.7 .1l.6 -1.5l.7 8.9l.6 -6.2l.7 2.1l.6 -5l.6 .3l.7 2.3l.6 .1l.7 2.3l.6 -4.1l.6 3.8l.7 2.4l.6 -5.6l.7 4.4l.6 -4.3l.6 3.3l.7 .2l.6 3.3l.7 -5.6l.6 2.2l.7 2.2l.6 -5.1l.6 2.9l.7 -1.9l.6 .5l.7 3.4l.6 .2l.6 4.6l.7 -2.7l.6 0l.7 -3.3l.6 -.2l.7 1.2l.6 -5.6l.6 9.4l.7 -5.3l.6 -.8l.7 1.5l.6 3.2l.6 1l.7 -3.8l.6 2l.7 -1.1l.6 -2.2l.6 2.8l.7 -.3l.6 -3.6l.7 6.2l.6 -6.2l.7 4.3l.6 -3l.6 .6l.7 .3l.6 3.3l.7 -4.6l.6 2.6l.6 4.1l.7 -5.3l.6 1.6l.7 1.7l.6 -2.9l.6 2.5l.7 -2.7l.6 3.3l.7 -1.5l.6 -2.3l.7 5.5l.6 -3.5l.6 -.4l.7 -1.5l.6 1.1l.7 .9l.6 .6l.6 2.2l.7 -5.6l.6 2.3l.7 3.6l.6 -2.3l.6 .6l.7 2.8l.6 -2.9l.7 .4l.6 -1.2l.7 4.3l.6 -1.6l.6 -4.1l.7 3.1l.6 -3.9l.7 5.3l.6 -.9l.6 -1.9l.7 -.5l.6 -3.2l.7 6.1l.6 -2l.6 -.4l.7 2.5l.6 -3.2l.7 .2l.6 -.2l.7 -1.4l.6 8.8l.6 -6l.7 -.3l.6 3l.7 -9.4l.6 7.3l.6 .2l.7 -2.2l.6 3.3l.7 -5.7l.6 4.8l.7 2.1l.6 -7.2l.6 1.8l.7 3.1l.6 .3l.7 -1.4l.6 2.4l.6 -.2l.7 -3.7l.6 3l.7 -2.7l.6 -1.8l.6 -.8l.7 8.1l.6 -2.7l.7 4.9l.6 -7.9l.7 2.6l.6 1.7l.6 -1.1l.7 1.6l.6 -.8l.7 -1.7l.6 -4l.6 3.3l.7 6.2l.6 -2.1l.7 1.4l.6 -4.5l.6 1l.7 -1.6l.6 3l.7 -.7l.6 .9l.7 3.1l.6 -6l.6 3.7l.7 -4.9l.6 5.8l.7 -3.5l.6 .9l.6 .5l.7 3.5l.6 -3.9l.7 -1l.6 -1.6l.6 3.4l.7 -2.6l.6 .8l.7 1.2l.6 1.6l.7 -3.2l.6 3.2l.6 2.6l.7 -7.5l.6 6.6l.7 1.9l.6 -6.3l.6 2.8l.7 -4.6l.6 4l.7 -1.5l.6 1.4l.6 -2.8l.7 .3l.6 .9l.7 -.6l.6 .2l.7 1l.6 -2.1l.6 2.3l.7 1.4l.6 -6.4l.7 5.8l.6 -2.1l.6 -.8l.7 -.5l.6 1.1l.7 .3l.6 2.5l.7 -3.6l.6 5.3l.6 -4.2l.7 3.5l.6 .9l.7 -5.2l.6 5.3l.6 2.6l.7 -6l.6 2.5l.7 -1.6l.6 .5l.6 -.5l.7 -.7l.6 2.9l.7 .4l.6 -1.9l.7 3.5l.6 -.9l.6 -.8l.7 -3.2l.6 6l.7 -1.3l.6 -7.9l.6 2.4l.7 1.5l.6 3.2l.7 .7l.6 -3.5l.6 1.1l.7 1l.6 -4.5l.7 4.2l.6 -2.1l.7 1.1l.6 -.6l.6 -2.6l.7 .4l.6 2.3l.7 .1l.6 -.9l.6 3l.7 -3.3l.6 -2l.7 1.9l.6 .3l.6 .1l.7 2.9l.6 -1.5l.7 1.2l.6 -1.1l.7 -1.8l.6 2.7l.6 -3l.7 1.1l.6 -2.9l.7 2.5l.6 -1.1l.6 1.6l.7 3.2l.6 1.2l.7 -3.1l.6 -2.4l.6 1.9l.7 -1.4l.6 -2l.7 1.2l.6 -.5l.7 -.8l.6 4.4l.6 -4.4l.7 0l.6 2.7l.7 -3.2l.6 -1l.6 .7l.7 3l.6 -.3l.7 -.1l.6 -1.8l.7 -1l.6 4.1l.6 -5.3l.7 2.8l.6 -2.5l.7 2.1l.6 .5l.6 3.2l.7 -9.3l.6 9.6l.7 -5.1l.6 2.6l.6 1.2l.7 -3.6l.6 1.5l.7 1.3l.6 -1.4l.7 -1.4l.6 2.1l.6 -.2l.7 -3.6l.6 6.4l.7 -2.6l.6 -6l.6 3.6l.7 5.7l.6 -.3l.7 -3l.6 -4.4l.6 3.2l.7 2.9l.6 -1.6l.7 -1.7l.6 -.9l.7 3.4l.6 -2.4l.6 1.2l.7 .3l.6 2.5l.7 -3.3l.6 0l.6 -4.6l.7 6.4l.6 -.7l.7 -2.1l.6 -5.2l.6 3.7l.7 1.3l.6 4.3l.7 -3.6l.6 .3l.7 -.2l.6 .9l.6 -5.8l.7 .3l.6 -1.1l.7 1.6l.6 -.6l.6 .5l.7 -3.1l.6 1.9l.7 -2.9l.6 5.8l.6 -6.9l.7 5.7l.6 -3.4l.7 -8l.6 2.7l.7 -3.4l.6 -8.3l.6 .1l.7 -8l.6 -7.9l.7 -14.6l.6 -14l.6 -19l.7 -26l.6 -29.7l.7 -30.3l.6 -32.5l.7 -22.1l.6 -19.7l.6 11.8l.7 14.6l.6 28.4l.7 32.2l.6 26l.6 35.3l.7 15.5l.6 22.2l.7 14l.6 13l.6 5l.7 2.7l.6 8l.7 -3l.6 7.4l.7 1.3l.6 6.1l.6 -2.9l.7 .7l.6 .2l.7 .6l.6 1.4l.6 3.1l.7 -3.7l.6 2.9l.7 -2.4l.6 3.2l.6 1.1l.7 -2.8l.6 1.7l.7 1.7l.6 1.7l.7 .6l.6 -2.2l.6 -1.8l.7 -1.2l.6 5.4l.7 1.5l.6 -2.2l.6 2.8l.7 -4.4l.6 .3l.7 4.4l.6 -5.6l.6 3.7l.7 -.4l.6 -.5l.7 3.6l.6 -5.7l.7 1.1l.6 -3.6l.6 2.3l.7 1.3l.6 .3l.7 .5l.6 1.1l.6 -2l.7 -2.9l.6 4.8l.7 .6l.6 -3.4l.6 .8l.7 5.7l.6 -1.5l.7 .1l.6 -.8l.7 -1.2l.6 -1.4l.6 2.5l.7 -1.7l.6 -.5l.7 1l.6 -.1l.6 2.2l.7 -4.1l.6 7.7l.7 -7.7l.6 1.3l.7 3.1l.6 -3.9l.6 .8l.7 1.2l.6 -6.6l.7 5.4l.6 -.9l.6 1.6l.7 1.6l.6 .3l.7 2l.6 -.2l.6 -.9l.7 -2.3l.6 2.4l.7 -4.5l.6 2l.7 3.4l.6 -1.4l.6 -4.9l.7 1.8l.6 3.3l.7 -.6l.6 1l.6 -6.3l.7 1.1l.6 2.3l.7 -1.6l.6 2l.6 .1l.7 .8l.6 -1.1l.7 1.5l.6 .5l.7 -1.4l.6 -3.1l.6 5.5l.7 -2.4l.6 .4l.7 -.6l.6 -3.9l.6 4.7l.7 -2.8l.6 -1.3l.7 5.4l.6 -3.6l.6 1.2l.7 1.2l.6 1.4l.7 -7.6l.6 2.1l.7 2.9l.6 -3.2l.6 -6l.7 7l.6 -.3l.7 .7l.6 -2l.6 -2.5l.7 .2l.6 -2.3l.7 -3.4l.6 -1.4l.6 -3.6l.7 -7.8l.6 -1.4l.7 -7.3l.6 -7.7l.7 -15.8l.6 -1.5l.6 -7l.7 -5.9l.6 2.9l.7 -1.5l.6 11.9l.6 5.8l.7 6.3l.6 12.2l.7 5.2l.6 6l.7 1.8l.6 8.3l.6 5.4l.7 2.1l.6 -3.1l.7 7.4l.6 1.8l.6 -.7l.7 -1.8l.6 -1.7l.7 1.9l.6 1.2l.6 2.3l.7 1.1l.6 -2.5l.7 -1.5l.6 3l.7 -1.7l.6 6l.6 -5.2l.7 3.9l.6 1l.7 -3.7l.6 4.5l.6 -2.3l.7 -1.2l.6 -.2l.7 2.5l.6 2.2l.6 -6.3l.7 5.5l.6 -1.5l.7 -1.2l.6 1.5l.7 .3l.6 -.1l.6 2l.7 -3.6l.6 6.3l.7 -2.3l.6 -3.1l.6 -2.9l.7 4.2l.6 -.7l.7 2.5l.6 0l.6 2.7l.7 -4.4l.6 2.1l.7 -2.6l.6 .2l.7 4.2l.6 -3.6l.6 .2l.7 -.5l.6 1.5l.7 .7l.6 -1.5l.6 -2.1l.7 3.3l.6 -2.4l.7 1.1l.6 1.3l.6 .1l.7 -5.4l.6 8.7l.7 -1.8l.6 2.5l.7 1.3l.6 -7.4l.6 .9l.7 1.8l.6 1.5l.7 -3.1l.6 .5l.6 3l.7 -4.1l.6 2.4l.7 1.9l.6 -2.9l.7 2.3l.6 -1.9l.6 -3.1l.7 2.2l.6 .8l.7 -.3l.6 .9l.6 .8l.7 -.2l.6 -.2l.7 -1.3l.6 .5l.6 -.4l.7 -.4l.6 4.2l.7 -6.9l.6 4.5l.7 -3.9l.6 2.2l.6 3l.7 -2.3l.6 3.6l.7 -5l.6 1.4l.6 -.7l.7 1.4l.6 -.7l.7 -.1l.6 1l.6 2.2l.7 -2l.6 -.2l.7 -.7l.6 -.9l.7 -1.6l.6 .9l.6 2.3l.7 -4.1l.6 5.5l.7 -2.3l.6 -1.1l.6 .9l.7 2.6l.6 -.6l.7 -.2l.6 3.2l.6 1.3l.7 -7.6l.6 4.6l.7 -3.5l.6 -1.2l.7 1.8l.6 3.3l.6 -2.7l.7 -.3l.6 4l.7 -1.8l.6 -1.2l.6 4l.7 -2.8l.6 -2.5l.7 -.8l.6 1.5l.6 1.2l.7 1.7l.6 -.2l.7 -1.6l.6 -2.7l.7 4.5l.6 -1.8l.6 -2.5l.7 -.4l.6 3.1l.7 .2l.6 1l.6 -4.4l.7 6.6l.6 -7.9l.7 3.7l.6 2.9l.7 -.6l.6 -4.3l.6 3.3l.7 1.3l.6 -1.1l.7 -3.7l.6 5.6l.6 -7l.7 3.5l.6 -2.4l.7 1.3l.6 .2l.6 1.7l.7 -3.7l.6 3.1l.7 2.3l.6 -2.6l.7 1l.6 -.3l.6 -2.5l.7 .8l.6 .9l.7 .9l.6 3.3l.6 -.9l.7 -4.4l.6 .1l.7 -1.2l.6 -2.8l.6 7.6l.7 -1.6l.6 -5.2l.7 4.1l.6 4.9l.7 -3.9l.6 .1l.6 -.7l.7 -2l.6 -.8l.7 .7l.6 2l.6 -.8l.7 2l.6 2.2l.7 -2.4l.6 .5l.6 -2.5l.7 -2l.6 7.3l.7 -3l.6 .9l.7 -3.2l.6 -2.8l.6 6.3l.7 -7.2l.6 4.1l.7 -.7l.6 1.5l.6 1.3l.7 0l.6 -6.1l.7 6.4l.6 -6l.6 5.4l.7 -2.3l.6 -1.5l.7 1.3l.6 -1.7l.7 2.7l.6 2l.6 -.3l.7 -1.5l.6 2.2l.7 -1.3l.6 3.5l.6 -3.4l.7 -2.4l.6 .7l.7 -1l.6 1l.7 .3l.6 1.7l.6 .2l.7 -1.5l.6 .8l.7 -2.5l.6 .4l.6 -4l.7 3.6l.6 .5l.7 6.4l.6 -8.2l.6 3l.7 -.8l.6 -2.6l.7 3.8l.6 -.5l.7 -3.1l.6 -1.8l.6 4.7l.7 -2.8l.6 4.4l.7 -2l.6 1.7l.6 -1.8l.7 3.9l.6 -1.8l.7 1.8l.6 -3l.6 -2.3l.7 -.8l.6 1.9l.7 1.6l.6 -1.9l.7 6.4l.6 -5.2l.6 1.1l.7 -.8l.6 -2.8l.7 4.8l.6 -.8l.6 .4l.7 -3.7l.6 2l.7 -.1l.6 2.5l.6 -5.3l.7 4.3l.6 1.2l.7 -3.5l.6 -.7l.7 4.4l.6 -2.2l.6 1.9l.7 -.7l.6 .7l.7 -2.5l.6 -4l.6 5.7l.7 -2.6l.6 2.8l.7 -2.3l.6 4.6l.6 -3.8l.7 2.3l.6 .7l.7 -2.4l.6 .9l.7 -.6l.6 -1.8l.6 5l.7 -4.8l.6 -1.3l.7 2.3l.6 1.4l.6 -.1l.7 -.8l.6 -.1l.7 -3.5l.6 5.8l.7 2.3l.6 -5l.6 -2.2l.7 5.3l.6 -1.8l.7 -7.9l.6 6.7l.6 -1.4l.7 .6l.6 6.6l.7 -2l.6 -2.3l.6 .4l.7 3.2l.6 -5.5l.7 3.9l.6 -2.8l.7 3.1l.6 -1.3l.6 -1.9l.7 3.7l.6 -1l.7 2.7l.6 -4.6l.6 1.1l.7 -1.7l.6 4l.7 -4l.6 1.5l.6 2.8l.7 -1.6l.6 -.5l.7 0l.6 .1l.7 .7l.6 -2l.6 -3.4l.7 6.9l.6 -5l.7 6l.6 -3.2l.6 6l.7 -4.1l.6 -1.6l.7 1.1l.6 -4.8l.6 3.3l.7 -1.2l.6 .8l.7 -4.2l.6 -.3l.7 6l.6 -1.4l.6 -1l.7 .7l.6 -1.2l.7 .4l.6 2.4l.6 -1.9l.7 1.9l.6 -2.9l.7 -2.3l.6 2.4l.6 1.1l.7 -2l.6 1.5l.7 -.3l.6 3l.7 -.2l.6 .5l.6 -3.8l.7 2.3l.6 1.9l.7 -2.3l.6 -.5l.6 -1.4l.7 3.3l.6 -1.4l.7 1.7l.6 -2.3l.7 4.5l.6 -4.3l.6 -2.4l.7 2.9l.6 .6l.7 1.6l.6 -3.6l.6 -.1l.7 .5l.6 -.3l.7 -3.5l.6 5.8l.6 1.1l.7 -4.1l.6 -.5l.7 1.7l.6 -1.4l.7 3.3l.6 -2.9l.6 2.5l.7 -3.8l.6 -.4l.7 -.3l.6 .2l.6 3.8l.7 .8l.6 -1.5l.7 .1l.6 -4.9l.6 6.7l.7 -4.9l.6 5.2l.7 2.2l.6 -4.9l.7 1.1l.6 -.1l.6 -4.1l.7 .3l.6 .8l.7 1.6l.6 1.2l.6 -1.6l.7 1.8l.6 -3.4l.7 -2.1l.6 2.7l.6 -.4l.7 -3.1l.6 4.6l.7 -4.4l.6 0l.7 1.4l.6 -3.2l.6 2.7l.7 -1.4l.6 -.9l.7 -2.3l.6 -2.7l.6 -2.7l.7 -.7l.6 -1.4l.7 -5.7l.6 -6.4l.6 -5.5l.7 -7.5l.6 -14.6l.7 -8.1l.6 -8.9l.7 -15.6l.6 -11l.6 -7.5l.7 -8.3l.6 .6l.7 -.7l.6 8.5l.6 13.6l.7 8.7l.6 6.9l.7 12.1l.6 10.8l.7 11.4l.6 5.4l.6 10.8l.7 8l.6 4.2l.7 -1l.6 3.8l.6 2.3l.7 .7l.6 6.5l.7 -3.7l.6 .1l.6 3.8l.7 .6l.6 2.9l.7 .6l.6 -3l.7 -3.4l.6 5.9l.6 .6l.7 2.2l.6 -6.4l.7 1l.6 5.7l.6 .3l.7 -.4l.6 -2.5l.7 2.8l.6 -3.5l.6 -1.3l.7 2.5l.6 .4l.7 1.5l.6 .7l.7 -5.5l.6 4.1l.6 .5l.7 -3.4l.6 2.1l.7 .7l.6 .8l.6 -2.5l.7 .6l.6 -.9l.7 2.9l.6 -1.3l.6 -.5l.7 2.5l.6 -1.5l.7 -2l.6 4.6l.7 -.2l.6 -1l.6 -2.9l.7 4.3l.6 -3.3l.7 -2.5l.6 3.5l.6 3.8l.7 -4.3l.6 2l.7 1.6l.6 -2.3l.6 -.9l.7 .7l.6 1.1l.7 -2l.6 1.7l.7 .4l.6 -1.7l.6 2.2l.7 -.3l.6 -1.7l.7 .3l.6 .7l.6 -.5l.7 -.1l.6 -1.5l.7 2.2l.6 1.3l.7 -.2l.6 -2.8l.6 2.7l.7 .2l.6 -3l.7 2.8l.6 -1.3l.6 -.3l.7 1.2l.6 -.9l.7 -3.8l.6 4.7l.6 -2.6l.7 1.9l.6 1.4l.7 -2l.6 -.6l.7 .9l.6 .5l.6 -2.7l.7 .4l.6 2.2l.7 2.1l.6 -3.1l.6 1.7l.7 -3l.6 1.4l.7 .2l.6 -2.5l.6 2.4l.7 -.3l.6 -4.4l.7 4.7l.6 .8l.7 0l.6 .2l.6 -2.7l.7 .8l.6 1.1l.7 -1.2l.6 .8l.6 3.2l.7 -3.9l.6 1.1l.7 4.1l.6 -3.6l.6 -1.6l.7 2.5l.6 -.1l.7 0l.6 -3.4l.7 3.7l.6 .3l.6 3.2l.7 -2.6l.6 -2l.7 1.4l.6 .7l.6 -1.5l.7 .2l.6 2.7l.7 -1.6l.6 0l.6 -2.7l.7 2.6l.6 -4.3l.7 5.9l.6 -3.2l.7 2.1l.6 1.4l.6 -4.5l.7 4.1l.6 -1.7l.7 1.8l.6 -2.8l.6 -.6l.7 3.7l.6 -1.6l.7 -.7l.6 -2.2l.7 4.6l.6 -3.1l.6 .2l.7 -.8l.6 1.3l.7 1.1l.6 -1.3l.6 0l.7 -.8l.6 3.7l.7 .3l.6 -3.6l.6 -1l.7 2.1l.6 -3.5l.7 3.4l.6 .1l.7 -.2l.6 2.6l.6 .5l.7 -2.6l.6 -1.4l.7 2.5l.6 .2l.6 -4.3l.7 .9l.6 .9l.7 -2.6l.6 1l.6 5l.7 -5.3l.6 3.9l.7 -3l.6 3.2l.7 -1.2l.6 1.1l.6 -4.2l.7 3.1l.6 -1.6l.7 2.4l.6 -.1l.6 -1l.7 -.5l.6 .2l.7 .4l.6 -1.4l.6 .2l.7 -.4l.6 -.8l.7 3.8l.6 -4.3l.7 4.8l.6 -1.1l.6 -4.4l.7 -.3l.6 3.4l.7 -2l.6 2.2l.6 1.4l.7 -1.1l.6 -1l.7 0l.6 3l.6 -3.4l.7 3.8l.6 .5l.7 -4.3l.6 1.1l.7 2.6l.6 -4.4l.6 2l.7 1.1l.6 -3.8l.7 2.5l.6 -.5l.6 -1.2l.7 3.7l.6 -3l.7 4.3l.6 -2.9l.7 -2.6l.6 1.7l.6 -1.9l.7 2.8l.6 -.4l.7 -3.4l.6 1.3l.6 1.5l.7 -.8l.6 -2l.7 3.7l.6 .3l.6 -5.2l.7 5.2l.6 -6.5l.7 3.3l.6 -1.1l.7 0l.6 1.1l.6 -2.6l.7 1.7l.6 2.9l.7 -2.4l.6 1.5l.6 -1.5l.7 -4.8l.6 5.6l.7 -2.1l.6 -1l.6 -2.5l.7 -1.1l.6 -2l.7 .3l.6 -1.1l.7 -2.5l.6 -2.4l.6 -6.2l.7 -1.6l.6 -4.5l.7 -3.3l.6 -7.6l.6 -7l.7 -7l.6 -9.5l.7 -8.7l.6 -6.5l.6 -10.5l.7 -8.2l.6 -1.9l.7 -1.3l.6 1.4l.7 1.1l.6 10.9l.6 6.7l.7 9.1l.6 9l.7 9.2l.6 8l.6 8.8l.7 4l.6 4.8l.7 5.7l.6 2.4l.6 5.2l.7 .8l.6 3l.7 -.6l.6 3.9l.7 .4l.6 -1.7l.6 1.6l.7 1.4l.6 -1.9l.7 .9l.6 3.1l.6 .4l.7 1.8l.6 -4.3l.7 1.9l.6 -2.7l.7 6.8l.6 -5.2l.6 2.1l.7 3.9l.6 -.7l.7 -3.8l.6 5.5l.6 -3l.7 -2.4l.6 2.3l.7 .7l.6 .1l.6 -4.7l.7 7l.6 -6l.7 2.5l.6 2.9l.7 -1.7l.6 -.7l.6 -1l.7 2.1l.6 1.5l.7 -3.4l.6 1.8l.6 -1.4l.7 -.1l.6 -2.8l.7 4l.6 1.2l.6 -1.9l.7 2.1l.6 -1.5l.7 1.8l.6 -1.9l.7 -1l.6 -.2l.6 .9l.7 .3l.6 -2l.7 .9l.6 -2.2l.6 -.3l.7 3.1l.6 -.8l.7 .4l.6 -1.9l.6 -.5l.7 1.8l.6 -5.6l.7 .8l.6 .8l.7 -.7l.6 -4.1l.6 -2.9l.7 -3.3l.6 0l.7 -.9l.6 -1.2l.6 .4l.7 .2l.6 -1.1l.7 .5l.6 2.5l.6 2.9l.7 3.8l.6 -3.8l.7 6.2l.6 -.8l.7 3.7l.6 2.5l.6 -1.4l.7 -1.9l.6 2l.7 1.9l.6 -.7l.6 .9l.7 -.9l.6 1.3l.7 -.5l.6 2.7l.7 -.7l.6 .8l.6 -3.8l.7 2.1l.6 -.4l.7 .6l.6 -.6l.6 .3l.7 3.9l.6 -3l.7 -1.6l.6 1.7l.6 4.3l.7 -2.5l.6 -2.7l.7 1.2l.6 .3l.7 .3l.6 -3.1l.6 1.5l.7 1.3l.6 -2.5l.7 2.6l.6 .5l.6 1.2l.7 .5l.6 -2.1l.7 .7l.6 .8l.6 .6l.7 -1.5l.6 -1.4l.7 2.3l.6 .5l.7 -1.2l.6 .8l.6 1.7l.7 -3.5l.6 -.3l.7 -.6l.6 2.4l.6 1l.7 -2.4l.6 3.9l.7 -3.9l.6 1.4l.6 -.6l.7 2.5l.6 -3.3l.7 3.8l.6 -3.1l.7 -1.9l.6 1.3l.6 .7l.7 3.1l.6 -3.6l.7 .8l.6 3.4l.6 -3.1l.7 -1.3l.6 -.2l.7 -1.4l.6 3.2l.6 1.4l.7 -2.6l.6 -1.1l.7 2.2l.6 -.5l.7 -.2l.6 .9l.6 -.6l.7 -.7l.6 2.3l.7 -4.8l.6 1.2l.6 1.4l.7 -1.7l.6 4.7l.7 -6.1l.6 4.8l.7 -.3l.6 -.3l.6 .1l.7 -1.6l.6 -.3l.7 3.5l.6 -2.6l.6 -2.1l.7 .4l.6 -.5l.7 2.9l.6 1.5l.6 -2.4l.7 .7l.6 -1l.7 2.3l.6 0l.7 .1l.6 1.4l.6 -4.9l.7 3.3l.6 -3.8l.7 3.8l.6 .1l.6 -.1l.7 .2l.6 -1.5l.7 -.8l.6 2.3l.6 -2.3l.7 2.2l.6 -2.5l.7 1.9l.6 0l.7 -1.9l.6 .9l.6 2l.7 -1.5l.6 .8l.7 -1.7l.6 1l.6 -2.6l.7 1.1l.6 3.3l.7 -1.2l.6 -.9l.6 .2l.7 -2.4l.6 2.8l.7 -2.6l.6 .8l.7 2.3l.6 -2.3l.6 .3l.7 .7l.6 .3l.7 2l.6 -4.9l.6 2.1l.7 1.6l.6 -1.7l.7 .2l.6 -.7l.6 .8l.7 1.6l.6 .9l.7 -1.4l.6 1.7l.7 -2l.6 -2.8l.6 3.8l.7 -4.4l.6 3.2l.7 .1l.6 -1.8l.6 1.5l.7 -.5l.6 1.1l.7 -.7l.6 1.5l.7 -1.6l.6 1.6l.6 -.9l.7 .4l.6 -.2l.7 -.9l.6 2.5l.6 -.8l.7 -4.6l.6 1.7l.7 4.7l.6 -3.1l.6 4.9l.7 -3.8l.6 .1l.7 -1.5l.6 .4l.7 .6l.6 1.2l.6 -1.3l.7 -.2l.6 -1.5l.7 .9l.6 0l.6 .5l.7 -1l.6 -.6l.7 1.3l.6 -3.4l.6 1.5l.7 1l.6 1.9l.7 -1.7l.6 -.6l.7 2.7l.6 -1.2l.6 2.3l.7 -2.5l.6 -.8l.7 .5l.6 3.4l.6 -.4l.7 -2.1l.6 1.3l.7 -3.8l.6 4.2l.6 -1.5l.7 -.6l.6 .1l.7 .4l.6 -1.1l.7 .1l.6 -1.3l.6 4.3l.7 -3.9l.6 1.2l.7 1.8l.6 .3l.6 .3l.7 -3.2l.6 .2l.7 .6l.6 -2.8l.6 4.3l.7 -4l.6 2.4l.7 1.6l.6 -.1l.7 -2l.6 2.1l.6 .2l.7 -4.3l.6 2.2l.7 1.4l.6 -.3l.6 -1l.7 .1l.6 3.8l.7 -4.2l.6 2.2l.7 -3.4l.6 2.6l.6 .8l.7 -2.2l.6 -.3l.7 3.8l.6 -3.1l.6 1.9l.7 -3.9l.6 4.9l.7 -5.7l.6 1.7l.6 .5l.7 .9l.6 .4l.7 2.1l.6 .8l.7 -.3l.6 -1.6l.6 -1l.7 -3.5l.6 3.1l.7 -.8l.6 1.9l.6 -2.6l.7 .3l.6 .1l.7 2.2l.6 -.8l.6 -1.8l.7 -1.1l.6 1.8l.7 -.1l.6 .1l.7 1l.6 .9l.6 .1l.7 -2.2l.6 -.2l.7 3.5l.6 -2.7l.6 1.5l.7 -.9l.6 .3l.7 1.9l.6 -2.9l.6 2.1l.7 -.9l.6 -1.1l.7 -.5l.6 -.1l.7 2.5l.6 -.3l.6 -2.9l.7 1.9l.6 -3.4l.7 2.8l.6 3l.6 -5.1l.7 2.2l.6 -1.5l.7 .9l.6 -1.9l.6 1.7l.7 -4.1l.6 2.9l.7 -.4l.6 0l.7 2.7l.6 -5.4l.6 0l.7 -1.8l.6 1.9l.7 -1.7l.6 -3l.6 1.9l.7 -2.4l.6 .3l.7 -2.5l.6 -2.5l.7 -2.6l.6 -3.3l.6 1.6l.7 2.3l.6 -2l.7 -.4l.6 2.6l.6 1.9l.7 4.6l.6 -4.4l.7 2.5l.6 .2l.6 2l.7 3.8l.6 -.4l.7 -1.1l.6 5.1l.7 1.5l.6 -.9l.6 -2.2l.7 .4l.6 4l.7 -3.3l.6 1l.6 -1.2l.7 5.4l.6 -3.8l.7 .9l.6 -.8l.6 .2l.7 -.6l.6 3.5l.7 -2.6l.6 3.3l.7 -4.1l.6 2.7l.6 .8l.7 -3.2l.6 2.2l.7 -1.2l.6 -.8l.6 1.1l.7 -2.2l.6 2.5l.7 -1.9l.6 3.4l.6 1.3l.7 -.1l.6 -3.3l.7 1l.6 3.2l.7 -1l.6 -1l.6 -4.2l.7 2.8l.6 3.9l.7 -2.7l.6 -1.3l.6 .8l.7 3.6l.6 -1.7l.7 -4l.6 .3l.6 1.8l.7 2l.6 -3.2l.7 .3l.6 -3l.7 2.9l.6 1.9l.6 0l.7 -3.2l.6 3.5l.7 -2.5l.6 -.9l.6 3l.7 -3.3l.6 1.7l.7 -.6l.6 1.1l.7 .6l.6 -1l.6 -.7l.7 .5l.6 -2.9l.7 3.6l.6 3.3l.6 -2.6l.7 1.3l.6 -1.8l.7 .1l.6 .7l.6 .3l.7 0l.6 -2.3l.7 1.3l.6 -2.3l.7 3.9l.6 -1.6l.6 -.4l.7 -1.5l.6 2.6l.7 .9l.6 -.8l.6 .9l.7 -2.9l.6 2.7l.7 -1.5l.6 -4.1l.6 4.6l.7 -2l.6 1.3l.7 -.8l.6 -.3l.7 3l.6 -2.5l.6 1.2l.7 .8l.6 -1.7l.7 -1.3l.6 2l.6 -.2l.7 -1.3l.6 1.6l.7 1.8l.6 -.5l.6 .9l.7 -.2l.6 -1.8l.7 -.3l.6 -1.7l.7 3.5l.6 -2.7l.6 1.8l.7 1.6l.6 -2.3l.7 -2.5l.6 .7l.6 1l.7 2.6l.6 -2.5l.7 .2l.6 -1.4l.6 2.2l.7 -.4l.6 1.1l.7 -2.7l.6 2.3l.7 -3.1l.6 1.2l.6 .1l.7 .6l.6 .9l.7 -4.2l.6 3.4l.6 -.5l.7 -1.4l.6 1.5l.7 1.2l.6 -1.4l.7 0l.6 1.7l.6 -2.2l.7 2.8l.6 -1l.7 0l.6 .3l.6 1l.7 -3l.6 2.8l.7 -3.1l.6 1.9l.6 .4l.7 -.7l.6 -2l.7 -.1l.6 .1l.7 1.6l.6 .4l.6 .5l.7 -3.1l.6 2.7l.7 1.1l.6 -1.3l.6 -.3l.7 1.2l.6 1.2l.7 -.2l.6 .1l.6 -4.3l.7 4.1l.6 -2.7l.7 1.8l.6 -2.2l.7 1.4l.6 -1.4l.6 .4l.7 3.3l.6 -4.8l.7 3.3l.6 -1.4l.6 -1.8l.7 3.6l.6 -2l.7 -.9l.6 1.3l.6 -1.8l.7 3.6l.6 -4.8l.7 1.4l.6 -2.3l.7 3.3l.6 .8l.6 .1l.7 .8l.6 -2.5l.7 -.7l.6 1.9l.6 -2.5l.7 1.3l.6 -1.4l.7 -.6l.6 .7l.6 1.4l.7 -.6l.6 -1.6l.7 -4.7l.6 3.4l.7 -.2l.6 -.6l.6 -2.9l.7 1.4l.6 -2.4l.7 -4.8l.6 2.2l.6 -.7l.7 -4.2l.6 -3.9l.7 1.4l.6 -3.8l.7 -6.8l.6 1.8l.6 -3.4l.7 -2.1l.6 -4.6l.7 -.7l.6 2.6l.6 3.2l.7 -1.3l.6 1.7l.7 1.2l.6 2.8l.6 4.7l.7 -.1l.6 6.4l.7 .3l.6 2l.7 1.3l.6 .9l.6 2.3l.7 -.4l.6 3.5l.7 -1.9l.6 7l.6 -2.7l.7 -1.5l.6 3.2l.7 .2l.6 -.6l.6 1.5l.7 -1.3l.6 1.2l.7 .1l.6 1.1l.7 -1.4l.6 1.4l.6 -4.5l.7 5.9l.6 -1.2l.7 .6l.6 -1.1l.6 1.7l.7 -1.3l.6 .4l.7 -.2l.6 -.8l.6 -.6l.7 2.2l.6 .1l.7 -1l.6 2l.7 -1.7l.6 .5l.6 .9l.7 -.6l.6 -1.4l.7 -1.4l.6 .4l.6 -.5l.7 2.6l.6 -6.5l.7 8.1l.6 -4.5l.6 2.7l.7 -1.4l.6 .1l.7 -3.1l.6 3l.7 -2.1l.6 .4l.6 -3l.7 .5l.6 -1.9l.7 .4l.6 -.7l.6 -2.7l.7 -.5l.6 -1.5l.7 -2.5l.6 -2l.7 -4.1l.6 2.8l.6 -2.6l.7 -1.7l.6 -.1l.7 -1.3l.6 .6l.6 1.9l.7 -1.8l.6 3.1l.7 2.4l.6 -.9l.6 2.4l.7 5l.6 3l.7 -1.2l.6 1.9l.7 -1l.6 4.3l.6 -1l.7 1l.6 1.2l.7 -.8l.6 .4l.6 1.4l.7 -1.1l.6 1l.7 -2.6l.6 2.5l.6 2.3l.7 1.1l.6 -.6l.7 -2l.6 1.5l.7 -1.4l.6 -.1l.6 3l.7 -1.8l.6 .1l.7 .8l.6 1.1l.6 -1.1l.7 -.4l.6 .8l.7 -.5l.6 -.3l.6 -2.7l.7 1.7l.6 .8l.7 -1.6l.6 3.8l.7 .6l.6 -.8l.6 -3.7l.7 2l.6 0l.7 -.1l.6 -2.7l.6 3.6l.7 1.1l.6 -1.2l.7 1.8l.6 -3.4l.6 1.5l.7 .8l.6 -3.1l.7 1.2l.6 -.9l.7 2.3l.6 -2.8l.6 2l.7 -1.1l.6 2l.7 -2l.6 .5l.6 .6l.7 -1.4l.6 .5l.7 .3l.6 -.4l.7 1.1l.6 -1.4l.6 1.2l.7 -.6l.6 -.5l.7 -.6l.6 -1.1l.6 1.6l.7 1.8l.6 -1.3l.7 2.6l.6 -3.5l.6 .8l.7 -1.6l.6 3.8l.7 -3.5l.6 2.5l.7 -.2l.6 3.2l.6 -1.7l.7 -.8l.6 -.9l.7 2.5l.6 -3.1l.6 -1.2l.7 2.9l.6 -1.3l.7 -.9l.6 1.5l.6 .2l.7 -2.8l.6 3.5l.7 1.4l.6 -3.3l.7 -1.5l.6 2.5l.6 -.6l.7 1.3l.6 .2l.7 -1.5l.6 2.3l.6 -4.8l.7 1.8l.6 1.2l.7 .3l.6 -.7l.6 .8l.7 -2.4l.6 -1.5l.7 4.4l.6 .7l.7 -1.8l.6 -1.6l.6 .6l.7 1.8l.6 -.5l.7 1.5l.6 .5l.6 -.6l.7 -2l.6 1.8l.7 -.8l.6 -.4l.6 0l.7 -.4l.6 -1.3l.7 1.9l.6 -1.6l.7 1l.6 1.2l.6 0l.7 -3.7l.6 1.6l.7 -.5l.6 1.8l.6 -1.4l.7 2.4l.6 -2l.7 1.3l.6 -2l.7 .3l.6 .7l.6 .9l.7 -3.4l.6 2.9l.7 -2.1l.6 2.3l.6 -2.8l.7 1.9l.6 2.2l.7 .4l.6 -3.4l.6 3.7l.7 -2.9l.6 .6l.7 .7l.6 -.6l.7 .4l.6 -.3l.6 .9l.7 -.8l.6 -1l.7 -.7l.6 -.1l.6 1.3l.7 1.1l.6 -.5l.7 -.9l.6 1l.6 -1.4l.7 1l.6 .4l.7 -1.1l.6 2.3l.7 -.3l.6 -1.9l.6 1.2l.7 -.5l.6 .1l.7 0l.6 1.4l.6 -1.3l.7 -.1l.6 .9l.7 -.1l.6 1.2l.6 -3.5l.7 2.1l.6 -3.4l.7 2.5l.6 -1.8l.7 0l.6 1.6l.6 -1.3l.7 1.1l.6 -3.3l.7 5.5l.6 -5.4l.6 2.6l.7 3.2l.6 -4.1l.7 4.1l.6 -.8l.6 -1.6l.7 -.3l.6 .1l.7 .7l.6 1l.7 .4l.6 -4.6l.6 4l.7 -.3l.6 -2.5l.7 2.8l.6 .1l.6 0l.7 -1.3l.6 1.1l.7 .6l.6 -2.5l.7 .2l.6 -.1l.6 2.3l.7 -1.5l.6 -1l.7 -.4l.6 -.4l.6 2l.7 .8l.6 .6l.7 -3l.6 0l.6 0l.7 .1l.6 -.8l.7 4l.6 -1.5l.7 -1.3l.6 -2.7l.6 5.2l.7 -.8l.6 -.9l.7 .8l.6 -1.9l.6 1.7l.7 -1.6l.6 1.4l.7 -.9l.6 -1.5l.6 .3l.7 2.8l.6 -.2l.7 -1.6l.6 -.7l.7 .3l.6 1.1l.6 -2.4l.7 3l.6 -2.4l.7 -.4l.6 1.4l.6 2.5l.7 -3.6l.6 .4l.7 -1.1l.6 1.7l.6 0l.7 -.5l.6 -.7l.7 .9l.6 .4l.7 -1.9l.6 .1l.6 -.8l.7 -.2l.6 1.9l.7 -3.3l.6 1.1l.6 .5l.7 -2.7l.6 .7l.7 -.7l.6 -3.9l.6 2l.7 -3.9l.6 0l.7 -3.8l.6 -1.9l.7 0l.6 .5l.6 -.8l.7 -1.8l.6 -3.7l.7 -2.1l.6 -2.1l.6 -1.3l.7 -2.1l.6 -.4l.7 1.4l.6 .8l.7 -.2l.6 .8l.6 2.5l.7 7.2l.6 -3.2l.7 4.8l.6 1.7l.6 1.6l.7 -.4l.6 5l.7 -.8l.6 .2l.6 1l.7 1.8l.6 3.8l.7 -3.7l.6 1.5l.7 1.5l.6 1.1l.6 -1.6l.7 .5l.6 .8l.7 1.9l.6 -.9l.6 .2l.7 .7l.6 0l.7 1.2l.6 -2l.6 1l.7 -.7l.6 1.9l.7 .2l.6 -1.3l.7 1.9l.6 -1.7l.6 2.1l.7 -2.3l.6 0l.7 -1.3l.6 .7l.6 .8l.7 -2.2l.6 2.8l.7 1.1l.6 -.3l.6 -.4l.7 .6l.6 -1.6l.7 .2" fill="none" stroke="#000" stroke-width="9" stroke-linejoin="round" stroke-linecap="butt"/>
<path clip-path="url(#cp2)" d="M330.5 1269.8l.6 1.5l.7 4.2l.6 2.8l.7 2.8l.6 -1.9l.6 -1l.7 .1l.6 4.5l.7 2.9l.6 -3.1l.7 -3.4l.6 1.1l.6 7l.7 -3.2l.6 -4.6l.7 4.6l.6 -2.3l.6 1.8l.7 .9l.6 -.1l.7 3.8l.6 -1l.6 -.8l.7 3.1l.6 1.7l.7 -5.8l.6 4.1l.7 -1.3l.6 2.6l.6 -2.4l.7 3.9l.6 .4l.7 -.2l.6 -1.5l.6 2.1l.7 -1.3l.6 -.2l.7 4.4l.6 -3l.6 6.1l.7 -.8l.6 -6.5l.7 6.1l.6 -3.2l.7 3.2l.6 .4l.6 -4.9l.7 4.8l.6 .2l.7 3.4l.6 -5.1l.6 5.1l.7 -4.3l.6 2.2l.7 -1l.6 6l.7 -1.9l.6 4.9l.6 -4.2l.7 .7l.6 .3l.7 -3.4l.6 1.5l.6 3.8l.7 -4.1l.6 1.7l.7 -.3l.6 1.8l.6 -2.1l.7 .8l.6 1.2l.7 0l.6 -2.1l.7 4.7l.6 -5.2l.6 .6l.7 .2l.6 6l.7 -2.9l.6 -1.1l.6 0l.7 4.3l.6 -3.2l.7 -.1l.6 5l.6 -4l.7 2.5l.6 1.2l.7 -.7l.6 1.3l.7 3.7l.6 -4.3l.6 -1.5l.7 -1.1l.6 4.2l.7 -.1l.6 1.8l.6 -1.6l.7 .2l.6 -.3l.7 .7l.6 1.9l.6 -1.1l.7 1.4l.6 4.7l.7 -3.3l.6 -4.7l.7 8.4l.6 -3.1l.6 -2.8l.7 4.8l.6 -1.8l.7 -1.2l.6 .3l.6 -.4l.7 2.9l.6 2.8l.7 -2.9l.6 2.2l.6 3.9l.7 -7.1l.6 4l.7 -.9l.6 -1.5l.7 .5l.6 2.9l.6 1.4l.7 -1.9l.6 1.8l.7 2l.6 -.6l.6 1.8l.7 -.6l.6 .5l.7 3.6l.6 -2.5l.7 -.8l.6 1.8l.6 -3.5l.7 1.8l.6 3l.7 0l.6 2.5l.6 -3.3l.7 -3.2l.6 8.4l.7 -1.7l.6 -4.9l.6 6.1l.7 -3l.6 -4.1l.7 3.6l.6 0l.7 5.2l.6 -5.4l.6 1.5l.7 .2l.6 0l.7 -1l.6 2.9l.6 2.3l.7 -.8l.6 -3.4l.7 -.3l.6 3.3l.6 -1.7l.7 .4l.6 -2.2l.7 8.8l.6 -2.1l.7 -4.2l.6 4.7l.6 1.3l.7 -8.5l.6 4.5l.7 .7l.6 2.6l.6 -1.5l.7 0l.6 .6l.7 4.7l.6 .9l.6 -6.1l.7 -.7l.6 8.7l.7 -8.4l.6 1.2l.7 1.6l.6 1.2l.6 1.5l.7 -1.3l.6 -2.7l.7 3.3l.6 -.4l.6 3.9l.7 -4.2l.6 -2.9l.7 .9l.6 5.9l.6 -4.5l.7 -3.4l.6 3.6l.7 1.5l.6 2.9l.7 -5l.6 4l.6 .4l.7 -3.3l.6 1.3l.7 4.6l.6 0l.6 -1.8l.7 -1.1l.6 2l.7 -2.9l.6 .3l.7 -1.6l.6 2.1l.6 -.1l.7 6.7l.6 -6.7l.7 3.5l.6 .3l.6 -3.3l.7 3.2l.6 -7.5l.7 5.3l.6 1.9l.6 -7.3l.7 2.9l.6 5.2l.7 -2.9l.6 -1.8l.7 1.7l.6 -.3l.6 3l.7 -.5l.6 -1.7l.7 -.8l.6 1.5l.6 3.2l.7 -2.2l.6 .7l.7 -1.7l.6 -2.6l.6 1.4l.7 3.2l.6 -1.2l.7 -2.3l.6 -1.5l.7 4l.6 -.9l.6 0l.7 .2l.6 1.5l.7 .2l.6 1.6l.6 .1l.7 1l.6 -1l.7 -2.5l.6 .8l.6 1.4l.7 -1.7l.6 2.1l.7 1.5l.6 -4.3l.7 -2.1l.6 6.9l.6 -2.6l.7 1.6l.6 -4.5l.7 7l.6 -2.2l.6 -1.9l.7 -.4l.6 1.1l.7 -.6l.6 -.2l.6 -1.8l.7 5.5l.6 -2.9l.7 .3l.6 .1l.7 -5.6l.6 6.7l.6 -1.9l.7 .1l.6 .9l.7 -2.4l.6 4.2l.6 -3.4l.7 -.4l.6 .1l.7 2.4l.6 1.4l.7 -3l.6 -2.1l.6 5.9l.7 -4.8l.6 5.2l.7 -2.8l.6 -1.5l.6 .2l.7 2.5l.6 .9l.7 -2.4l.6 2.6l.6 2.5l.7 -5.2l.6 -2.1l.7 .2l.6 -.7l.7 1.7l.6 -.2l.6 -1.4l.7 4.2l.6 -7.1l.7 2.9l.6 7.6l.6 -2.2l.7 -1.2l.6 -.2l.7 3l.6 -2.8l.6 -1l.7 -3l.6 2.7l.7 -1.5l.6 .1l.7 0l.6 1.5l.6 -.6l.7 2.8l.6 -5l.7 2.7l.6 4.6l.6 -4.1l.7 2.7l.6 -.1l.7 .4l.6 -1.3l.6 -4.7l.7 2.6l.6 -.2l.7 -2.6l.6 2.5l.7 -1.7l.6 -.9l.6 4.3l.7 -.5l.6 -1.4l.7 -.5l.6 1l.6 .4l.7 0l.6 .9l.7 -.8l.6 1.9l.6 .4l.7 -.3l.6 -2.3l.7 .2l.6 2.4l.7 -1.3l.6 .4l.6 -5.5l.7 -.4l.6 6.9l.7 .1l.6 2.4l.6 -1.4l.7 -1.1l.6 -.4l.7 -3.2l.6 5.3l.7 -3.3l.6 2.6l.6 -.6l.7 .2l.6 1.5l.7 -3.1l.6 .3l.6 -1l.7 1.2l.6 4.6l.7 -4.4l.6 3.5l.6 -.7l.7 -.2l.6 .2l.7 -4l.6 3.2l.7 2.7l.6 -5.1l.6 1.5l.7 -1.4l.6 2.3l.7 -3.1l.6 6.1l.6 -4.5l.7 -2.6l.6 7.5l.7 -1.8l.6 -1l.6 .1l.7 -2l.6 .3l.7 2.2l.6 .4l.7 .1l.6 -1.6l.6 -1.5l.7 .6l.6 2.9l.7 .8l.6 -4l.6 -.3l.7 3.9l.6 -1.2l.7 0l.6 -4.5l.6 2.1l.7 -.3l.6 1.6l.7 -4.2l.6 6.6l.7 -2.2l.6 .3l.6 -3.6l.7 2.6l.6 3l.7 -6.4l.6 4.1l.6 .9l.7 -3.1l.6 3.4l.7 -2.6l.6 3.5l.6 -1.6l.7 -.7l.6 4l.7 -2.6l.6 1l.7 -5.5l.6 1.2l.6 3.3l.7 .1l.6 -2.1l.7 1.8l.6 -4.1l.6 2.8l.7 -3.1l.6 3.2l.7 -1.9l.6 -.4l.7 1.5l.6 3.8l.6 -6.4l.7 .9l.6 3.6l.7 -3.4l.6 4.8l.6 -3.6l.7 -.4l.6 .5l.7 3l.6 -2.5l.6 -.4l.7 -.7l.6 -4.2l.7 1.4l.6 5.2l.7 -1.6l.6 -.9l.6 .2l.7 -2.8l.6 1.8l.7 -2.9l.6 2.8l.6 -2.6l.7 .9l.6 1.4l.7 -1.9l.6 2l.6 -.5l.7 -.4l.6 2l.7 -6.4l.6 -.4l.7 4.8l.6 .5l.6 2.2l.7 -2.9l.6 0l.7 -3.9l.6 3.4l.6 -.3l.7 -4l.6 .3l.7 1.6l.6 .7l.6 -7.3l.7 6.6l.6 .2l.7 -1l.6 .8l.7 .3l.6 -3.3l.6 3l.7 -1.6l.6 -1.6l.7 2.4l.6 2.7l.6 -6.6l.7 -.6l.6 -.1l.7 8l.6 -5.1l.6 .4l.7 -1.7l.6 -.5l.7 -2.5l.6 4.8l.7 .1l.6 -5l.6 1.9l.7 .6l.6 1.5l.7 .5l.6 1.9l.6 .4l.7 -.7l.6 .6l.7 -5.6l.6 1.3l.7 3.7l.6 -2l.6 -.6l.7 -4.5l.6 .2l.7 5.7l.6 -.9l.6 -1.5l.7 -.3l.6 -3l.7 4.6l.6 1.4l.6 1.2l.7 -3.6l.6 -.6l.7 -2.1l.6 5.1l.7 .9l.6 -5.2l.6 1.9l.7 -.5l.6 -1.6l.7 -4.3l.6 4.5l.6 2.1l.7 -4.7l.6 1.2l.7 -5.5l.6 9.9l.6 -1.8l.7 -1.2l.6 -.9l.7 -.9l.6 1l.7 -.7l.6 -.1l.6 .3l.7 .1l.6 2.8l.7 -6.8l.6 3.4l.6 -2.2l.7 -1.5l.6 -3.1l.7 6.2l.6 -4l.6 .1l.7 2.2l.6 -4l.7 1.8l.6 -.8l.7 1.2l.6 -.4l.6 -5l.7 3l.6 -3.3l.7 -.7l.6 -2.1l.6 .7l.7 -6.1l.6 1.3l.7 -.3l.6 -5.9l.6 1.8l.7 -10l.6 -2.8l.7 -7.7l.6 -8l.7 -10.9l.6 -11.1l.6 -14.2l.7 -20.5l.6 -19.1l.7 -25.6l.6 -37.9l.6 -29.9l.7 -39.5l.6 -39.4l.7 -33.8l.6 -36.8l.7 -27.2l.6 -12.8l.6 -2.6l.7 23.6l.6 25.4l.7 38.1l.6 39.1l.6 41.2l.7 39.5l.6 31.6l.7 30.4l.6 22.3l.6 23l.7 18.3l.6 9.5l.7 19l.6 3l.7 6l.6 12l.6 5.7l.7 -2.5l.6 3.3l.7 10.7l.6 -4.4l.6 -2.7l.7 4.7l.6 7.1l.7 -1.6l.6 1.3l.6 2.1l.7 -.2l.6 -1.4l.7 -1.9l.6 5.1l.7 -2.7l.6 2.9l.6 4.5l.7 -2.1l.6 -.6l.7 .5l.6 1.8l.6 .8l.7 -4.5l.6 3.6l.7 3.7l.6 -1.8l.6 -3.1l.7 .5l.6 -2.7l.7 3l.6 5.5l.7 -3.4l.6 -1.4l.6 .8l.7 1.2l.6 .1l.7 -.3l.6 -.8l.6 3.2l.7 2.1l.6 -4.4l.7 .1l.6 3.9l.6 -5.6l.7 2l.6 .5l.7 1.3l.6 -.9l.7 -1.2l.6 2.6l.6 -3.1l.7 -1.2l.6 -.5l.7 6.1l.6 -5.4l.6 4.8l.7 .6l.6 .3l.7 -2.1l.6 -.7l.7 1.4l.6 -1.4l.6 -1.5l.7 5.5l.6 -4.6l.7 5.9l.6 -2.7l.6 -2.1l.7 2l.6 1.7l.7 -5.5l.6 1l.6 -.3l.7 2.7l.6 .6l.7 -.8l.6 -1.6l.7 .4l.6 3.7l.6 -.1l.7 -2.1l.6 -3.1l.7 4.2l.6 -.7l.6 -.1l.7 3.2l.6 -2l.7 -3.9l.6 0l.6 5.1l.7 -2.6l.6 1.5l.7 -2.2l.6 -1.8l.7 2.6l.6 2.8l.6 -2.7l.7 -3.2l.6 1.7l.7 -.5l.6 1.3l.6 1.7l.7 2l.6 -3.9l.7 -1.6l.6 .9l.6 -.3l.7 -1.2l.6 .6l.7 -.3l.6 -2.9l.7 3.2l.6 -2.4l.6 -2l.7 2.4l.6 -3l.7 3.6l.6 -4.2l.6 -2.8l.7 -4.3l.6 -2.5l.7 -1.5l.6 -8.6l.6 -3.5l.7 -14.2l.6 -4.5l.7 -9.4l.6 -12.8l.7 -12.8l.6 -9.2l.6 -13.4l.7 -5.9l.6 1.5l.7 6.7l.6 6.7l.6 9.7l.7 13.2l.6 12.4l.7 7.6l.6 6.7l.7 12.4l.6 6.2l.6 7.9l.7 3.3l.6 4.4l.7 5.7l.6 1.5l.6 1.5l.7 5l.6 -3.4l.7 1.1l.6 4.3l.6 -4.4l.7 -.5l.6 6.8l.7 -1.6l.6 1l.7 .4l.6 .9l.6 -2.6l.7 1.2l.6 -2l.7 2.9l.6 .5l.6 -1.3l.7 2.7l.6 5l.7 -8.5l.6 4.4l.6 .4l.7 .4l.6 -3.8l.7 4.5l.6 -1l.7 -1.5l.6 -.4l.6 1.4l.7 1.7l.6 0l.7 3.2l.6 -5.5l.6 2.2l.7 -2.1l.6 2.8l.7 -1.3l.6 -1.4l.6 -1.4l.7 1.4l.6 2.3l.7 2.7l.6 -1.3l.7 -4.1l.6 1.6l.6 1.2l.7 -.2l.6 .5l.7 1.6l.6 -1.2l.6 -1.8l.7 -2.6l.6 3.5l.7 -2.8l.6 3.3l.6 1.1l.7 -3.5l.6 2.6l.7 -.4l.6 4.9l.7 -3l.6 -4.9l.6 5l.7 0l.6 -1.2l.7 -.3l.6 2.2l.6 .2l.7 -.4l.6 -2.9l.7 1.7l.6 -2.7l.7 .3l.6 2.1l.6 -1l.7 1.5l.6 6.3l.7 -4.1l.6 -2.8l.6 -2.6l.7 2.9l.6 -1.1l.7 -1.5l.6 6.3l.6 -2.4l.7 2l.6 5.8l.7 -5.9l.6 -.2l.7 .6l.6 -1.2l.6 -1.1l.7 1.4l.6 3l.7 -2.9l.6 -2.2l.6 .3l.7 .6l.6 2.3l.7 1l.6 .1l.6 1.6l.7 -2.9l.6 2.2l.7 -1l.6 .9l.7 -5.3l.6 6.6l.6 -5.8l.7 .9l.6 4.1l.7 -2.4l.6 4.6l.6 -3.4l.7 -2.4l.6 2.5l.7 -1.1l.6 4.2l.6 .2l.7 -1.9l.6 -2.3l.7 1l.6 2.1l.7 -3.8l.6 0l.6 3.5l.7 -.2l.6 -2l.7 0l.6 -3.5l.6 6.6l.7 -2.7l.6 -2.7l.7 .7l.6 .5l.6 5.5l.7 -2.1l.6 -4.2l.7 6.8l.6 -1.1l.7 -5l.6 -3.3l.6 7.7l.7 -3.3l.6 1.1l.7 -.8l.6 3.8l.6 .5l.7 -1.4l.6 -1.9l.7 .9l.6 .8l.7 -4.6l.6 6l.6 -3.2l.7 1.2l.6 -.2l.7 1.6l.6 .4l.6 2.5l.7 -5.3l.6 -1.1l.7 2.2l.6 -1.6l.6 3.2l.7 -3.5l.6 2l.7 1.7l.6 .2l.7 -1.6l.6 2.5l.6 -.2l.7 -6.2l.6 4.3l.7 -.3l.6 -1l.6 -.7l.7 1.5l.6 .7l.7 -.2l.6 2.3l.6 -.8l.7 -3.2l.6 -.3l.7 3.3l.6 -3.2l.7 1.8l.6 .7l.6 1.2l.7 -1.1l.6 2l.7 -3.9l.6 2.3l.6 -2.7l.7 1.8l.6 -.2l.7 -2.1l.6 -3.4l.6 7.3l.7 -1.2l.6 -.4l.7 -1.7l.6 .8l.7 1.6l.6 -.9l.6 2.4l.7 -2.1l.6 -1.9l.7 2.9l.6 -2.5l.6 1.8l.7 -4.2l.6 3.1l.7 1.8l.6 -2.4l.6 1.3l.7 1.3l.6 -1.1l.7 3.6l.6 -4.2l.7 .2l.6 .1l.6 -3.7l.7 .9l.6 4.3l.7 -1.7l.6 3.5l.6 -3l.7 -.1l.6 2.5l.7 -1.6l.6 2.8l.7 -5.4l.6 3.1l.6 .5l.7 -.2l.6 1.2l.7 -.2l.6 -2l.6 -1.2l.7 3.2l.6 -1.9l.7 1.9l.6 .8l.6 -2.3l.7 -2.2l.6 1.4l.7 2.1l.6 -2l.7 2.8l.6 -2.2l.6 .2l.7 -1.5l.6 1.1l.7 2.4l.6 -2.9l.6 0l.7 -.8l.6 3.1l.7 -4.6l.6 1.7l.6 3.2l.7 1l.6 -3.3l.7 2.4l.6 -5.9l.7 5.5l.6 -.9l.6 -3.1l.7 -1.1l.6 2.6l.7 1.6l.6 .2l.6 -.5l.7 1.3l.6 -.1l.7 -4.2l.6 2l.6 -.2l.7 3.1l.6 -3l.7 3l.6 -1.8l.7 4.6l.6 -4.8l.6 .1l.7 -.2l.6 .6l.7 4.6l.6 -5.8l.6 -.7l.7 1.4l.6 1.8l.7 -3.3l.6 3.6l.6 0l.7 -1.8l.6 -.1l.7 -1l.6 1.1l.7 -1l.6 4.1l.6 .8l.7 -3.7l.6 .5l.7 -3.6l.6 2.8l.6 1.7l.7 0l.6 -.3l.7 1.5l.6 -1.4l.7 -.9l.6 3.9l.6 -6.9l.7 1.6l.6 .8l.7 .1l.6 -.1l.6 1.2l.7 -1l.6 1.4l.7 1.3l.6 -1.1l.6 .3l.7 -2.1l.6 -.4l.7 1.7l.6 2.5l.7 -1.1l.6 1.5l.6 -.2l.7 .3l.6 -3.7l.7 4l.6 -.9l.6 2.6l.7 -2.9l.6 -.4l.7 -.9l.6 .6l.6 -3.5l.7 2.8l.6 .4l.7 2.1l.6 -3.2l.7 1.6l.6 3.3l.6 -4.6l.7 2.7l.6 -2.6l.7 .9l.6 1.1l.6 .8l.7 -2.6l.6 -1l.7 4.9l.6 -2.5l.6 1.2l.7 .3l.6 -.3l.7 -2l.6 .3l.7 -2.7l.6 3.4l.6 -1.3l.7 .9l.6 3.7l.7 -2.3l.6 -1.2l.6 -2.7l.7 4.1l.6 1.5l.7 -4.5l.6 2.4l.6 -1.7l.7 .7l.6 -.4l.7 -2.4l.6 2.1l.7 -2.1l.6 5.7l.6 -.6l.7 -1.9l.6 .4l.7 -.4l.6 .3l.6 0l.7 -.9l.6 .2l.7 -2.3l.6 .7l.7 .7l.6 1.5l.6 -1.1l.7 4.3l.6 -4l.7 -.3l.6 1.4l.6 1.1l.7 1.6l.6 -1.7l.7 -3l.6 .7l.6 2.3l.7 -1.6l.6 1l.7 -1.7l.6 3.1l.7 -.4l.6 -.7l.6 -1.8l.7 -3.4l.6 .4l.7 3l.6 .5l.6 -6.8l.7 4.5l.6 2.9l.7 -.5l.6 -2.8l.6 1.9l.7 -1.3l.6 -.6l.7 2.3l.6 -.2l.7 -3.3l.6 -1l.6 -1l.7 -.4l.6 4.8l.7 .6l.6 -3.4l.6 1.1l.7 -3.7l.6 .7l.7 1.2l.6 -1.7l.6 -1.4l.7 -3.8l.6 -.5l.7 .8l.6 -1.5l.7 -.6l.6 -2.8l.6 -1.4l.7 -2.1l.6 -2.4l.7 -4.7l.6 -5.9l.6 -5.2l.7 -4.7l.6 -10.2l.7 -10.8l.6 -11l.6 -9.9l.7 -13.2l.6 -13.6l.7 -18.4l.6 -12.8l.7 -18.7l.6 -13.7l.6 -11.9l.7 -5.4l.6 -1.6l.7 .7l.6 6.5l.6 9.5l.7 17.1l.6 14.6l.7 16.3l.6 14.9l.7 14.4l.6 14.6l.6 13.9l.7 11.9l.6 7.8l.7 8.8l.6 5.9l.6 5.9l.7 2.6l.6 8.1l.7 2.7l.6 4.3l.6 -1.5l.7 3.2l.6 -.4l.7 3.5l.6 .4l.7 2.5l.6 -.6l.6 2.2l.7 -1.4l.6 2.6l.7 -1l.6 .3l.6 1.4l.7 1l.6 -2.8l.7 .2l.6 3.4l.6 -.1l.7 -3.3l.6 .9l.7 2l.6 2.2l.7 0l.6 1.7l.6 .5l.7 2.3l.6 -6.6l.7 2.7l.6 2.1l.6 -4l.7 -.1l.6 3l.7 1.8l.6 .4l.6 -5.3l.7 1.2l.6 2.1l.7 -.7l.6 1.7l.7 -.3l.6 3l.6 -3.1l.7 .5l.6 -.1l.7 2l.6 -3.9l.6 2.8l.7 -2l.6 -1l.7 4.7l.6 -1.1l.6 1.7l.7 -2l.6 .8l.7 -.8l.6 .9l.7 -1.7l.6 3.9l.6 -4.5l.7 4.7l.6 -3.3l.7 2l.6 -1.2l.6 .6l.7 1.9l.6 -2.3l.7 -1.8l.6 2.2l.7 .8l.6 -5.5l.6 6.2l.7 .2l.6 -5l.7 2.9l.6 1.8l.6 -3.5l.7 1.4l.6 .2l.7 1.6l.6 1l.6 -2l.7 .1l.6 1.5l.7 -.8l.6 -1.3l.7 2.5l.6 -5l.6 2.7l.7 -1l.6 -.2l.7 1.3l.6 -.3l.6 4.3l.7 -3.2l.6 -.5l.7 2.4l.6 -1.1l.6 -5.1l.7 3.5l.6 1.2l.7 -2.4l.6 1.6l.7 -1.3l.6 1.6l.6 -3.6l.7 -.5l.6 2.5l.7 1.4l.6 2l.6 -2.8l.7 -.8l.6 3l.7 -1.5l.6 3.1l.6 -3.3l.7 -3.2l.6 2l.7 -.2l.6 -.7l.7 1.1l.6 .2l.6 .7l.7 -.4l.6 1.7l.7 0l.6 -.4l.6 .1l.7 -3.6l.6 .4l.7 1.4l.6 2l.6 -3l.7 1.9l.6 1.2l.7 3.1l.6 -3l.7 -1.4l.6 2.9l.6 -1.6l.7 -.8l.6 2.5l.7 -3.6l.6 2l.6 -.2l.7 1.5l.6 -3.6l.7 -.2l.6 1.6l.7 .2l.6 .6l.6 -.7l.7 1.4l.6 .5l.7 -.8l.6 -2.3l.6 3.9l.7 -4.7l.6 2.4l.7 1.9l.6 -2.6l.6 3.3l.7 1.1l.6 -.6l.7 -2l.6 1l.7 -2.6l.6 1.6l.6 .1l.7 -.6l.6 .1l.7 -.6l.6 -3.1l.6 4.1l.7 -.1l.6 3l.7 -2.3l.6 -1.1l.6 1.4l.7 -.5l.6 -1.1l.7 -.6l.6 -1.9l.7 2.7l.6 2.6l.6 -6l.7 1.6l.6 2.9l.7 -1l.6 .4l.6 -3.9l.7 2.2l.6 1.8l.7 .2l.6 -.5l.6 -2.1l.7 2.5l.6 -3l.7 .4l.6 -.4l.7 4.5l.6 -3.3l.6 .8l.7 -3.9l.6 5.7l.7 -1.1l.6 -3.7l.6 .1l.7 5.6l.6 -4.6l.7 4.8l.6 -4l.6 -3.5l.7 6.1l.6 -1l.7 .2l.6 -2.1l.7 .5l.6 1.9l.6 -3.1l.7 -2l.6 4.9l.7 -2.7l.6 3.2l.6 -3.1l.7 0l.6 .2l.7 -3.6l.6 5.9l.7 -3.2l.6 .7l.6 2.7l.7 -2.4l.6 1.2l.7 -1.1l.6 .6l.6 -1l.7 1.3l.6 -2.5l.7 1l.6 -2.3l.6 3.1l.7 -6l.6 3.7l.7 0l.6 -.3l.7 -1l.6 2l.6 .8l.7 -5l.6 -2.8l.7 .8l.6 -.2l.6 .4l.7 -.8l.6 .9l.7 -3.8l.6 -.8l.6 -1.5l.7 -3.7l.6 -1.6l.7 2.3l.6 -8.4l.7 -5.6l.6 -7l.6 -.2l.7 -8.8l.6 -7.9l.7 -3l.6 -10.8l.6 -15.1l.7 -8l.6 -8.3l.7 -10.9l.6 -13.2l.6 -4l.7 -6.9l.6 -9.5l.7 -2.6l.6 2.2l.7 8l.6 7.7l.6 7.4l.7 8.7l.6 11.4l.7 11.8l.6 7.4l.6 9l.7 11.7l.6 10.5l.7 5.6l.6 6.6l.6 4.2l.7 7.6l.6 -.2l.7 6.3l.6 2.2l.7 3.2l.6 .8l.6 4.6l.7 .1l.6 .4l.7 2.9l.6 0l.6 0l.7 .6l.6 2.9l.7 -2.3l.6 1.7l.7 .3l.6 1.4l.6 -.5l.7 4.3l.6 -6.2l.7 4.2l.6 -.8l.6 2.1l.7 -4.3l.6 4.9l.7 -4.1l.6 3.6l.6 -.1l.7 -.7l.6 -1.1l.7 0l.6 1.6l.7 -1.3l.6 -1.9l.6 .4l.7 4.3l.6 .2l.7 -.5l.6 -.7l.6 .6l.7 .2l.6 -.3l.7 -1.7l.6 .1l.6 -.7l.7 2.1l.6 -1.9l.7 1.3l.6 2.4l.7 -2.9l.6 2.1l.6 .8l.7 -5.7l.6 .4l.7 2.8l.6 -2.3l.6 1.6l.7 -.2l.6 -2.7l.7 1.5l.6 .6l.6 -2.3l.7 -4.1l.6 -.1l.7 -2l.6 1.9l.7 -4.4l.6 -2.5l.6 -.4l.7 -.8l.6 -2.9l.7 -.3l.6 -1l.6 .9l.7 .5l.6 -.6l.7 -.2l.6 2.8l.6 -.6l.7 4.9l.6 .6l.7 1.5l.6 -2.6l.7 9.3l.6 -.1l.6 1l.7 -.6l.6 1.9l.7 4.5l.6 -4.9l.6 3l.7 .4l.6 -.3l.7 .8l.6 -1.7l.7 2.9l.6 -2.8l.6 5.3l.7 -1.5l.6 -2.4l.7 -1.8l.6 3.7l.6 .8l.7 -2.3l.6 4.4l.7 -2.1l.6 -1.1l.6 -1.4l.7 2.1l.6 0l.7 1.5l.6 .7l.7 -1.6l.6 .8l.6 1.6l.7 -1.2l.6 -1.4l.7 1.5l.6 -1.8l.6 1.6l.7 -.6l.6 -1.8l.7 2.8l.6 -.8l.6 1.1l.7 -3.3l.6 3.9l.7 .1l.6 -2.3l.7 .4l.6 .2l.6 0l.7 1.4l.6 -2.5l.7 -.7l.6 1.5l.6 3.4l.7 -3.6l.6 -.9l.7 .1l.6 1.7l.6 1.7l.7 -3l.6 1.4l.7 .1l.6 .4l.7 -.5l.6 1.5l.6 -.6l.7 -2l.6 4.9l.7 -6l.6 .1l.6 3.7l.7 -1.3l.6 -.6l.7 .7l.6 .8l.6 -1.7l.7 -.3l.6 -.6l.7 .3l.6 .2l.7 3.1l.6 -1.3l.6 .5l.7 -1.7l.6 2.6l.7 -4.1l.6 3.3l.6 .4l.7 -2l.6 -.6l.7 2.5l.6 -1.9l.7 -.3l.6 1.5l.6 -1.7l.7 1.6l.6 3.5l.7 -3.9l.6 2.2l.6 -3l.7 1.8l.6 -.5l.7 .2l.6 1.5l.6 2.3l.7 -3.6l.6 2.3l.7 -1.4l.6 .6l.7 -1.8l.6 -.4l.6 .9l.7 -.9l.6 1.3l.7 -1.6l.6 1.7l.6 .3l.7 2.6l.6 -.1l.7 -1.8l.6 -1.6l.6 1.8l.7 .3l.6 -1.5l.7 -1.1l.6 -1.4l.7 2.7l.6 3.1l.6 -3.3l.7 .9l.6 0l.7 .2l.6 .4l.6 -4.4l.7 3l.6 .8l.7 -.8l.6 2.1l.6 -2.5l.7 2l.6 1.4l.7 -3.2l.6 .4l.7 -.5l.6 1.7l.6 -4.5l.7 1l.6 1.9l.7 1.8l.6 -.4l.6 -2.2l.7 3.8l.6 -2.3l.7 -1.2l.6 1.9l.6 1.2l.7 -2.2l.6 -2.2l.7 1.5l.6 1l.7 1.4l.6 -3l.6 2l.7 -2.3l.6 2l.7 -2.2l.6 1.4l.6 -1.6l.7 .8l.6 -.9l.7 -.6l.6 5l.7 0l.6 -1.1l.6 -1.3l.7 2.9l.6 -2.7l.7 1.1l.6 1.1l.6 -1.4l.7 2l.6 -2.5l.7 0l.6 .4l.6 -1.9l.7 .1l.6 2.9l.7 -3.9l.6 4.5l.7 -1.3l.6 1.4l.6 -.7l.7 -.2l.6 1.8l.7 -2.8l.6 -.1l.6 2l.7 -2.8l.6 2.8l.7 -.7l.6 -1.9l.6 -1.2l.7 -1.1l.6 6.1l.7 -5.3l.6 .5l.7 3.2l.6 -.6l.6 -.4l.7 -.2l.6 -.8l.7 -.8l.6 .3l.6 2.1l.7 .7l.6 .2l.7 -1.9l.6 -3.4l.6 4.2l.7 -1l.6 -3.9l.7 6.3l.6 -1.8l.7 -.4l.6 .4l.6 -.2l.7 .2l.6 -.2l.7 -.1l.6 .9l.6 -.4l.7 3.2l.6 -3.5l.7 -1l.6 -.1l.6 1.5l.7 -.4l.6 .2l.7 -.7l.6 0l.7 1.5l.6 .9l.6 -1.6l.7 -.7l.6 -1.6l.7 0l.6 1.9l.6 -.5l.7 .2l.6 -1.5l.7 1.5l.6 -2.8l.7 1.1l.6 .6l.6 2.2l.7 -1.9l.6 -.5l.7 1.8l.6 -.5l.6 1.5l.7 -.9l.6 -.2l.7 -.6l.6 1.3l.6 -2.2l.7 -1.2l.6 3.7l.7 -2.1l.6 .8l.7 .9l.6 .6l.6 -6.1l.7 2.9l.6 3.5l.7 -4.5l.6 3.3l.6 -1.3l.7 -.8l.6 1.2l.7 -2.5l.6 3.3l.6 1.1l.7 -4l.6 1.2l.7 2.8l.6 -1.3l.7 -1l.6 2.6l.6 -4.8l.7 2.2l.6 .5l.7 -.6l.6 1.6l.6 -3.8l.7 2.6l.6 -1.3l.7 3l.6 -.2l.6 -2.8l.7 -.6l.6 1.6l.7 -1.3l.6 .3l.7 1.5l.6 -1.4l.6 3.4l.7 -2.8l.6 -1l.7 -1l.6 .8l.6 2.3l.7 -1l.6 1.1l.7 -.4l.6 -1.4l.6 -2.3l.7 .5l.6 -.2l.7 -3.2l.6 2.4l.7 -2.9l.6 .6l.6 -1.7l.7 .5l.6 1.8l.7 -7.3l.6 .1l.6 1.4l.7 -6.4l.6 -.8l.7 -1.7l.6 -1.2l.7 -4.6l.6 1.6l.6 -.5l.7 2.5l.6 -3.9l.7 -.1l.6 2.1l.6 -2.7l.7 6.3l.6 3.7l.7 -.5l.6 1.9l.6 1.6l.7 2.3l.6 -.5l.7 5.7l.6 -1.8l.7 1.2l.6 4.2l.6 -1.6l.7 .1l.6 3.8l.7 -1.7l.6 1.6l.6 -1.9l.7 -1.5l.6 3.2l.7 2.2l.6 -2.7l.6 1.4l.7 .7l.6 -.5l.7 -.2l.6 1.2l.7 -.8l.6 -1l.6 2.5l.7 -.3l.6 -.6l.7 .6l.6 -5l.6 4.4l.7 -.3l.6 -3l.7 6.2l.6 -2.5l.6 -1.2l.7 .1l.6 1.1l.7 -.4l.6 -2.4l.7 1.8l.6 1.4l.6 .2l.7 .5l.6 -2.9l.7 .6l.6 1.6l.6 -1.5l.7 1.3l.6 -1.6l.7 2.2l.6 -.8l.6 .8l.7 -.8l.6 -1.2l.7 -.6l.6 1.9l.7 -1l.6 -1.3l.6 1.4l.7 2.1l.6 .7l.7 -.7l.6 .9l.6 -2.6l.7 .3l.6 -1.2l.7 .3l.6 3.6l.7 -1.8l.6 .3l.6 3l.7 -1l.6 -4.2l.7 2.8l.6 -2.6l.6 2.6l.7 -4.3l.6 1.4l.7 0l.6 4.4l.6 -5.7l.7 4.4l.6 -.1l.7 -1.4l.6 1.1l.7 2.6l.6 -3.5l.6 -.8l.7 2.5l.6 -.9l.7 -2.9l.6 2l.6 .2l.7 -2.2l.6 .3l.7 .4l.6 -.8l.6 2.6l.7 -.3l.6 -3.8l.7 2.7l.6 .8l.7 -2.2l.6 1.6l.6 .8l.7 -3l.6 2.1l.7 -3.1l.6 4.7l.6 -2.2l.7 -1.1l.6 -.6l.7 .3l.6 4.4l.6 -3.2l.7 .4l.6 .2l.7 -1.7l.6 3.4l.7 -4.9l.6 5.1l.6 -2.5l.7 1.2l.6 .4l.7 .8l.6 -3.1l.6 2.8l.7 -1.1l.6 -.1l.7 -.2l.6 2.1l.6 -1l.7 1.2l.6 -.5l.7 -4.4l.6 2.8l.7 1.7l.6 -2.9l.6 -1.2l.7 -.9l.6 6.4l.7 -4.4l.6 1.7l.6 -1.9l.7 2.2l.6 1.9l.7 -4.7l.6 2.1l.7 -1.1l.6 -1.7l.6 1.5l.7 1.4l.6 1.8l.7 0l.6 -2l.6 -2.4l.7 3.4l.6 -1l.7 0l.6 -1.7l.6 1.4l.7 3.2l.6 -.7l.7 -.3l.6 -1l.7 -1.6l.6 .6l.6 .2l.7 .3l.6 -1.1l.7 -.8l.6 2.9l.6 -2.2l.7 1.8l.6 -1.6l.7 1.3l.6 -.3l.6 .3l.7 -.1l.6 -2.5l.7 -.7l.6 1.9l.7 2.6l.6 -3.8l.6 -.2l.7 4.7l.6 -5.8l.7 1.4l.6 .2l.6 -.5l.7 0l.6 2.5l.7 -1.4l.6 -.1l.6 -2.8l.7 3.5l.6 -1l.7 -.2l.6 .9l.7 -.9l.6 -.6l.6 .5l.7 -1.9l.6 -.5l.7 -.9l.6 3.2l.6 -2.7l.7 .9l.6 1l.7 .6l.6 -3.8l.6 .2l.7 -.8l.6 -2.9l.7 .3l.6 3.8l.7 -5.4l.6 1.3l.6 -3l.7 -.3l.6 -2.6l.7 -3.7l.6 -4.5l.6 1.4l.7 -3.7l.6 -3.1l.7 -2.3l.6 -5.3l.7 -1.5l.6 -2.8l.6 -4.6l.7 -1.5l.6 .1l.7 -3.9l.6 4.3l.6 .6l.7 0l.6 2.3l.7 -.9l.6 5.5l.6 3.6l.7 2.5l.6 3.4l.7 1.4l.6 5.7l.7 .2l.6 2.9l.6 2.6l.7 -.8l.6 1.3l.7 4.4l.6 -1.6l.6 2.2l.7 3.5l.6 -2.2l.7 1l.6 .3l.6 .9l.7 4.9l.6 -1.6l.7 1l.6 -3.9l.7 -.4l.6 2l.6 3.5l.7 .4l.6 -4.5l.7 .4l.6 3.7l.6 -.5l.7 .3l.6 .4l.7 -2.4l.6 1.7l.6 -.5l.7 2.2l.6 -2.3l.7 -2.3l.6 4.6l.7 .8l.6 -1.3l.6 -1.9l.7 -1l.6 2.8l.7 -2.4l.6 1.4l.6 .2l.7 -1.5l.6 -3l.7 3.4l.6 -2.6l.6 -1.2l.7 1.8l.6 -.3l.7 -1l.6 .4l.7 -4.6l.6 2.7l.6 .4l.7 -3.7l.6 -1.9l.7 -1l.6 .5l.6 -3.8l.7 -2.6l.6 -3.2l.7 2.7l.6 -1.8l.7 -3.9l.6 1.5l.6 -5l.7 .6l.6 -3.7l.7 .3l.6 1.7l.6 1.4l.7 1.2l.6 -.8l.7 2.2l.6 2.4l.6 1.6l.7 2l.6 3.4l.7 2.3l.6 -2.7l.7 6.3l.6 -.2l.6 1.6l.7 1.2l.6 2l.7 .6l.6 -2.3l.6 4.2l.7 -2.2l.6 2.8l.7 .2l.6 -2.1l.6 2.7l.7 -.1l.6 -.3l.7 4.1l.6 -2.5l.7 -.5l.6 3.2l.6 -2.4l.7 0l.6 -2.6l.7 3.9l.6 .6l.6 1.4l.7 -4.1l.6 3.1l.7 .5l.6 -.9l.6 -1l.7 -2.3l.6 2.7l.7 -1.1l.6 -1.7l.7 3.4l.6 -1l.6 -.1l.7 3.2l.6 -3.6l.7 -2.2l.6 -.1l.6 4l.7 -1.1l.6 -.7l.7 -2l.6 1.9l.6 -.4l.7 1.5l.6 -1l.7 0l.6 1.2l.7 -1.1l.6 1.7l.6 -5.4l.7 3.1l.6 3.6l.7 -1.4l.6 -1.9l.6 1.3l.7 -.5l.6 .3l.7 2.6l.6 -2.6l.7 .9l.6 -1.5l.6 .2l.7 -1.2l.6 1.3l.7 .4l.6 .1l.6 .6l.7 .1l.6 .8l.7 -1.3l.6 2.2l.6 -1l.7 1.2l.6 -2.1l.7 1.9l.6 -1.6l.7 -2.5l.6 2.3l.6 -.2l.7 -1.8l.6 .7l.7 .5l.6 4.2l.6 -2.8l.7 2.1l.6 -1.2l.7 .2l.6 -.4l.6 -3.2l.7 3.9l.6 -3.2l.7 2.1l.6 -.8l.7 2.5l.6 -.6l.6 .9l.7 -1.9l.6 -.7l.7 1.1l.6 2.3l.6 -2.7l.7 -.6l.6 -1.8l.7 .7l.6 .9l.6 1.1l.7 -.1l.6 -1l.7 .3l.6 2l.7 .5l.6 -.9l.6 .4l.7 -.4l.6 .8l.7 -4.3l.6 1.1l.6 1l.7 .2l.6 1.4l.7 -4.5l.6 2.8l.6 .2l.7 -1.4l.6 .8l.7 1.6l.6 -.8l.7 -.8l.6 .5l.6 -.5l.7 1.5l.6 -1.4l.7 1.5l.6 -2.2l.6 .8l.7 -1.6l.6 1.3l.7 1.5l.6 -2.6l.7 .9l.6 .7l.6 -.7l.7 1.7l.6 -2.9l.7 2.9l.6 .7l.6 .5l.7 -2.5l.6 -1l.7 -1.1l.6 3.2l.6 .2l.7 -.8l.6 .1l.7 .5l.6 -1.5l.7 -1.5l.6 0l.6 .9l.7 -.2l.6 -.9l.7 1.6l.6 -.8l.6 2.3l.7 -1l.6 1.2l.7 -3l.6 .4l.6 -.7l.7 2.6l.6 4l.7 -4.1l.6 -.9l.7 .9l.6 -.3l.6 1.4l.7 -1.4l.6 -1.2l.7 -1.5l.6 3.2l.6 .9l.7 -1.2l.6 -1.5l.7 .7l.6 .1l.6 1.3l.7 -.9l.6 1.7l.7 -1.9l.6 -.7l.7 3.6l.6 -4.1l.6 .3l.7 4.1l.6 -2.6l.7 2.2l.6 -6.1l.6 5.3l.7 -1.8l.6 .2l.7 .5l.6 -4.6l.6 2.6l.7 1.9l.6 3.9l.7 -5.6l.6 4.4l.7 -2.4l.6 .5l.6 -2.8l.7 2.2l.6 -2.1l.7 -.5l.6 3.5l.6 -2.8l.7 .3l.6 1.7l.7 -2.2l.6 -.6l.7 2.1l.6 0l.6 1.8l.7 -3.8l.6 2.6l.7 0l.6 -1.6l.6 .3l.7 .3l.6 -1.5l.7 -.5l.6 2.9l.6 -2.5l.7 .1l.6 2.4l.7 -1.9l.6 .2l.7 -1.4l.6 .2l.6 -.3l.7 0l.6 3.7l.7 -3.2l.6 -1.9l.6 1.6l.7 2.6l.6 -2.7l.7 1.5l.6 -1.3l.6 -1.2l.7 1.6l.6 -.7l.7 1.7l.6 .7l.7 -1.2l.6 3.7l.6 -5.2l.7 3.3l.6 -1.4l.7 1.3l.6 -1.3l.6 -4.1l.7 2.7l.6 1.7l.7 -1.5l.6 -2.1l.6 .9l.7 1.1l.6 1l.7 -2.8l.6 .7l.7 -1.7l.6 -.8l.6 .6l.7 2.1l.6 -1.4l.7 -2.1l.6 -.4l.6 0l.7 -1.9l.6 -1.6l.7 -1.1l.6 -.1l.6 -3l.7 -.1l.6 -5.6l.7 -.5l.6 -1.7l.7 -.9l.6 -4.5l.6 -1.9l.7 -1.2l.6 -2.9l.7 -2.9l.6 -1.3l.6 -2.2l.7 1.6l.6 -.9l.7 .9l.6 2.9l.7 -.1l.6 .7l.6 1.3l.7 5.6l.6 -.4l.7 1.8l.6 4.5l.6 1.1l.7 1.2l.6 3.1l.7 4l.6 -.8l.6 1.9l.7 -.3l.6 1.8l.7 3.1l.6 -.4l.7 1.1l.6 2.2l.6 -1.4l.7 3.2l.6 -2.6l.7 .2l.6 .3l.6 -.6l.7 3.1l.6 -.5l.7 2.1l.6 -2.8l.6 2.2l.7 1l.6 -2.1l.7 .2l.6 -3.1l.7 6.3l.6 -2.8l.6 1.2l.7 -1.6l.6 1.2l.7 -2l.6 2.7l.6 -.8l.7 -.6l.6 1.1l.7 -3l.6 2.8l.6 -.9l.7 2.7l.6 -.9l.7 -1.3" fill="none" stroke="#f00" stroke-width="9" stroke-linejoin="round" stroke-linecap="butt"/>
<path clip-path="url(#cp3)" d="M330.5 1681.0l.6 3.4l.7 -11.8l.6 8.5l.7 4.7l.6 2.3l.6 -.8l.7 3.8l.6 -2.2l.7 2.1l.6 .3l.7 -2.3l.6 2.2l.6 5.3l.7 -1.2l.6 7.2l.7 1.7l.6 3l.6 -3.9l.7 5.6l.6 -5.5l.7 1.5l.6 3.9l.6 1.8l.7 -4.4l.6 .7l.7 7.3l.6 -2.5l.7 7.2l.6 -1.4l.6 .8l.7 .6l.6 3l.7 -2.1l.6 4.5l.6 -3.8l.7 1.7l.6 -.5l.7 4.5l.6 -.9l.6 -1.9l.7 9.2l.6 -6.3l.7 1.4l.6 2.1l.7 4.6l.6 -4.9l.6 3.1l.7 -1.1l.6 -4l.7 7.2l.6 1.3l.6 -3.1l.7 1.3l.6 -3.7l.7 .6l.6 3.9l.7 3.6l.6 -2.5l.6 2.9l.7 2.7l.6 -1.9l.7 2.1l.6 3.2l.6 -7.2l.7 6.5l.6 -7l.7 7.4l.6 0l.6 -1.5l.7 -1l.6 3.6l.7 -.4l.6 2.1l.7 -2.4l.6 4.8l.6 -4l.7 2.7l.6 .3l.7 5.3l.6 -7.4l.6 3.7l.7 5.1l.6 -4.8l.7 -1.1l.6 4.9l.6 -1.2l.7 3.8l.6 -4.6l.7 3.7l.6 1.8l.7 1.5l.6 -5.7l.6 7.7l.7 -6.2l.6 -1.3l.7 2l.6 3.6l.6 -.9l.7 2.6l.6 .5l.7 -.1l.6 -1.2l.6 6.3l.7 -11.1l.6 1.7l.7 3.9l.6 -1.8l.7 -3.4l.6 5.3l.6 .5l.7 -4.5l.6 9.6l.7 1.5l.6 .1l.6 -4.7l.7 2.2l.6 -3.4l.7 4l.6 -2.2l.6 3.3l.7 -1.9l.6 4.2l.7 -.4l.6 1.5l.7 -7.7l.6 -.3l.6 6.6l.7 -2.5l.6 3.2l.7 .1l.6 .1l.6 2.5l.7 -.6l.6 .2l.7 -3.4l.6 7.8l.7 -4l.6 3.2l.6 -1.8l.7 3.1l.6 -2.8l.7 .6l.6 .1l.6 -2.1l.7 .7l.6 1.5l.7 .3l.6 -2.1l.6 9.5l.7 -9l.6 2.1l.7 7.8l.6 -8.3l.7 4.1l.6 -.1l.6 -2.2l.7 -3.2l.6 -.1l.7 4.4l.6 1.3l.6 -6.9l.7 6.5l.6 -2.1l.7 4.3l.6 -1.9l.6 -2.6l.7 1.2l.6 1.3l.7 3.7l.6 4.7l.7 -7.3l.6 -.6l.6 1.7l.7 -1.8l.6 1.9l.7 -.6l.6 -.9l.6 -2.1l.7 2.7l.6 2.1l.7 -2.1l.6 4l.6 -1.4l.7 -2.8l.6 5.2l.7 -7.6l.6 6.4l.7 2l.6 -5.6l.6 .6l.7 3l.6 1.5l.7 -2.6l.6 -.4l.6 2l.7 -1.7l.6 -3.9l.7 2.9l.6 .6l.6 -4l.7 5.2l.6 -3l.7 4.1l.6 -6l.7 1.6l.6 -1.4l.6 7.4l.7 .1l.6 .5l.7 .1l.6 -1.5l.6 .1l.7 -7l.6 5.6l.7 -2.2l.6 .6l.7 -2.4l.6 7l.6 -3l.7 -4.3l.6 5.5l.7 -1.4l.6 -2.4l.6 2.1l.7 -1.1l.6 -4l.7 2.2l.6 5.6l.6 -.4l.7 -.1l.6 -3.8l.7 1.6l.6 1.8l.7 1.7l.6 -4.1l.6 -.5l.7 5.8l.6 -2.8l.7 -1.2l.6 -1l.6 .2l.7 6l.6 -1.7l.7 -3.6l.6 -2.3l.6 7.8l.7 -.3l.6 -.9l.7 -1l.6 -7.2l.7 1.5l.6 4.9l.6 -2.2l.7 1.5l.6 -2.1l.7 -.3l.6 3.2l.6 -2.4l.7 1.1l.6 .7l.7 0l.6 2.6l.6 .6l.7 -7.1l.6 2.9l.7 -.9l.6 3.8l.7 -4.7l.6 4.9l.6 -.1l.7 -.2l.6 -4l.7 2.1l.6 -2.1l.6 4l.7 1.6l.6 -6.3l.7 1.9l.6 1.9l.6 -.8l.7 5.4l.6 -4.1l.7 1.2l.6 -3.5l.7 7.1l.6 -3.5l.6 1.7l.7 -1.7l.6 -5.7l.7 1.4l.6 .9l.6 4.6l.7 -2.5l.6 2.5l.7 -.3l.6 0l.7 1.8l.6 -1.9l.6 -4.7l.7 2.6l.6 6.1l.7 -7l.6 6.4l.6 .8l.7 -5.8l.6 2.5l.7 -4.4l.6 5.8l.6 -3.9l.7 -1.3l.6 2.5l.7 0l.6 -.2l.7 2.2l.6 -.8l.6 -1.2l.7 4.3l.6 4l.7 -6l.6 -1.8l.6 -.6l.7 4.1l.6 -2.1l.7 .8l.6 -5.1l.6 2.3l.7 0l.6 5.5l.7 -3.1l.6 -5.6l.7 7.7l.6 1.7l.6 .5l.7 -10.5l.6 7.6l.7 1.8l.6 -.5l.6 -2.1l.7 -3.9l.6 3.5l.7 .4l.6 2.3l.6 .2l.7 -2.2l.6 2.9l.7 -4.8l.6 1l.7 1.7l.6 1.6l.6 -2.2l.7 4l.6 -2l.7 -3.4l.6 2.7l.6 -2.4l.7 -.2l.6 -1.1l.7 7.2l.6 -1.2l.6 -6.3l.7 6.9l.6 -.3l.7 -3.3l.6 2.2l.7 4.4l.6 -4.9l.6 .4l.7 1.8l.6 -5.4l.7 -.6l.6 -.3l.6 3.4l.7 2.4l.6 -4.4l.7 -1.2l.6 4l.7 -1.4l.6 2.5l.6 -1.8l.7 -.1l.6 .2l.7 .4l.6 -2.5l.6 -.4l.7 6.8l.6 3.8l.7 -4.9l.6 -6.9l.6 4.2l.7 2.9l.6 -7l.7 2.8l.6 .2l.7 -1.2l.6 .2l.6 4.6l.7 -3.7l.6 .5l.7 4.9l.6 -6.4l.6 -2.7l.7 6.4l.6 3.3l.7 -4.5l.6 .2l.6 -3.9l.7 .8l.6 6l.7 -.6l.6 -1.7l.7 -3l.6 -1.4l.6 .3l.7 -.3l.6 4.4l.7 -3.5l.6 .7l.6 2.9l.7 0l.6 -1.6l.7 1.1l.6 -1.2l.6 -4.8l.7 4.6l.6 -.9l.7 .2l.6 1.5l.7 -2l.6 4.3l.6 -3.4l.7 .8l.6 .3l.7 -1.3l.6 2l.6 .2l.7 -.4l.6 -3.4l.7 -.6l.6 .7l.6 1.4l.7 -4.7l.6 2.4l.7 -.9l.6 1.1l.7 -.7l.6 4.1l.6 -1l.7 1.1l.6 -4.9l.7 .4l.6 1l.6 4.7l.7 -.1l.6 -5.8l.7 2.9l.6 3.5l.7 -7.9l.6 1.8l.6 3.4l.7 -1.6l.6 -4.4l.7 5.8l.6 -1.5l.6 -1l.7 -5l.6 2.3l.7 3.3l.6 -2.3l.6 .3l.7 -2.9l.6 3.9l.7 -4.7l.6 2.3l.7 -1.9l.6 -3.7l.6 5.4l.7 -7.3l.6 .6l.7 1.4l.6 -4.5l.6 -1.9l.7 3.1l.6 -1.8l.7 -.9l.6 .5l.6 2.5l.7 -8.3l.6 4.6l.7 -7.9l.6 -4l.7 -10.1l.6 -1.8l.6 -1.2l.7 -5.9l.6 -11.1l.7 -6.4l.6 -9.1l.6 -15.6l.7 -16.1l.6 -13.5l.7 -14.8l.6 -16l.6 -16.7l.7 -21.9l.6 -14.4l.7 -15.2l.6 -10.3l.7 -3.9l.6 -.6l.6 .3l.7 9.1l.6 13.1l.7 16.3l.6 17.6l.6 18.3l.7 16.6l.6 15.2l.7 15.1l.6 16.8l.6 18l.7 6.4l.6 9.6l.7 7.3l.6 5.5l.7 10.7l.6 -.8l.6 2.3l.7 2.6l.6 6l.7 -.7l.6 2.1l.6 1.5l.7 .2l.6 4.6l.7 -3.4l.6 10.1l.7 -11.2l.6 3.9l.6 3.9l.7 1.3l.6 -1.3l.7 1.8l.6 .1l.6 .2l.7 1.3l.6 -.5l.7 -.6l.6 .1l.6 2.6l.7 -2.4l.6 1.9l.7 2.5l.6 -2.6l.7 2l.6 -3.7l.6 1.7l.7 .6l.6 -.6l.7 .7l.6 2.1l.6 -3.9l.7 -.8l.6 2.3l.7 -4.1l.6 3.4l.6 2.8l.7 -2.8l.6 1.3l.7 -.4l.6 1.9l.7 -1.6l.6 -.7l.6 -8.1l.7 6.5l.6 2.8l.7 -1.9l.6 -1.4l.6 3.8l.7 -4.1l.6 1.3l.7 2.3l.6 -2.7l.6 1.6l.7 -.5l.6 -2.7l.7 1.6l.6 .3l.7 -.6l.6 4l.6 -2.6l.7 -1.4l.6 -1.7l.7 2.4l.6 3.8l.6 -3.7l.7 2.4l.6 -.7l.7 -2.2l.6 -1l.6 3.4l.7 -5l.6 5.1l.7 -4l.6 4.7l.7 -2.9l.6 .7l.6 2.6l.7 -4.7l.6 2.3l.7 -.9l.6 1.9l.6 .4l.7 -1.1l.6 -.3l.7 -1.4l.6 2.2l.7 -2l.6 .7l.6 0l.7 -3.6l.6 .4l.7 3l.6 -.6l.6 2.7l.7 -8.4l.6 5.9l.7 1.9l.6 -2.3l.6 1.5l.7 -1.8l.6 -.2l.7 2.1l.6 -5l.7 -2.2l.6 6l.6 -.8l.7 -.1l.6 .3l.7 .7l.6 -2.5l.6 2l.7 -.4l.6 -3.4l.7 2.2l.6 .8l.6 -2.4l.7 3.9l.6 -3.1l.7 2.3l.6 1.3l.7 -6.7l.6 .1l.6 4.1l.7 -1.9l.6 1.3l.7 2.5l.6 -5.1l.6 2.8l.7 -2.7l.6 -1.1l.7 2.3l.6 -.7l.6 1.7l.7 -1.9l.6 1.1l.7 -.9l.6 -5l.7 2.8l.6 .1l.6 2.6l.7 -4.3l.6 2.8l.7 -1.3l.6 -3.1l.6 3.8l.7 1.8l.6 -2.2l.7 3l.6 -1.2l.6 0l.7 -1.8l.6 .9l.7 1.5l.6 -.9l.7 -2.7l.6 2.4l.6 1.4l.7 1.7l.6 -.6l.7 -3.8l.6 3.8l.6 -4.9l.7 2.2l.6 -.1l.7 5.3l.6 -1.7l.7 -.7l.6 -1.8l.6 4.2l.7 -3.1l.6 1.7l.7 1.5l.6 -3l.6 1.9l.7 -5.5l.6 5.6l.7 -4.9l.6 4.6l.6 -.3l.7 .4l.6 4.1l.7 -10.5l.6 6.4l.7 -1.9l.6 2.6l.6 -1l.7 -.5l.6 -1.3l.7 -.4l.6 2.3l.6 -4.1l.7 5.6l.6 -3.5l.7 2.2l.6 -3.6l.6 3.7l.7 -1.5l.6 2.2l.7 1l.6 -3.7l.7 1.4l.6 .4l.6 2.7l.7 -5.9l.6 4.2l.7 -1.2l.6 -2.5l.6 2l.7 -.7l.6 3.9l.7 -4.3l.6 4.3l.6 -3.1l.7 2.6l.6 -5.1l.7 2.2l.6 2.1l.7 -2.2l.6 -1.2l.6 3.5l.7 1.8l.6 -1.5l.7 -.4l.6 1.5l.6 -1.6l.7 3l.6 .5l.7 -5l.6 5.2l.6 -.7l.7 -.7l.6 1l.7 1.7l.6 1.2l.7 -.6l.6 -3.8l.6 3.5l.7 -6.3l.6 5.6l.7 -.3l.6 .7l.6 -3.9l.7 5.2l.6 -.3l.7 -2.1l.6 -3.4l.7 3.9l.6 -2.4l.6 -1.4l.7 1.9l.6 6.7l.7 -8.1l.6 2.6l.6 1.2l.7 1.7l.6 -4l.7 .1l.6 4.1l.6 -1.2l.7 2.2l.6 -5l.7 2.4l.6 2.3l.7 -1.6l.6 -2.5l.6 2.7l.7 -4.1l.6 2.5l.7 3.4l.6 .3l.6 -.9l.7 .8l.6 -4.6l.7 2l.6 3.7l.6 2.7l.7 -3.8l.6 -2.7l.7 0l.6 4.7l.7 -.2l.6 -4.7l.6 2.9l.7 2.7l.6 .2l.7 -4l.6 .8l.6 1.4l.7 -3.2l.6 -1l.7 2.1l.6 4l.6 -.2l.7 -1.2l.6 -3.4l.7 -1.6l.6 2l.7 2.3l.6 2.1l.6 -4l.7 2l.6 -3.8l.7 -.7l.6 4.4l.6 -2.4l.7 .3l.6 -2.6l.7 6.5l.6 -5.5l.6 3.8l.7 -3.1l.6 2.3l.7 3.6l.6 -2.3l.7 -.3l.6 1.6l.6 -.8l.7 1.8l.6 -6l.7 5.9l.6 -2.7l.6 -2.4l.7 3.4l.6 -.2l.7 -1.2l.6 1.8l.7 -4.6l.6 -.8l.6 2.2l.7 3.4l.6 -1.3l.7 -1.2l.6 -1.4l.6 1.1l.7 2.3l.6 -3.7l.7 -.3l.6 1.9l.6 .3l.7 -1.3l.6 2.4l.7 -2.8l.6 -2.7l.7 -2.9l.6 6.6l.6 -3.2l.7 .6l.6 -.2l.7 1.4l.6 -1.1l.6 -.6l.7 -2l.6 -1.7l.7 .5l.6 -2.9l.6 1.8l.7 .8l.6 -1.3l.7 -1.8l.6 -2.7l.7 -.6l.6 -.2l.6 .1l.7 1.3l.6 -.3l.7 -.1l.6 .6l.6 -4.2l.7 1.5l.6 1.4l.7 .6l.6 -3l.6 0l.7 3.8l.6 -1l.7 -.5l.6 -1.6l.7 -1.5l.6 1.5l.6 .3l.7 -.2l.6 .1l.7 -2.4l.6 1.2l.6 -4.5l.7 -.1l.6 -2.2l.7 -5.5l.6 -1l.6 -.6l.7 -.8l.6 -1.8l.7 -.2l.6 -4.6l.7 -2.2l.6 0l.6 -3.8l.7 1.9l.6 -1.2l.7 3.1l.6 -.1l.6 2.3l.7 6.6l.6 .4l.7 4.9l.6 -2.6l.7 1.1l.6 .5l.6 3.1l.7 -2l.6 4.9l.7 -.3l.6 -.7l.6 -.2l.7 2.4l.6 1.4l.7 1.1l.6 -2.8l.6 3.4l.7 .9l.6 4.1l.7 -3.4l.6 1.4l.7 -2.9l.6 1.8l.6 -.9l.7 .3l.6 3.2l.7 -.8l.6 4.1l.6 -2.3l.7 1.6l.6 -2.5l.7 1.1l.6 4l.6 -2l.7 4.5l.6 -3.5l.7 .5l.6 6.2l.7 -6.6l.6 2.8l.6 2.6l.7 .6l.6 -3l.7 6.9l.6 -4.8l.6 -2.5l.7 5.9l.6 -2.5l.7 1.3l.6 1.6l.6 -3.1l.7 .6l.6 1.3l.7 2l.6 -4.1l.7 5.5l.6 -2l.6 -2.8l.7 2.4l.6 1.1l.7 1.4l.6 -.6l.6 .6l.7 -2.3l.6 1.8l.7 -6.5l.6 7.2l.6 -1.9l.7 3.3l.6 -4.2l.7 .3l.6 1.1l.7 1.6l.6 -.9l.6 1.5l.7 -1.9l.6 2l.7 3.5l.6 -3l.6 -1.3l.7 -4l.6 4l.7 .9l.6 -2.5l.7 2.3l.6 -6.3l.6 2.9l.7 -.5l.6 2.7l.7 -2.6l.6 -.3l.6 4.7l.7 -5.7l.6 3.7l.7 1.2l.6 -2.6l.6 -1.2l.7 1.4l.6 -.7l.7 -.4l.6 2l.7 -.5l.6 6.1l.6 -3.4l.7 -2.1l.6 .8l.7 2.2l.6 -1l.6 -2.1l.7 -1.5l.6 4.9l.7 -3.4l.6 .6l.6 2.2l.7 -2.2l.6 2.2l.7 -3l.6 .9l.7 -.6l.6 4.4l.6 -6.7l.7 2.5l.6 -1.3l.7 .3l.6 -1l.6 1l.7 3.9l.6 .5l.7 -3.9l.6 -1.1l.6 1.5l.7 4.1l.6 -3.2l.7 -3.9l.6 5.7l.7 -1.8l.6 1.5l.6 -.4l.7 -3.2l.6 4.4l.7 -.6l.6 -2.5l.6 -3l.7 2.2l.6 0l.7 3.5l.6 -2.3l.6 .3l.7 .9l.6 -.8l.7 1.6l.6 -.1l.7 1.2l.6 -4.1l.6 3.1l.7 -1.2l.6 4.6l.7 -1.2l.6 -3.5l.6 2.6l.7 -5.1l.6 1.4l.7 1.5l.6 1.1l.7 -2.6l.6 2.2l.6 2.4l.7 -5.4l.6 .6l.7 -1l.6 5.9l.6 -4.1l.7 1.4l.6 -.9l.7 1.6l.6 -.4l.6 1.1l.7 .1l.6 2.8l.7 -4.7l.6 2.2l.7 -.4l.6 -1.5l.6 3.4l.7 1.9l.6 -5.4l.7 6.7l.6 -4.8l.6 .2l.7 -4.7l.6 5.1l.7 -.3l.6 -.2l.6 1.8l.7 -1.6l.6 1.1l.7 -1.8l.6 -.9l.7 2.4l.6 1l.6 .3l.7 -1.1l.6 -1.5l.7 1.6l.6 -.4l.6 -1.8l.7 3.1l.6 -.8l.7 -1.5l.6 1.6l.6 1.8l.7 1.9l.6 -6.1l.7 2.9l.6 1.8l.7 1.3l.6 -1.3l.6 -2.5l.7 1l.6 .9l.7 -1.3l.6 -.5l.6 -.4l.7 7.2l.6 -4.7l.7 -.5l.6 1.8l.6 -1.2l.7 -.3l.6 .7l.7 -1.9l.6 .7l.7 2.5l.6 -.6l.6 -3.1l.7 4.8l.6 -3.5l.7 -2.1l.6 4.2l.6 0l.7 -.6l.6 -2.3l.7 4l.6 -1.2l.7 -.2l.6 -.2l.6 .3l.7 3.5l.6 -5l.7 1.6l.6 1.6l.6 -.6l.7 -2.8l.6 1.3l.7 -.4l.6 -2l.6 2.4l.7 2.2l.6 -1.2l.7 1.5l.6 -1.2l.7 -2l.6 2.3l.6 -4.1l.7 5.5l.6 -3l.7 3.8l.6 -5.5l.6 .7l.7 1l.6 .4l.7 -2.4l.6 .6l.6 3.2l.7 -2.4l.6 3.1l.7 1.4l.6 -5.7l.7 2l.6 3.9l.6 -1.2l.7 -4.4l.6 3.1l.7 2.3l.6 -6.9l.6 4.5l.7 1.3l.6 -2.9l.7 -.3l.6 2.5l.6 -4.3l.7 3.8l.6 1.2l.7 -2.2l.6 -3.1l.7 5.7l.6 -3.1l.6 1l.7 -2.8l.6 1.3l.7 1.9l.6 -4.9l.6 0l.7 -1.6l.6 4.2l.7 -.3l.6 -2.9l.6 1.7l.7 -1.2l.6 2.7l.7 -6.5l.6 1.6l.7 -2.4l.6 2.8l.6 -4l.7 -4.7l.6 1l.7 -3.3l.6 -3.9l.6 -.2l.7 -3.4l.6 -5.6l.7 -2.1l.6 -.6l.7 -3.9l.6 -5.7l.6 -4l.7 -2.2l.6 -3.8l.7 -4.4l.6 1.5l.6 -3.6l.7 4l.6 -.8l.7 1.9l.6 .5l.6 3.9l.7 2l.6 3.9l.7 2.7l.6 8.1l.7 -.9l.6 8.6l.6 1.7l.7 .1l.6 6.9l.7 1l.6 .2l.6 4.1l.7 .8l.6 .9l.7 2.8l.6 1.9l.6 0l.7 1.5l.6 2.4l.7 -.9l.6 .2l.7 -1.1l.6 2.7l.6 -.2l.7 .8l.6 2.2l.7 .4l.6 -1.2l.6 -.8l.7 1.5l.6 .6l.7 .1l.6 -2.8l.6 3.3l.7 -2.2l.6 2.5l.7 .4l.6 -.3l.7 2l.6 -2l.6 .7l.7 -2l.6 1.5l.7 -.1l.6 .7l.6 -.3l.7 -3.7l.6 5.6l.7 0l.6 -4.8l.6 4.3l.7 1.4l.6 -.4l.7 .1l.6 -1.4l.7 -.5l.6 4.4l.6 -2.5l.7 2.3l.6 -2.9l.7 1.8l.6 0l.6 0l.7 -3.4l.6 6.4l.7 -3.5l.6 -1l.7 1.1l.6 -3.5l.6 5.6l.7 -3l.6 1.2l.7 -.1l.6 -3.3l.6 2.6l.7 2.8l.6 -3.5l.7 1.8l.6 1.3l.6 1l.7 -4.2l.6 3.2l.7 -.8l.6 -.3l.7 .6l.6 -.5l.6 -3l.7 2.5l.6 -1.9l.7 1.7l.6 -1.3l.6 3.3l.7 -1l.6 -.7l.7 -2l.6 1.9l.6 -2.7l.7 .4l.6 -1.4l.7 4.4l.6 -2.3l.7 2.4l.6 .4l.6 -.2l.7 -2.5l.6 3.2l.7 -.5l.6 -4.2l.6 2.8l.7 -2l.6 1.2l.7 2.2l.6 -1.5l.6 2.2l.7 -1.7l.6 .2l.7 1.6l.6 -.8l.7 -.7l.6 .9l.6 -.2l.7 -4.5l.6 .6l.7 1.9l.6 1.7l.6 -3.1l.7 -1.6l.6 2.8l.7 -.9l.6 3.5l.6 -6.5l.7 5.4l.6 -.2l.7 -5.7l.6 2.9l.7 1.3l.6 1l.6 -.5l.7 1l.6 -.7l.7 -1.7l.6 4.1l.6 -2.3l.7 -2l.6 2.2l.7 -1l.6 -.6l.7 -.4l.6 -1.4l.6 .9l.7 -.7l.6 -1.2l.7 4.1l.6 -.4l.6 -.9l.7 -1.6l.6 .4l.7 3.9l.6 -4.2l.6 2.8l.7 -1l.6 .2l.7 -1.8l.6 .2l.7 .1l.6 -1.9l.6 3.9l.7 -4l.6 1.4l.7 2.3l.6 -.9l.6 -3.9l.7 1.4l.6 .3l.7 -5.7l.6 6.1l.6 -3.3l.7 -2.3l.6 -.6l.7 -4.6l.6 3.8l.7 .2l.6 -4.2l.6 1.6l.7 -3.1l.6 -4.9l.7 1.6l.6 -6l.6 -1.5l.7 2.6l.6 -1.8l.7 -2.7l.6 -1.4l.6 -3.7l.7 3.2l.6 -2.5l.7 -.8l.6 6.1l.7 -5.5l.6 -.1l.6 4.1l.7 -2l.6 -.3l.7 4.4l.6 -1.6l.6 .1l.7 1.9l.6 1.6l.7 2.5l.6 1.4l.6 -3.4l.7 4.6l.6 -2.8l.7 .5l.6 -3.6l.7 6.9l.6 -2.1l.6 -1.8l.7 -.6l.6 1.1l.7 -2.5l.6 -6l.6 4.3l.7 -1.6l.6 -.8l.7 -1.1l.6 .4l.7 -3.3l.6 4.5l.6 -3.9l.7 -1.3l.6 1.7l.7 -2.4l.6 3.5l.6 .2l.7 1l.6 4.4l.7 .8l.6 -.4l.6 2.2l.7 3.3l.6 4.9l.7 -2.4l.6 1.5l.7 2.5l.6 -1.5l.6 3.2l.7 2.6l.6 .6l.7 .9l.6 -1.6l.6 2.9l.7 3.1l.6 2.8l.7 -2.2l.6 -1.9l.6 .7l.7 .9l.6 4.2l.7 -5.3l.6 2.2l.7 -2.1l.6 2.3l.6 .5l.7 2.2l.6 .1l.7 -.8l.6 -.6l.6 -.1l.7 3.6l.6 -2.8l.7 -1.5l.6 .8l.6 1.4l.7 -1.2l.6 -1.2l.7 4.2l.6 -2.5l.7 1l.6 .5l.6 -.5l.7 .2l.6 -3.8l.7 4.4l.6 -.4l.6 -.2l.7 .7l.6 3.8l.7 -.8l.6 -1.4l.6 1.4l.7 -3.2l.6 .7l.7 1l.6 .8l.7 -.1l.6 1.7l.6 -3.1l.7 2.5l.6 -3.1l.7 2l.6 -2.4l.6 3.6l.7 -2.8l.6 3.1l.7 -5.2l.6 6.1l.7 -2.9l.6 .8l.6 -.1l.7 -3.2l.6 1.8l.7 .1l.6 .9l.6 -2.3l.7 1.5l.6 1.2l.7 1.8l.6 -.6l.6 -3l.7 3.4l.6 1.2l.7 -1.3l.6 -1.7l.7 -.8l.6 .8l.6 3.4l.7 -4.2l.6 -2.3l.7 5.5l.6 -2.5l.6 1l.7 -.4l.6 2.4l.7 -2.3l.6 -.5l.6 0l.7 4.1l.6 -.3l.7 -3l.6 -.1l.7 .7l.6 1.1l.6 -2.2l.7 3.9l.6 -1.9l.7 -4.6l.6 2.6l.6 1.2l.7 4.4l.6 -1.2l.7 -2.2l.6 -2.1l.6 1.8l.7 .2l.6 -.7l.7 1l.6 .9l.7 -1.8l.6 -1l.6 2.1l.7 -2.7l.6 1.8l.7 2.6l.6 -1.5l.6 -2.2l.7 1.8l.6 -.3l.7 .6l.6 1.5l.6 -2.4l.7 -1.2l.6 4.5l.7 -3.8l.6 2.3l.7 -.3l.6 -1.1l.6 1.4l.7 -.3l.6 -.3l.7 1l.6 -2.3l.6 2.6l.7 -2.8l.6 2.9l.7 .5l.6 -3.3l.7 4.4l.6 -4.1l.6 .9l.7 -1.2l.6 .8l.7 .6l.6 -1.1l.6 2.5l.7 -2.8l.6 1.8l.7 -2.2l.6 .2l.6 1.6l.7 .3l.6 -1l.7 1l.6 .3l.7 -1.8l.6 1.1l.6 -1.4l.7 -.7l.6 1.1l.7 .6l.6 2.2l.6 -1l.7 -.7l.6 -3.5l.7 1.9l.6 2.2l.6 .2l.7 -.9l.6 -1.9l.7 -1.2l.6 .5l.7 2.8l.6 .4l.6 2.1l.7 -3.8l.6 1.5l.7 -1.7l.6 .9l.6 .4l.7 -1l.6 3l.7 -3.9l.6 2.9l.6 -1.6l.7 -.4l.6 2.3l.7 -2.5l.6 1.3l.7 -.5l.6 1l.6 -3l.7 2.2l.6 .3l.7 -1.9l.6 -.6l.6 -.1l.7 1.4l.6 -1.3l.7 1.9l.6 -1.2l.6 -.3l.7 .1l.6 0l.7 -.2l.6 .4l.7 .6l.6 -1.4l.6 -.2l.7 1.1l.6 -.4l.7 -2.7l.6 -2.2l.6 2.8l.7 -3.6l.6 -.6l.7 -.8l.6 -.1l.7 -3.8l.6 1.9l.6 1.6l.7 1.2l.6 -4.2l.7 -.5l.6 -.9l.6 -3.3l.7 -1.7l.6 .9l.7 .1l.6 -2.5l.6 -.6l.7 -1.4l.6 -.9l.7 -1.2l.6 2l.7 -.7l.6 -1.5l.6 .7l.7 .8l.6 1.2l.7 1.9l.6 .4l.6 -1.7l.7 1.3l.6 .3l.7 2.6l.6 1.6l.6 -3l.7 3.7l.6 3.1l.7 -3.2l.6 5.4l.7 .4l.6 -1.5l.6 .1l.7 4.9l.6 -2.4l.7 -.6l.6 2.7l.6 -1.5l.7 1.1l.6 4.6l.7 -2.8l.6 .9l.6 -1.9l.7 1.6l.6 3.1l.7 -.6l.6 1.2l.7 .1l.6 -.9l.6 -.7l.7 -2.4l.6 5l.7 -1.3l.6 3.8l.6 -3.9l.7 .1l.6 -.4l.7 -1l.6 1.9l.6 .6l.7 -.1l.6 -.7l.7 -.6l.6 2.9l.7 -.2l.6 -2.3l.6 -.9l.7 1l.6 0l.7 2.6l.6 -2.7l.6 1.9l.7 -2l.6 1.4l.7 4.1l.6 -4.8l.7 1.6l.6 -1.2l.6 2.4l.7 -1.1l.6 -.5l.7 2.2l.6 -.9l.6 -.2l.7 -2.6l.6 .4l.7 3.5l.6 -3.8l.6 4.1l.7 0l.6 -2.6l.7 -.9l.6 -.6l.7 3l.6 -.3l.6 -1.9l.7 -.4l.6 2.3l.7 -1.6l.6 .9l.6 -2.1l.7 2.8l.6 -.4l.7 -.8l.6 -1l.6 1.6l.7 .7l.6 .1l.7 -.4l.6 -1.2l.7 2l.6 .8l.6 -2.5l.7 -.9l.6 3.9l.7 -1.8l.6 -3l.6 4l.7 -1l.6 -1.2l.7 1.1l.6 -1.6l.6 .3l.7 -1.1l.6 4l.7 -2.4l.6 1.1l.7 .2l.6 -4.2l.6 4l.7 -1.9l.6 3.4l.7 -3.5l.6 3l.6 1.2l.7 -2l.6 1.1l.7 .5l.6 -1.6l.6 -.6l.7 -1.7l.6 4.7l.7 -1.1l.6 -.5l.7 -3.4l.6 4l.6 -2.1l.7 .8l.6 .3l.7 1.1l.6 -2l.6 -.6l.7 1.8l.6 -.4l.7 -1.3l.6 3.9l.7 -1.4l.6 -3.9l.6 -.9l.7 .4l.6 2.1l.7 1.2l.6 1.8l.6 -2.2l.7 -1.2l.6 1.1l.7 -.1l.6 -1.4l.6 1.5l.7 -2.9l.6 2.1l.7 1.1l.6 -.9l.7 1l.6 .7l.6 -.7l.7 .1l.6 0l.7 -1.3l.6 1.7l.6 -1.1l.7 -1.7l.6 2.6l.7 -1.4l.6 -4.3l.6 6.6l.7 -2.3l.6 -1.2l.7 2l.6 -.6l.7 -.2l.6 1.9l.6 -.9l.7 -2.1l.6 -.7l.7 -1l.6 2.2l.6 -.7l.7 1.1l.6 -1.4l.7 .4l.6 .6l.6 -2.9l.7 -1l.6 .9l.7 -2.1l.6 1l.7 -.5l.6 1.8l.6 -2.9l.7 1.6l.6 -2.7l.7 0l.6 -1.1l.6 .1l.7 -1.1l.6 -1l.7 -.6l.6 2.8l.6 -1.2l.7 2l.6 -.1l.7 -3.3l.6 4.2l.7 -2.9l.6 -1.2l.6 .9l.7 1.3l.6 -2.1l.7 4.4l.6 -.7l.6 1.8l.7 0l.6 .3l.7 1l.6 .1l.7 -2.3l.6 4.3l.6 -2.5l.7 .9l.6 1.1l.7 -1.8l.6 .3l.6 -1.7l.7 3.4l.6 0l.7 -1.6l.6 -.6l.6 -2.6l.7 4l.6 -2.2l.7 .4l.6 -.2l.7 -.3l.6 .3l.6 .2l.7 -1l.6 -2.1l.7 .9l.6 -.5l.6 -1.6l.7 .5l.6 1.1l.7 -.5l.6 -.7l.6 -.1l.7 -3.5l.6 2.6l.7 1.7l.6 -2.3l.7 .2l.6 -.3l.6 1.7l.7 -.1l.6 -.8l.7 1.9l.6 .4l.6 1l.7 .6l.6 -1l.7 2l.6 -.1l.6 .4l.7 0l.6 1l.7 -.5l.6 -.2l.7 3.2l.6 -2.8l.6 2.2l.7 1l.6 -.5l.7 -.5l.6 .4l.6 -1.6l.7 2.6l.6 -1.4l.7 1.2l.6 -.8l.6 2.5l.7 -1.5l.6 .5l.7 2l.6 -3l.7 1l.6 -2.5l.6 2.4l.7 -.1l.6 -.2l.7 1.7l.6 1.1l.6 -.8l.7 -.1l.6 .4l.7 -2l.6 -.3l.7 1.4l.6 1.9l.6 -2.9l.7 -1.2l.6 2l.7 1.2l.6 -.4l.6 -.3l.7 -.7l.6 1.1l.7 -1.4l.6 2.1l.6 .1l.7 -.6l.6 1.5l.7 .5l.6 -4.1l.7 .8l.6 -1l.6 -.9l.7 .7l.6 1.2l.7 .9l.6 -.2l.6 -3.8l.7 3.2l.6 -1.4l.7 2.3l.6 -1.9l.6 2.3l.7 1l.6 .2l.7 -2.7l.6 .6l.7 -.7l.6 .3l.6 2.3l.7 -4.5l.6 1.5l.7 .9l.6 -.8l.6 -.8l.7 2.8l.6 -1.5l.7 -.4l.6 -1.2l.6 1.5l.7 1.4l.6 -1.4l.7 1.6l.6 -1.9l.7 -.7l.6 1.1l.6 -1.2l.7 -.8l.6 2.6l.7 .5l.6 .9l.6 -4.6l.7 3.5l.6 -.4l.7 -.7l.6 .4l.6 .1l.7 -.2l.6 -.1l.7 -1.1l.6 2.4l.7 -2.3l.6 1.2l.6 -1.9l.7 .2l.6 -.2l.7 .2l.6 1.3l.6 -3.9l.7 3.3l.6 -2.7l.7 3.3l.6 -4.2l.7 1.2l.6 .3l.6 -3.2l.7 1.7l.6 -.3l.7 0l.6 -1.1l.6 -1.5l.7 -1.5l.6 1.2l.7 -.3l.6 -.4l.6 1l.7 -1.4l.6 -2.8l.7 .6l.6 1.9l.7 -1.1l.6 -1.1l.6 -1.1l.7 1.3l.6 -2.8l.7 -.3l.6 1.8l.6 -4l.7 3.4l.6 -2.2l.7 .8l.6 -1.1l.6 -1.9l.7 2.8l.6 -1.2l.7 .8l.6 .9l.7 -.1l.6 .3l.6 1l.7 -2.2l.6 4.8l.7 -4l.6 2.2l.6 .7l.7 -.1l.6 2.1l.7 -1l.6 1.2l.6 3.8l.7 -3.3l.6 4l.7 -4.1l.6 2.9l.7 0l.6 1.1l.6 -3.3l.7 .8l.6 3.7l.7 .7l.6 .1l.6 -1l.7 1.5l.6 .2l.7 -.9l.6 3.3l.6 -2.1l.7 -.3l.6 1.3l.7 -.7l.6 1l.7 -1.3l.6 .3l.6 .5l.7 2.1l.6 -1.4l.7 2.4l.6 0l.6 -2.4l.7 .2l.6 2.1l.7 -1.7l.6 0l.7 2.7l.6 -.5l.6 -.8l.7 -2.8l.6 2.4l.7 -2.2l.6 2.4l.6 .2l.7 1.9l.6 -3.8l.7 1.9l.6 .2l.6 .2l.7 .2l.6 .8l.7 -.8l.6 -1.1l.7 .3l.6 1.6l.6 -1.7l.7 -2l.6 .5l.7 .5l.6 -.1l.6 1.9l.7 0l.6 -2.4l.7 .9l.6 1.8l.6 0l.7 -.6l.6 2.8l.7 -3.7l.6 2.5l.7 -1.1l.6 -2.8l.6 1.2l.7 1.4l.6 -1l.7 .5l.6 .3l.6 .6l.7 -.8l.6 1.2l.7 -1l.6 -1l.6 .7l.7 -1l.6 2.5l.7 -2.7l.6 1.1l.7 .2l.6 1.1l.6 1.1l.7 -3.1l.6 1l.7 -.2l.6 -.3l.6 -1.1l.7 2.2l.6 -2.4l.7 4.1l.6 -.8l.6 .3l.7 1l.6 -2.4l.7 -.7l.6 -1.4l.7 3.6l.6 -.4l.6 -1.5l.7 -.7l.6 1.7l.7 -.1l.6 -1.7l.6 3.2l.7 -2.4l.6 1.3l.7 -2.9l.6 .9l.7 1.5l.6 -1.4l.6 3.4l.7 -4.5l.6 1.7l.7 -1.6l.6 1.8l.6 2l.7 -1.2l.6 -.6l.7 1.8l.6 -3.4l.6 .4l.7 -.4l.6 3.2l.7 -3.3l.6 3.6l.7 -2.5l.6 .6l.6 -.1l.7 1.4l.6 -1.6l.7 .3l.6 0l.6 .2l.7 -1l.6 1.2l.7 -1.3l.6 1.9l.6 -1.3l.7 2.3l.6 -3.3l.7 1.8l.6 -.3l.7 2.2l.6 -1.5l.6 -.8l.7 0l.6 -.6l.7 3.2l.6 .1l.6 -2.6l.7 -.8l.6 1.4l.7 .3l.6 -1.9l.6 .6l.7 -.2l.6 .3l.7 .9l.6 -1.8l.7 -1l.6 4.6l.6 -2.9l.7 1l.6 -1.2l.7 .8l.6 .1l.6 -.5l.7 3.1l.6 -2.2l.7 -1.2l.6 .5l.6 -.1l.7 -.3l.6 1.5l.7 -.1l.6 -1.3l.7 .3l.6 -1.8l.6 2l.7 -.8l.6 -.9l.7 .6l.6 2l.6 -2.9l.7 .1l.6 1.4l.7 0l.6 -.8l.7 -1.1l.6 .4l.6 2.9l.7 -4l.6 1.7l.7 .7l.6 -.3l.6 1.7l.7 -2.3l.6 -1.1l.7 -.5l.6 .3l.6 1.7l.7 -3l.6 1.4l.7 -1.5l.6 .6l.7 2.2l.6 -2.2l.6 0l.7 -1.4l.6 -1.4l.7 .5l.6 .2l.6 .1l.7 -2.5l.6 1.8l.7 1.5l.6 -2.5l.6 1.1l.7 -.9l.6 -.6l.7 -.5l.6 .8l.7 .8l.6 -4.2l.6 2.9l.7 -1.8l.6 .6l.7 .6l.6 -1.2l.6 1.9l.7 -1.1l.6 -1.7l.7 1.3l.6 -2.6l.6 1.9l.7 -.8l.6 -.2l.7 2.2l.6 -.7l.7 -.7l.6 1.2l.6 -.2l.7 .2l.6 -1.4l.7 1.5l.6 1.5l.6 .1l.7 0l.6 -1l.7 .7l.6 -1.5l.6 1.9l.7 2.8l.6 .9l.7 -1.5l.6 .2l.7 -1.3l.6 2.1l.6 -.6l.7 3.3l.6 -1.6l.7 -.4l.6 -1.4l.6 3.6l.7 -1.3l.6 2.4l.7 -1.3l.6 -.8l.7 1.2l.6 .3l.6 -1.4l.7 2.3l.6 .8l.7 -2.8l.6 -1.7l.6 3.6l.7 -.6l.6 0l.7 -1l.6 2.8l.6 -3.9l.7 3.8l.6 -1.9l.7 -1.7l.6 1.5l.7 .9l.6 2.4l.6 -.9l.7 -1.4l.6 .2l.7 1.5l.6 -.5l.6 1.6l.7 -3.2l.6 1.3l.7 -1.1l.6 .8l.6 -1.7l.7 1.7l.6 -1.6l.7 2l.6 1.3l.7 -1.4l.6 0l.6 -.3l.7 -1.4l.6 .8l.7 .3l.6 -.6l.6 2.3l.7 -3.2l.6 .9l.7 .2l.6 .7l.6 -.9l.7 -.3l.6 .2l.7 .6l.6 -.8l.7 2.8l.6 -1.2l.6 1.4l.7 -2l.6 1.3l.7 -.7l.6 .3l.6 1.5l.7 -.9l.6 -.5l.7 -.4l.6 -1.7l.6 1.6l.7 -.4l.6 2.7l.7 -2.5l.6 .7l.7 -.3l.6 -.5l.6 1.8l.7 -2.3l.6 1.8l.7 -2.6l.6 1.4l.6 2.4l.7 -2l.6 .5l.7 .1l.6 -.3l.7 -2.8l.6 1.1l.6 2.7l.7 -.8l.6 -1.7l.7 .1l.6 2.7l.6 -1.8l.7 .3l.6 -.2l.7 -.4l.6 1.2l.6 .2l.7 -.8l.6 .2l.7 -.8l.6 2.3l.7 -3l.6 1.9l.6 .4l.7 .5l.6 -1.1l.7 .5l.6 -.8l.6 -.6l.7 1l.6 .9l.7 -.3l.6 -2l.6 1.3l.7 1.3l.6 -.9l.7 1.1l.6 -1.4l.7 -.3l.6 -3.3l.6 4.9l.7 -3.1l.6 1.2l.7 -.5l.6 .3l.6 1.6l.7 -2.5l.6 2l.7 -1.6l.6 1.2l.6 .5l.7 -.7l.6 -.1l.7 .2l.6 0l.7 .8l.6 -.2l.6 -.8l.7 2.7l.6 -3l.7 2.6l.6 -2.1l.6 1.6l.7 -.3l.6 -1.4l.7 1.2l.6 1.3l.6 -3.8l.7 .3l.6 .5l.7 2.7l.6 -1.3l.7 -1.2l.6 .5l.6 .5l.7 -1.1l.6 .5l.7 .4l.6 .4l.6 .5l.7 -1.4l.6 .2l.7 -1l.6 1.1l.7 .3l.6 -.2l.6 .5l.7 -1.5l.6 2.2l.7 -.9l.6 1l.6 -2.2l.7 .8l.6 .3l.7 -.7l.6 1.7l.6 -1.1l.7 -1.3l.6 2.3l.7 -1.6l.6 1l.7 .5l.6 -1.8l.6 2.4l.7 -.6l.6 -2.3l.7 2.7l.6 -2l.6 .1l.7 2.4l.6 -3l.7 -1.2l.6 2.8l.6 -.4l.7 -.7l.6 1.9l.7 -2.5l.6 .6l.7 1.7l.6 -1.5l.6 -.2l.7 .6l.6 -.9l.7 0l.6 1.2l.6 -.4l.7 .3l.6 -.6l.7 1l.6 .2l.6 .4l.7 -1.4l.6 0l.7 -.5" fill="none" stroke="#000" stroke-width="9" stroke-linejoin="round" stroke-linecap="butt"/>
<path clip-path="url(#cp3)" d="M330.5 1739.1l.6 3.1l.7 .4l.6 -.4l.7 2.2l.6 -.4l.6 3.6l.7 4.1l.6 -4l.7 .4l.6 3.5l.7 .3l.6 -.1l.6 -2.1l.7 2.9l.6 2.4l.7 -4.8l.6 2.9l.6 -3.1l.7 2.1l.6 -.7l.7 4.7l.6 -2l.6 4.6l.7 .4l.6 -.2l.7 -5.4l.6 5.7l.7 1.9l.6 1l.6 -3.6l.7 3.3l.6 -.7l.7 1l.6 5.3l.6 -4.3l.7 2.5l.6 2.7l.7 -3.3l.6 1.6l.6 1l.7 .2l.6 -3l.7 3.7l.6 3.5l.7 -7l.6 6.4l.6 -1.6l.7 -1.6l.6 6.9l.7 -2.8l.6 -4.6l.6 3.5l.7 1.6l.6 -1.6l.7 2.6l.6 -1.5l.7 2.3l.6 2.4l.6 -4.9l.7 2.7l.6 -1.1l.7 2l.6 -2.8l.6 2.1l.7 1.4l.6 3.3l.7 1.1l.6 -5.7l.6 1.8l.7 4l.6 -6.2l.7 4.2l.6 1.2l.7 3.6l.6 -1.1l.6 -2.3l.7 .1l.6 .5l.7 4.5l.6 -4.6l.6 .5l.7 1.8l.6 -1l.7 -.1l.6 -2.1l.6 2.9l.7 -.8l.6 4.2l.7 -1.1l.6 -1.4l.7 1.9l.6 -2.2l.6 3.8l.7 -2.2l.6 1.8l.7 -4.1l.6 4.4l.6 -4.5l.7 -.4l.6 4.8l.7 -1l.6 3l.6 5.6l.7 -7.1l.6 .9l.7 2.4l.6 1l.7 -1.4l.6 .2l.6 2.4l.7 -.3l.6 -3.6l.7 2.5l.6 .4l.6 -2.4l.7 3.3l.6 -2.6l.7 4.6l.6 -1.8l.6 -.1l.7 -1.5l.6 1.2l.7 -4.4l.6 2.2l.7 3.7l.6 -5.9l.6 7.3l.7 -6.2l.6 6.1l.7 -3.7l.6 4l.6 -1.5l.7 -4l.6 6.8l.7 .5l.6 -3.5l.7 -.4l.6 .3l.6 -1.9l.7 5l.6 -3.8l.7 1.2l.6 -1.7l.6 .5l.7 -1.5l.6 6.1l.7 -3.3l.6 2.7l.6 -2.2l.7 -1.6l.6 .9l.7 -.5l.6 1.4l.7 -.9l.6 .3l.6 -2.5l.7 1.4l.6 5.9l.7 -5.4l.6 -.9l.6 3.4l.7 2.6l.6 -6.7l.7 3.1l.6 -.9l.6 -2.6l.7 6l.6 -1.6l.7 .3l.6 -1.8l.7 3l.6 -2.2l.6 1.1l.7 -2.2l.6 -.1l.7 6.1l.6 -4.1l.6 2l.7 -.6l.6 -.9l.7 0l.6 2.8l.6 -2.1l.7 .5l.6 .6l.7 2.8l.6 -1.1l.7 -.5l.6 -2.1l.6 -1.8l.7 5.6l.6 .1l.7 -2.4l.6 1.7l.6 .7l.7 .2l.6 .4l.7 -3.1l.6 4.7l.6 -6.2l.7 5l.6 -.7l.7 1l.6 2.5l.7 -.7l.6 -5.9l.6 -1.1l.7 5.9l.6 -4l.7 2.4l.6 2.1l.6 -5.6l.7 -1l.6 5.5l.7 -.4l.6 -.7l.7 .7l.6 -2.1l.6 -1.5l.7 3.1l.6 -1.8l.7 -1.6l.6 4.9l.6 -1.3l.7 1.1l.6 -3.2l.7 .8l.6 -.8l.6 .3l.7 2.4l.6 -2.2l.7 2.6l.6 -.1l.7 3.8l.6 -7.7l.6 5.2l.7 -2.2l.6 .2l.7 -3.2l.6 2.3l.6 2.8l.7 -1.8l.6 .4l.7 -.7l.6 3.3l.6 -2.6l.7 -4.8l.6 3.5l.7 -2.8l.6 -2.7l.7 6.1l.6 4.3l.6 -2.8l.7 -2.6l.6 .6l.7 4.8l.6 -2.1l.6 -.1l.7 -.1l.6 .4l.7 1.9l.6 -.5l.6 -.6l.7 -2.6l.6 3.6l.7 -2.6l.6 4.1l.7 -5.1l.6 2.6l.6 .4l.7 -2.9l.6 6.9l.7 -.5l.6 -4.2l.6 2.8l.7 -.8l.6 -6.5l.7 6.4l.6 -.6l.6 .4l.7 -2.5l.6 1.8l.7 .3l.6 3l.7 -1.8l.6 -.7l.6 3.3l.7 -4.5l.6 .3l.7 -3.1l.6 7.4l.6 -1.3l.7 -.1l.6 -.6l.7 -1.2l.6 .2l.7 -1l.6 .1l.6 .6l.7 3.1l.6 -2l.7 -1.4l.6 -1.1l.6 -.1l.7 4.8l.6 -2.4l.7 -.9l.6 -.9l.6 -1.7l.7 2.2l.6 2l.7 -2.8l.6 .4l.7 -.1l.6 .7l.6 -3.7l.7 2.9l.6 -1.4l.7 3.7l.6 -3.6l.6 2.9l.7 2l.6 -3.9l.7 -.6l.6 1.7l.6 -.5l.7 -2.1l.6 3.1l.7 3.3l.6 -4.8l.7 .1l.6 -1.8l.6 2.9l.7 -3.3l.6 .3l.7 5l.6 -4.6l.6 4.2l.7 .9l.6 -2.7l.7 .7l.6 2.9l.6 -4.5l.7 -.8l.6 -1.6l.7 2.9l.6 3.1l.7 -1.1l.6 -4l.6 .2l.7 .8l.6 1.7l.7 -1l.6 .9l.6 .2l.7 -1.2l.6 .5l.7 .6l.6 -.6l.6 1.2l.7 2.9l.6 -2.6l.7 -1.2l.6 -3.6l.7 4.4l.6 -4.9l.6 1.2l.7 4.7l.6 -.3l.7 -1.8l.6 -3.2l.6 2.8l.7 -.6l.6 2.7l.7 3.4l.6 -4.3l.7 -2l.6 -.8l.6 2.3l.7 -.3l.6 -2l.7 2.6l.6 -2.6l.6 4.7l.7 -.1l.6 0l.7 -3.2l.6 2l.6 -1.3l.7 -.5l.6 .1l.7 -2l.6 -.3l.7 4.6l.6 -2l.6 .8l.7 1.6l.6 -5.5l.7 1.9l.6 2l.6 .4l.7 -1.5l.6 2.9l.7 -1.6l.6 -2.9l.6 .6l.7 3.5l.6 -.6l.7 -4.8l.6 6.6l.7 -1.5l.6 1.5l.6 -3.5l.7 .2l.6 -1.7l.7 7.3l.6 -5.4l.6 3.5l.7 -4.5l.6 1.6l.7 -3.7l.6 2.6l.6 2.7l.7 -4.5l.6 4.6l.7 -1.5l.6 -2.8l.7 1.1l.6 .1l.6 .7l.7 -.9l.6 -.7l.7 1.1l.6 -1.5l.6 -.6l.7 2.5l.6 1.8l.7 -4.8l.6 3l.6 -1.3l.7 -.7l.6 3.5l.7 -2.7l.6 3.9l.7 -4.5l.6 2.2l.6 -1.3l.7 -1.1l.6 2.6l.7 -1.6l.6 1.4l.6 -1.3l.7 -2.2l.6 1.9l.7 .2l.6 1.6l.7 -3.7l.6 1.6l.6 -3.5l.7 4.5l.6 -3.5l.7 -1.5l.6 3.2l.6 2.1l.7 -5.3l.6 .7l.7 .4l.6 -.9l.6 2.7l.7 -2.6l.6 -.1l.7 2.3l.6 -2.9l.7 1.9l.6 -3.1l.6 -.8l.7 -1.7l.6 6.7l.7 -4.7l.6 .5l.6 -1.2l.7 -.3l.6 -1l.7 2.6l.6 -6.7l.6 -2.3l.7 -.4l.6 -2.4l.7 1.9l.6 -2.3l.7 -6.4l.6 -4.4l.6 -2.2l.7 -1.6l.6 -13.8l.7 -.2l.6 -10.7l.6 -4.5l.7 -13.5l.6 -8.9l.7 -13.4l.6 -10.7l.6 -7.4l.7 -12.7l.6 -13.1l.7 -10.2l.6 -8.8l.7 -1.2l.6 .1l.6 2.8l.7 6l.6 6.6l.7 12.4l.6 11.4l.6 14.4l.7 12.8l.6 7.6l.7 9.4l.6 11.1l.6 7.9l.7 7.6l.6 8.2l.7 4.2l.6 8.3l.7 3l.6 4.4l.6 2.4l.7 1.6l.6 1.8l.7 3.1l.6 1l.6 2.8l.7 .6l.6 -1.5l.7 3.5l.6 -1.9l.7 2l.6 1.2l.6 -2.8l.7 4.5l.6 .5l.7 -.2l.6 -.1l.6 .4l.7 -.8l.6 1.6l.7 -.3l.6 1.5l.6 -2.2l.7 2.9l.6 0l.7 -.4l.6 -.3l.7 1.9l.6 -3.9l.6 4l.7 -.2l.6 .2l.7 .3l.6 -1.8l.6 .9l.7 1.7l.6 -.2l.7 -.3l.6 -3l.6 3.8l.7 1.3l.6 -.2l.7 -1.3l.6 -3.2l.7 4.6l.6 -1.9l.6 -4.2l.7 5.3l.6 -3.3l.7 .5l.6 1.2l.6 3.5l.7 -2.9l.6 1.3l.7 2.7l.6 -.2l.6 -3l.7 -.2l.6 -1.8l.7 1.1l.6 2.1l.7 0l.6 -.5l.6 1.7l.7 -3.1l.6 1.3l.7 1.5l.6 -.2l.6 1l.7 -1.1l.6 -1.2l.7 1.3l.6 -2.3l.6 -1l.7 4l.6 -1l.7 .8l.6 -3.5l.7 2.5l.6 -.3l.6 -.4l.7 -2.4l.6 3.5l.7 2.2l.6 -.8l.6 -1.6l.7 1.1l.6 1.4l.7 -6.1l.6 4.7l.7 1.2l.6 .3l.6 1.8l.7 -.9l.6 -1.4l.7 .1l.6 .9l.6 -2.3l.7 .9l.6 1.7l.7 1.9l.6 -3.6l.6 .3l.7 .5l.6 2.1l.7 -2.3l.6 2.7l.7 -4.2l.6 1.5l.6 .1l.7 1.7l.6 .6l.7 -4.4l.6 1.1l.6 2.3l.7 -1.7l.6 -1.4l.7 4.4l.6 -.9l.6 0l.7 -1.7l.6 2.6l.7 -2.2l.6 2.3l.7 -3.4l.6 .1l.6 1.8l.7 -1.6l.6 2.4l.7 -.8l.6 -2l.6 1.7l.7 -.7l.6 2.1l.7 -2.6l.6 .3l.6 2.8l.7 1.7l.6 -.4l.7 -3.3l.6 .3l.7 2.2l.6 -2.8l.6 -1.4l.7 1.8l.6 .6l.7 -2.1l.6 -1.3l.6 .4l.7 3.6l.6 -2.4l.7 1.2l.6 .6l.6 .8l.7 -1.5l.6 1.5l.7 -2.2l.6 1l.7 -1l.6 3.7l.6 -1.8l.7 -1l.6 .7l.7 .4l.6 1.6l.6 -3.6l.7 1l.6 1.2l.7 5l.6 -2.5l.7 -1.6l.6 1.4l.6 2.4l.7 -3.7l.6 -.1l.7 2.7l.6 -1.1l.6 .4l.7 -1.9l.6 4.1l.7 -.3l.6 -1.8l.6 .3l.7 -4.4l.6 4.5l.7 -1.3l.6 1.1l.7 .5l.6 -1.6l.6 -2.1l.7 3.4l.6 -1.8l.7 .8l.6 -.4l.6 .5l.7 -3.1l.6 5.8l.7 -1.5l.6 1.4l.6 1.5l.7 -3.1l.6 -2.9l.7 1.5l.6 -.4l.7 1.2l.6 1l.6 -3.3l.7 3.8l.6 -2.9l.7 2.9l.6 -.6l.6 -.2l.7 .4l.6 -.7l.7 -.1l.6 -1.7l.6 2.7l.7 3.1l.6 .2l.7 -1l.6 -1l.7 -2.1l.6 3.4l.6 -2.4l.7 0l.6 -.3l.7 .7l.6 -.9l.6 .6l.7 -1.5l.6 1.1l.7 4.3l.6 -3.7l.6 -.3l.7 1.3l.6 .3l.7 -2.9l.6 1.5l.7 1.8l.6 -1l.6 -.2l.7 2.2l.6 -3.4l.7 1.2l.6 -.9l.6 3.1l.7 -5.3l.6 2l.7 .3l.6 1.9l.7 -.1l.6 1.3l.6 -4.6l.7 3.6l.6 -1.6l.7 -.5l.6 1.9l.6 -2.2l.7 -1.8l.6 2.7l.7 -1.7l.6 1.4l.6 1.6l.7 -.1l.6 2l.7 -2.7l.6 -2l.7 1.2l.6 -.2l.6 -.4l.7 2.6l.6 -1.7l.7 -2l.6 4.2l.6 -1.2l.7 .7l.6 -.3l.7 .8l.6 -.8l.6 1.8l.7 -1.2l.6 0l.7 .1l.6 -2.8l.7 2l.6 -.1l.6 .8l.7 -2.4l.6 4.6l.7 -2.2l.6 -2l.6 -.7l.7 2.3l.6 .3l.7 -.9l.6 1.3l.6 -1.1l.7 1.9l.6 -1.9l.7 1.1l.6 1.6l.7 2.4l.6 -5.3l.6 .8l.7 -.5l.6 2.4l.7 -2.9l.6 1l.6 .7l.7 -1.4l.6 0l.7 .8l.6 -2.5l.6 1l.7 1.5l.6 .9l.7 -.6l.6 -2.3l.7 1.9l.6 1.9l.6 -.4l.7 -1l.6 -1.2l.7 2.2l.6 -1.8l.6 -.9l.7 .5l.6 3.3l.7 -1.8l.6 1.3l.7 -2.5l.6 2.1l.6 -2.3l.7 .5l.6 3.8l.7 -2.6l.6 -1.9l.6 .5l.7 .5l.6 1.1l.7 -2.6l.6 -1.9l.6 1.9l.7 .3l.6 -.1l.7 1.6l.6 -1.7l.7 .5l.6 -3.1l.6 2.6l.7 1.4l.6 -2.2l.7 -1.1l.6 -.5l.6 2l.7 -4.3l.6 .7l.7 .4l.6 -.1l.6 -2.1l.7 .6l.6 -1.3l.7 .1l.6 -.8l.7 -1.8l.6 1.2l.6 .9l.7 -3l.6 .8l.7 1.1l.6 -2.6l.6 1.6l.7 -1.8l.6 3.1l.7 1.7l.6 -.3l.6 -3.1l.7 1.4l.6 -.8l.7 0l.6 2l.7 -4l.6 3.2l.6 -1.8l.7 1.8l.6 -2.1l.7 -1.7l.6 .7l.6 -.1l.7 -1.9l.6 -.3l.7 -2.5l.6 -3.5l.6 3l.7 -1.7l.6 -2.1l.7 -1.4l.6 .2l.7 -3.1l.6 -1l.6 .3l.7 1.8l.6 -3.3l.7 4.2l.6 -1.6l.6 .5l.7 4.5l.6 -.5l.7 -.3l.6 2.5l.7 3l.6 1.5l.6 -1.2l.7 2.1l.6 1.2l.7 -1.2l.6 1.9l.6 -.1l.7 -.3l.6 .4l.7 1l.6 .2l.6 -.7l.7 .4l.6 2.3l.7 -1l.6 1.1l.7 .7l.6 -.5l.6 2.6l.7 -3.8l.6 2.7l.7 -1.1l.6 3.4l.6 .3l.7 -4.4l.6 1.9l.7 2.7l.6 .7l.6 .4l.7 -.6l.6 1.2l.7 .7l.6 -.5l.7 1.8l.6 -3.9l.6 4.2l.7 -1.9l.6 3l.7 -1.3l.6 -.6l.6 2l.7 -1.5l.6 .3l.7 -.7l.6 2.3l.6 .8l.7 .9l.6 -1.4l.7 1.7l.6 -1.2l.7 0l.6 1l.6 .8l.7 -1.7l.6 .2l.7 .2l.6 .4l.6 -1.2l.7 2.6l.6 -1.8l.7 1.2l.6 -1.6l.6 1.6l.7 .2l.6 -1l.7 3.2l.6 -2.1l.7 1.9l.6 -1l.6 -2l.7 .4l.6 1.1l.7 -.5l.6 .1l.6 -.4l.7 -1.9l.6 2l.7 -2.5l.6 3.4l.7 -1.4l.6 0l.6 .7l.7 .6l.6 -2.1l.7 -.4l.6 .9l.6 -1.2l.7 1.4l.6 3.3l.7 -3.3l.6 2.1l.6 -2.5l.7 2.2l.6 -.8l.7 .4l.6 .8l.7 1.5l.6 -1.9l.6 -.1l.7 -1.3l.6 2l.7 -1l.6 1.3l.6 -1l.7 2.2l.6 -4.6l.7 2.2l.6 1.4l.6 -1.4l.7 -.6l.6 .7l.7 -1.3l.6 1.8l.7 2.9l.6 -1.5l.6 -2.8l.7 .3l.6 .6l.7 1.8l.6 -2.2l.6 .2l.7 1.9l.6 0l.7 -1.5l.6 -.9l.6 -.5l.7 1.1l.6 -1.9l.7 3.6l.6 -1.6l.7 1.3l.6 1.7l.6 -.8l.7 -2.8l.6 2.4l.7 .4l.6 -2.3l.6 -.2l.7 1l.6 -1.8l.7 3.7l.6 -4.6l.6 1.5l.7 1l.6 .1l.7 .5l.6 .1l.7 -.6l.6 1.7l.6 -4l.7 2.6l.6 -.8l.7 1l.6 .1l.6 -1.3l.7 .3l.6 1.7l.7 -.5l.6 -1.2l.7 3.2l.6 .4l.6 -4.5l.7 2.1l.6 2.6l.7 -2l.6 -.7l.6 -.5l.7 -.3l.6 .4l.7 -.4l.6 1.5l.6 -1.3l.7 0l.6 -.9l.7 1.4l.6 -1l.7 .9l.6 1.4l.6 -.7l.7 .1l.6 -.1l.7 -.3l.6 -.2l.6 -.2l.7 1.3l.6 -2.2l.7 2.9l.6 -1.5l.6 -.9l.7 .3l.6 -.2l.7 1l.6 -1l.7 2.2l.6 -2.3l.6 -1.7l.7 1.8l.6 -1.5l.7 2.4l.6 1.3l.6 -.5l.7 -2.3l.6 .7l.7 3l.6 -1.7l.6 -.4l.7 1.3l.6 1.6l.7 -1.3l.6 -1.4l.7 .3l.6 .3l.6 -1.5l.7 -.5l.6 1.3l.7 -1.1l.6 1l.6 .2l.7 2.7l.6 -3.8l.7 .9l.6 -.1l.6 .8l.7 .7l.6 -1.8l.7 -.4l.6 -1l.7 .9l.6 1.7l.6 -.5l.7 -1.3l.6 .8l.7 .5l.6 .5l.6 -1.3l.7 .4l.6 -1.8l.7 .8l.6 3.3l.7 -4.5l.6 2.2l.6 .6l.7 -.7l.6 -.5l.7 .9l.6 .1l.6 -.1l.7 -2.1l.6 2l.7 -.8l.6 .3l.6 1l.7 .4l.6 .3l.7 -1.6l.6 1.7l.7 .3l.6 -.1l.6 .3l.7 -1.8l.6 -.1l.7 1.2l.6 -2.6l.6 1.9l.7 -.9l.6 .2l.7 -1.7l.6 1l.6 1l.7 1.1l.6 .1l.7 -1.3l.6 -.1l.7 -.8l.6 1.4l.6 -.8l.7 1l.6 1.3l.7 -2.1l.6 -1.8l.6 .7l.7 -.7l.6 .3l.7 2.8l.6 -1.3l.6 -2.1l.7 2.5l.6 .7l.7 -2l.6 -.5l.7 .3l.6 .7l.6 .3l.7 .5l.6 -.1l.7 -.2l.6 .1l.6 -1l.7 -2.8l.6 1.4l.7 .3l.6 -1.2l.6 1.2l.7 -1.9l.6 -1.2l.7 2.3l.6 -1.6l.7 -1.3l.6 0l.6 -.8l.7 -1.9l.6 -4.5l.7 .7l.6 -1.3l.6 -2.4l.7 -.4l.6 -.9l.7 -4.1l.6 -3l.7 1.3l.6 -5.3l.6 -3.3l.7 -.6l.6 -2l.7 -3.3l.6 .2l.6 -2.7l.7 -1.1l.6 1.2l.7 1.2l.6 -.7l.6 2.6l.7 1.4l.6 5.6l.7 -1.8l.6 4.8l.7 .8l.6 2.3l.6 3.3l.7 2.4l.6 2.6l.7 .8l.6 .7l.6 1.7l.7 2.7l.6 1.4l.7 2.1l.6 -.1l.6 1.7l.7 1.3l.6 -.9l.7 -1.3l.6 .9l.7 .2l.6 3.9l.6 -2.4l.7 2.7l.6 -.5l.7 1.6l.6 -.6l.6 -1.1l.7 .1l.6 .5l.7 .2l.6 -.7l.6 .7l.7 2.1l.6 -3.8l.7 2.4l.6 -1.2l.7 1.3l.6 .9l.6 -1l.7 1.1l.6 -2.7l.7 3.2l.6 -1.9l.6 1.5l.7 -.5l.6 -3.1l.7 2.1l.6 1.2l.6 1.6l.7 -1.4l.6 0l.7 -1.9l.6 3.3l.7 .5l.6 -2l.6 -.3l.7 -1.6l.6 3l.7 2.1l.6 -2.3l.6 .7l.7 -.8l.6 -1.8l.7 2.7l.6 -2.9l.7 1.2l.6 .6l.6 .7l.7 -.5l.6 0l.7 -1.3l.6 -.6l.6 1.6l.7 -.9l.6 -.6l.7 0l.6 1l.6 -1.6l.7 .6l.6 -.3l.7 2.2l.6 .3l.7 1.9l.6 -4l.6 .9l.7 1.9l.6 -1.3l.7 -.1l.6 2.4l.6 -2.3l.7 -.9l.6 -.2l.7 1.9l.6 0l.6 -1.9l.7 .5l.6 1.7l.7 .1l.6 -1.4l.7 1.5l.6 -.1l.6 -2.7l.7 1.8l.6 .8l.7 -1.1l.6 -1.8l.6 2.1l.7 1.2l.6 1l.7 -4.3l.6 5.5l.6 -4.3l.7 2.4l.6 .3l.7 -.2l.6 -1l.7 -1.5l.6 2.1l.6 -1.6l.7 -2l.6 6.1l.7 -2.4l.6 1.2l.6 -3.1l.7 2.7l.6 .2l.7 -.1l.6 -1.8l.6 -1.3l.7 1.1l.6 -2.3l.7 .6l.6 2l.7 -1.3l.6 1l.6 0l.7 2.3l.6 -.7l.7 -1.5l.6 1.4l.6 -2.3l.7 .5l.6 1.4l.7 -2.5l.6 1l.7 -1.2l.6 1.6l.6 1.7l.7 -2.7l.6 1l.7 -1.3l.6 -.3l.6 -.2l.7 3l.6 1l.7 -2.2l.6 -1.5l.6 1.6l.7 -1.3l.6 1.2l.7 -.7l.6 -.2l.7 .2l.6 -1.5l.6 0l.7 -1.8l.6 1.2l.7 -1.4l.6 1.1l.6 -1.3l.7 .8l.6 -.1l.7 -2.7l.6 .1l.6 -.8l.7 1.2l.6 .3l.7 -1.8l.6 -2.3l.7 1.1l.6 -4.5l.6 2.3l.7 -3.6l.6 -3.6l.7 4.9l.6 -2.4l.6 -4.1l.7 .1l.6 -1.5l.7 -.6l.6 -2.6l.6 .3l.7 .8l.6 -.5l.7 1.1l.6 -1.1l.7 3l.6 -2.9l.6 1.8l.7 -1.6l.6 1.6l.7 3.7l.6 -1.7l.6 2.5l.7 0l.6 -.4l.7 1.3l.6 .2l.6 .4l.7 1.5l.6 -.1l.7 -1.4l.6 -.6l.7 .9l.6 -.9l.6 .7l.7 1.1l.6 -2.8l.7 -1.8l.6 -1.1l.6 -1.7l.7 -.9l.6 -.9l.7 -.1l.6 -.6l.7 .9l.6 -1.5l.6 .2l.7 -.9l.6 3.7l.7 -.5l.6 2.3l.6 -.1l.7 2l.6 -.7l.7 2.3l.6 3.6l.6 -3.1l.7 4l.6 1.8l.7 -.2l.6 1.5l.7 1.6l.6 -1.2l.6 2.2l.7 -.6l.6 1l.7 .8l.6 1.2l.6 .9l.7 .9l.6 -1.6l.7 4.3l.6 -.6l.6 -.1l.7 -.9l.6 .6l.7 .9l.6 .1l.7 -2.2l.6 3l.6 2.6l.7 -5.3l.6 3.4l.7 -.6l.6 -.4l.6 1.8l.7 -2.8l.6 1.6l.7 1.6l.6 -1.8l.6 -.2l.7 .7l.6 -.6l.7 2.3l.6 -2.7l.7 2.1l.6 -2.4l.6 2.3l.7 -.9l.6 -2.7l.7 3l.6 -1.2l.6 .8l.7 2.3l.6 -3l.7 .1l.6 2.9l.6 -1.5l.7 1.7l.6 -1.4l.7 -1.3l.6 1l.7 1.5l.6 -.3l.6 -1.1l.7 .1l.6 -.1l.7 -.5l.6 2.9l.6 -2.2l.7 -1.3l.6 .8l.7 1.4l.6 0l.7 -.9l.6 -.6l.6 .9l.7 -1.9l.6 .4l.7 2.5l.6 -1.5l.6 1.1l.7 1l.6 -.7l.7 -.6l.6 2.4l.6 -1.6l.7 -1.2l.6 1.3l.7 -.3l.6 -1.4l.7 1l.6 -.2l.6 -2l.7 2l.6 -.1l.7 -.1l.6 -1.4l.6 1.5l.7 .4l.6 .2l.7 -1.4l.6 2l.6 -2.1l.7 1.1l.6 1.8l.7 -2.3l.6 .2l.7 1.8l.6 -1.7l.6 .1l.7 .6l.6 1l.7 -3.7l.6 1.5l.6 -.2l.7 -.1l.6 .3l.7 0l.6 1.3l.6 -1.4l.7 1.1l.6 .4l.7 -1.3l.6 .9l.7 1.7l.6 -1.5l.6 -1.1l.7 .7l.6 -1l.7 1.3l.6 .7l.6 -1.9l.7 .7l.6 1.5l.7 -1.8l.6 .7l.6 -1.3l.7 .2l.6 .3l.7 3l.6 -2.8l.7 -.2l.6 0l.6 .4l.7 .9l.6 -.5l.7 2.1l.6 -2l.6 1.3l.7 -1.2l.6 .3l.7 -2.2l.6 1.5l.7 0l.6 -.1l.6 -2.1l.7 3.3l.6 -1.4l.7 0l.6 .2l.6 0l.7 .8l.6 -1.9l.7 .4l.6 1.4l.6 -.2l.7 -.6l.6 -.2l.7 -.2l.6 .8l.7 1.4l.6 -2.5l.6 2.9l.7 -.8l.6 -1.4l.7 1.3l.6 -2.4l.6 -.3l.7 .5l.6 .9l.7 .1l.6 -.2l.6 .7l.7 -2.5l.6 2.9l.7 -2.1l.6 .8l.7 .3l.6 -.9l.6 -.2l.7 .4l.6 1l.7 .7l.6 -.1l.6 -1.7l.7 .2l.6 -.2l.7 1.5l.6 -2.7l.6 3.5l.7 -1.9l.6 -.3l.7 1.1l.6 .8l.7 -.8l.6 .7l.6 -1.1l.7 1.2l.6 -.1l.7 -1.5l.6 1.6l.6 -1.5l.7 -.1l.6 -1.2l.7 .6l.6 1l.6 -2.4l.7 2l.6 -.5l.7 -.3l.6 -2.9l.7 2.1l.6 .5l.6 -1.8l.7 .6l.6 -3l.7 3l.6 -1.9l.6 1.2l.7 -3.4l.6 2.2l.7 -1.5l.6 .5l.7 -2.5l.6 -.3l.6 2.4l.7 -4l.6 -.6l.7 -.3l.6 -1.6l.6 1.6l.7 -.2l.6 -3.4l.7 -1.8l.6 2.4l.6 -.6l.7 -.9l.6 -.1l.7 -2.4l.6 .5l.7 -1.4l.6 .1l.6 2.8l.7 -1.5l.6 3.6l.7 -1.8l.6 -.1l.6 2.2l.7 1.8l.6 -.6l.7 -1.1l.6 2.5l.6 1.9l.7 -1.2l.6 .4l.7 2.7l.6 -.3l.7 -.6l.6 1.4l.6 .2l.7 1.7l.6 .3l.7 1.6l.6 0l.6 -2l.7 2.5l.6 .8l.7 -.1l.6 .9l.6 -1.4l.7 -.2l.6 2.2l.7 -1.9l.6 -1l.7 3.6l.6 -1.7l.6 .5l.7 -1l.6 .2l.7 .3l.6 .9l.6 .9l.7 -2.8l.6 3.4l.7 -2l.6 .2l.6 1.9l.7 -.7l.6 -1.5l.7 3.6l.6 -2.8l.7 1.2l.6 0l.6 1.4l.7 -2l.6 1.6l.7 -1.8l.6 2l.6 -1.9l.7 .4l.6 2.5l.7 -1.7l.6 -.2l.7 2.3l.6 -1.9l.6 -1.3l.7 1.7l.6 -2l.7 2.5l.6 .1l.6 -1.9l.7 0l.6 .8l.7 -.1l.6 -1l.6 1.6l.7 -2.7l.6 1.7l.7 0l.6 .2l.7 .6l.6 -1.6l.6 1.9l.7 -.8l.6 -.4l.7 -.8l.6 .2l.6 1.7l.7 -1.4l.6 1.1l.7 1l.6 0l.6 .6l.7 -2l.6 -.8l.7 2.3l.6 -.8l.7 .9l.6 -1.2l.6 1.3l.7 -.4l.6 -.1l.7 -.2l.6 -.1l.6 -.2l.7 0l.6 .9l.7 -1.6l.6 2.4l.6 -2l.7 1.2l.6 -1.1l.7 -.2l.6 2.5l.7 -2.5l.6 -1l.6 .6l.7 .5l.6 2.6l.7 -2.1l.6 .8l.6 -2l.7 1.4l.6 .4l.7 1.2l.6 -2.6l.6 1.4l.7 -.3l.6 -1.4l.7 1l.6 -.2l.7 -2.2l.6 3.1l.6 0l.7 -1.1l.6 -.9l.7 3l.6 -1.3l.6 .8l.7 .4l.6 -2.1l.7 1.4l.6 -1.1l.7 .2l.6 0l.6 .1l.7 1.1l.6 -1l.7 -.3l.6 -.2l.6 .7l.7 -1.3l.6 .4l.7 .4l.6 -.5l.6 .5l.7 -.6l.6 2.8l.7 -.8l.6 -.9l.7 -.5l.6 2.3l.6 -2l.7 -.4l.6 .4l.7 -.1l.6 1.2l.6 -1.6l.7 2.2l.6 -3.1l.7 1.6l.6 -1.8l.6 2.9l.7 -2.3l.6 .2l.7 1l.6 .3l.7 -2.6l.6 .7l.6 -1.2l.7 1.5l.6 -.3l.7 -.4l.6 -.5l.6 .2l.7 -.6l.6 1.1l.7 .9l.6 -3.8l.6 1.6l.7 -.6l.6 .7l.7 -1.8l.6 .5l.7 -1.2l.6 1.5l.6 -1l.7 -.6l.6 .2l.7 -1l.6 -1.6l.6 1.9l.7 -.6l.6 -.6l.7 1l.6 .1l.6 -2.4l.7 .3l.6 2.5l.7 0l.6 -2l.7 -.3l.6 .8l.6 .5l.7 -.9l.6 2l.7 -1.1l.6 .4l.6 2.5l.7 -1.4l.6 .9l.7 1l.6 .4l.7 -1l.6 .5l.6 -.7l.7 2.7l.6 -1l.7 -1.8l.6 1.2l.6 .7l.7 -.3l.6 1.4l.7 -.6l.6 -2.1l.6 .3l.7 -1.4l.6 1.4l.7 -.3l.6 2.3l.7 -2.9l.6 -2.6l.6 1.1l.7 .5l.6 -1.8l.7 .1l.6 .1l.6 .4l.7 -.9l.6 -1l.7 1.4l.6 -1.6l.6 -.1l.7 -1.1l.6 .6l.7 1.5l.6 -2.2l.7 1.7l.6 1.1l.6 -.9l.7 1l.6 -1.1l.7 2.9l.6 .2l.6 -.5l.7 -1.7l.6 1.1l.7 2.5l.6 1.1l.6 -1.1l.7 1.3l.6 -1.6l.7 .7l.6 .5l.7 .7l.6 -1.8l.6 2.7l.7 .6l.6 -2.3l.7 -.1l.6 1.9l.6 -.9l.7 -1.7l.6 3.4l.7 -.6l.6 -.6l.6 2.8l.7 -2l.6 -.9l.7 1l.6 -1.2l.7 .4l.6 1.2l.6 -1l.7 .2l.6 2.2l.7 -.8l.6 -.1l.6 -.2l.7 -.1l.6 1.1l.7 -1.5l.6 1.9l.7 -2.9l.6 .8l.6 -1.2l.7 1.1l.6 .9l.7 .9l.6 -2.1l.6 .7l.7 -.4l.6 -.4l.7 -.4l.6 1.3l.6 -1.9l.7 1.9l.6 -.1l.7 -.7l.6 -.3l.7 -.4l.6 3.3l.6 -3.2l.7 2.9l.6 -1l.7 -1l.6 -.8l.6 2.3l.7 .7l.6 -2.7l.7 .6l.6 1.4l.6 -.8l.7 1.7l.6 -2.6l.7 1.1l.6 -1.8l.7 3.4l.6 -2.9l.6 -1.5l.7 2.1l.6 0l.7 2.1l.6 -2.3l.6 .3l.7 .6l.6 1l.7 -1.7l.6 1.1l.6 -.5l.7 -.9l.6 .4l.7 -.1l.6 -1l.7 2.2l.6 -2.7l.6 2.6l.7 -.3l.6 -1l.7 -.8l.6 .6l.6 .6l.7 .3l.6 -.5l.7 .6l.6 -1.6l.6 .8l.7 -1.9l.6 2.3l.7 -.7l.6 -.6l.7 1.5l.6 -.6l.6 -3.6l.7 2.8l.6 -1.6l.7 2.4l.6 1.4l.6 -3.2l.7 .5l.6 -.5l.7 .5l.6 .1l.7 .5l.6 -2.5l.6 2.4l.7 -2.8l.6 1l.7 .7l.6 -.7l.6 -1.9l.7 -.1l.6 0l.7 .1l.6 .9l.6 -2.7l.7 1.4l.6 -.2l.7 -.4l.6 -.4l.7 .7l.6 -1.4l.6 .1l.7 -.7l.6 .9l.7 -4l.6 2.9l.6 -1.8l.7 -.3l.6 -.9l.7 -1.1l.6 1.3l.6 -.4l.7 1.1l.6 -2l.7 2.9l.6 -1.1l.7 -.4l.6 -.3l.6 .1l.7 -.2l.6 .9l.7 .8l.6 .1l.6 -.9l.7 1.4l.6 -.3l.7 1.4l.6 2.1l.6 -.9l.7 -.6l.6 -1l.7 .6l.6 0l.7 2.7l.6 -1.1l.6 1.1l.7 -.4l.6 1l.7 1.6l.6 -1.9l.6 .6l.7 -.2l.6 1.9l.7 -1.7l.6 .1l.6 -.1l.7 .2l.6 2l.7 2.3l.6 -3.4l.7 2l.6 -.5l.6 -1.3l.7 .9l.6 .2l.7 -.4l.6 2.7l.6 -3.7l.7 2.3l.6 0l.7 -.8l.6 .8l.7 .8l.6 -.7l.6 .3l.7 .3l.6 -2.6l.7 3.5l.6 .8l.6 -1.3l.7 .1l.6 -2.4l.7 1.3l.6 -.6l.6 .2l.7 1.6l.6 -1.8l.7 .7l.6 -1.7l.7 1.7l.6 .3l.6 -.8l.7 0l.6 2.6l.7 -3l.6 .1l.6 .3l.7 2l.6 .9l.7 -1.7l.6 -1.1l.6 .3l.7 1.5l.6 -1.9l.7 2.3l.6 0l.7 -1.3l.6 .6l.6 .1l.7 .8l.6 -2.6l.7 2.2l.6 -1.5l.6 -.4l.7 .9l.6 -.3l.7 -.8l.6 -.5l.6 .6l.7 2.4l.6 .5l.7 -1.3l.6 .5l.7 -1.6l.6 .4l.6 .4l.7 -1.4l.6 .1l.7 1.1l.6 -.4l.6 -.7l.7 1.4l.6 -.6l.7 1.3l.6 -1l.6 -.3l.7 .4l.6 -.3l.7 -.5l.6 .3l.7 1.1l.6 -.1l.6 .7l.7 -3l.6 1.3l.7 0l.6 .6l.6 -.6l.7 -.1l.6 1.3l.7 -.6l.6 -1.3l.7 2.4l.6 -.3l.6 -1.6l.7 1.4l.6 -1.5l.7 1.8l.6 -1.3l.6 -.6l.7 .4l.6 -.3l.7 .9l.6 0l.6 -.2l.7 -.6l.6 -3l.7 3.7l.6 -2l.7 2.1l.6 .9l.6 -.9l.7 -.6l.6 .2l.7 0l.6 -.4l.6 0l.7 -.3l.6 2l.7 -1.2l.6 1l.6 -1.2l.7 .3l.6 -.2l.7 .6l.6 .3l.7 -.5l.6 -.9l.6 -.1l.7 2.3l.6 -1.9l.7 0l.6 1.7l.6 -.4l.7 -.5l.6 -.9l.7 2.7l.6 -2l.6 .2l.7 -.7l.6 -1.2l.7 0l.6 1.7l.7 0l.6 -.6l.6 -.9l.7 -.3l.6 1.1l.7 -1.1l.6 2.2l.6 .3l.7 1.6l.6 -1.9l.7 -1.5l.6 -.2l.6 -2.5l.7 2.7l.6 .4l.7 1.1l.6 -.4l.7 0l.6 -.4l.6 .4l.7 .7l.6 -2.4l.7 .5l.6 -.9l.6 2.9l.7 -.3l.6 -.6l.7 -1.9l.6 1.3l.7 -.5l.6 .3l.6 -.3l.7 .6l.6 -.9l.7 1.1l.6 -.6l.6 -.6l.7 .1l.6 -.4l.7 1.1l.6 -1.1l.6 .5l.7 -.8l.6 -1.1l.7 2.2l.6 -2l.7 1.5l.6 -.3l.6 -2.1l.7 .5l.6 .3l.7 -.4l.6 -.5l.6 1.7l.7 -1.1l.6 .5l.7 -.9l.6 .5l.6 -1.1l.7 .5l.6 .4l.7 -.6l.6 -.6l.7 -.8l.6 1.1l.6 0l.7 -.7l.6 -.6l.7 1.2l.6 1.8l.6 -2.8l.7 .6l.6 0l.7 -2.9l.6 2.6l.6 -.8l.7 2l.6 -1.5l.7 -.4l.6 .6l.7 .4l.6 -.6l.6 .6l.7 -1.1l.6 1.2l.7 1.1l.6 1.2l.6 -1l.7 -.3l.6 1l.7 0l.6 .8l.6 -.4l.7 -1l.6 .5l.7 0l.6 .3l.7 0l.6 -.8l.6 -1.1l.7 1.4l.6 -1.1l.7 2.1l.6 0l.6 -1.5l.7 2.4l.6 .2l.7 -.6l.6 1.6l.7 .2l.6 -2.8l.6 2.2l.7 -.5l.6 0l.7 .6l.6 -1.5l.6 .2l.7 -.2l.6 .1l.7 .7l.6 -1.3l.6 .4l.7 1.6l.6 -.6l.7 .5l.6 -2.1l.7 1.1l.6 .2l.6 .6l.7 -.6l.6 1.5l.7 -1l.6 .1l.6 .1l.7 .6l.6 -1.1l.7 1.5l.6 -.6l.6 -.2l.7 -.1l.6 .4l.7 .5l.6 -.1l.7 -.5l.6 .5l.6 -.7l.7 1.1l.6 -1.2l.7 -1.9l.6 3.2l.6 -1.2l.7 -1.2l.6 .9l.7 -.6l.6 2.8l.6 -1.5l.7 -1.9l.6 2l.7 -.9l.6 2.2l.7 -2.8l.6 -1.1l.6 2.2l.7 -.4l.6 -.1l.7 -1.6l.6 2.4l.6 1.2l.7 -3.4l.6 2.9l.7 -1.6l.6 2.7l.6 -1.8l.7 -.5l.6 1.2l.7 -.6l.6 -1l.7 1.2l.6 -1.1l.6 -1.2l.7 3.5l.6 -2.2l.7 -.2l.6 .9l.6 -1.8l.7 .2l.6 .8l.7 0l.6 .5l.7 1l.6 -1.5l.6 .9l.7 .1l.6 -1.5l.7 1.2l.6 -1.1l.6 1.9l.7 -.6l.6 -.4l.7 -1.2l.6 1.3l.6 -.8l.7 1.4l.6 -.8l.7 -.6l.6 1.6l.7 -.2l.6 -1.2l.6 1.6l.7 -1.4l.6 0l.7 .4l.6 -.8l.6 .3l.7 .3l.6 1.5l.7 0l.6 -1.6l.6 1.7l.7 -1.5l.6 .4l.7 .4l.6 -.5l.7 2l.6 -2l.6 -1.4l.7 2.3l.6 -1.5l.7 .1l.6 -2.5l.6 3.7l.7 -.2l.6 0l.7 .1l.6 .7l.6 -1.6l.7 .9l.6 -1.5l.7 .3l.6 1.3l.7 -.6l.6 -1.6l.6 1.6l.7 -.5l.6 -.6l.7 1.1l.6 -.7l.6 -1.1l.7 .4l.6 2.7l.7 -3l.6 1.6l.6 .3l.7 0l.6 -1.7l.7 .9l.6 .4l.7 .6l.6 -1.3l.6 -.5l.7 2l.6 .1l.7 -.7l.6 -.9l.6 .9l.7 -.2l.6 .6l.7 -1.9l.6 1.3l.7 -.3l.6 -.8l.6 1.2l.7 -.2l.6 -.4l.7 .7l.6 -1.6l.6 1.2l.7 .5l.6 -.2l.7 .8l.6 -2.1l.6 -.3l.7 1.6l.6 .2l.7 1.5l.6 -1.4l.7 -1.3l.6 1.5l.6 -1.5l.7 -.6l.6 3.7l.7 -2l.6 .3l.6 -.1l.7 1.1l.6 -1.4l.7 .9l.6 -2l.6 -.4l.7 2.6l.6 0l.7 -.9l.6 -.2l.7 -.1l.6 -.7l.6 2l.7 -.8l.6 -.2l.7 -.1l.6 .6l.6 -.5l.7 .3l.6 -1.8l.7 1.5l.6 1.6l.6 -2.5l.7 .4l.6 .9l.7 0" fill="none" stroke="#f00" stroke-width="9" stroke-linejoin="round" stroke-linecap="butt"/>
<g id="legends">
<rect x="1629" y="108" width="406" height="120" fill="#000"/>
<rect x="1631" y="108" width="404" height="118" fill="#fff"/>
<rect x="1641" y="162.0" width="197" height="9" fill="#f00"/>
<text class="lg" x="1856.5" y="196.2">PANI</text>
<rect x="1469" y="543" width="566" height="255" fill="#000"/>
<rect x="1471" y="543" width="564" height="253" fill="#fff"/>
<rect x="1481" y="598.0" width="196" height="9" fill="#000"/>
<text class="lg" x="1695.5" y="632.6">SiO<tspan class="sb" dy="18">2</tspan><tspan dy="-18"> NP´s</tspan></text>
<rect x="1481" y="720.0" width="196" height="9" fill="#f00"/>
<text class="lg" x="1695.5" y="755.0">SiO<tspan class="sb" dy="18">2</tspan><tspan dy="-18">-PANI</tspan></text>
<rect x="1448" y="979" width="587" height="252" fill="#000"/>
<rect x="1450" y="979" width="585" height="250" fill="#fff"/>
<rect x="1461" y="1034.1" width="196" height="9" fill="#000"/>
<text class="lg" x="1673.5" y="1067.9">CeO<tspan class="sb" dy="18">2</tspan><tspan dy="-18"> NP´s</tspan></text>
<rect x="1461" y="1154.2" width="196" height="9" fill="#f00"/>
<text class="lg" x="1673.5" y="1187.3">CeO<tspan class="sb" dy="18">2</tspan><tspan dy="-18">-PANI</tspan></text>
<rect x="1394" y="1415" width="641" height="252" fill="#000"/>
<rect x="1396" y="1415" width="639" height="250" fill="#fff"/>
<rect x="1407" y="1469.7" width="196" height="9" fill="#000"/>
<text class="lg" x="1619.5" y="1503.0">TiO<tspan class="sb" dy="18">2</tspan><tspan dy="-18"> A NP´s</tspan></text>
<rect x="1407" y="1590.1" width="196" height="9" fill="#f00"/>
<text class="lg" x="1619.5" y="1623.5">TiO<tspan class="sb" dy="18">2</tspan><tspan dy="-18"> A-PANI</tspan></text>
</g>
<g id="labels" class="tk">
<text x="330.80" y="1945" text-anchor="middle">10</text>
<text x="544.46" y="1945" text-anchor="middle">20</text>
<text x="758.12" y="1945" text-anchor="middle">30</text>
<text x="971.79" y="1945" text-anchor="middle">40</text>
<text x="1185.45" y="1945" text-anchor="middle">50</text>
<text x="1399.11" y="1945" text-anchor="middle">60</text>
<text x="1612.77" y="1945" text-anchor="middle">70</text>
<text x="1826.44" y="1945" text-anchor="middle">80</text>
<text x="2040.10" y="1945" text-anchor="middle">90</text>
<text x="294" y="129.5" text-anchor="end">3000</text>
<text x="294" y="347.5" text-anchor="end">1500</text>
<text x="294" y="564.5" text-anchor="end">0</text>
<text x="294" y="1436.3" text-anchor="end">3000</text>
<text x="294" y="1654.3" text-anchor="end">1500</text>
<text x="294" y="1871.8" text-anchor="end">0</text>
</g>
<text class="tp" x="531.5" y="86.8" text-anchor="middle">20</text>
<text class="tp" x="636.3" y="86.8" text-anchor="middle">25</text>
<text class="tk" x="366.6" y="217.3">a)</text>
<text class="tk" x="366.6" y="650.2">b)</text>
<text class="tk" x="366.6" y="1091.0">c)</text>
<text class="tk" x="366.6" y="1526.3">d)</text>
<text class="ti" x="1184.5" y="2087" text-anchor="middle">2θ</text>
<text class="ti" transform="translate(99.5 932.6) rotate(-90)" text-anchor="middle">INTENSITY (a.u.)</text>
</svg>
</body></html>
